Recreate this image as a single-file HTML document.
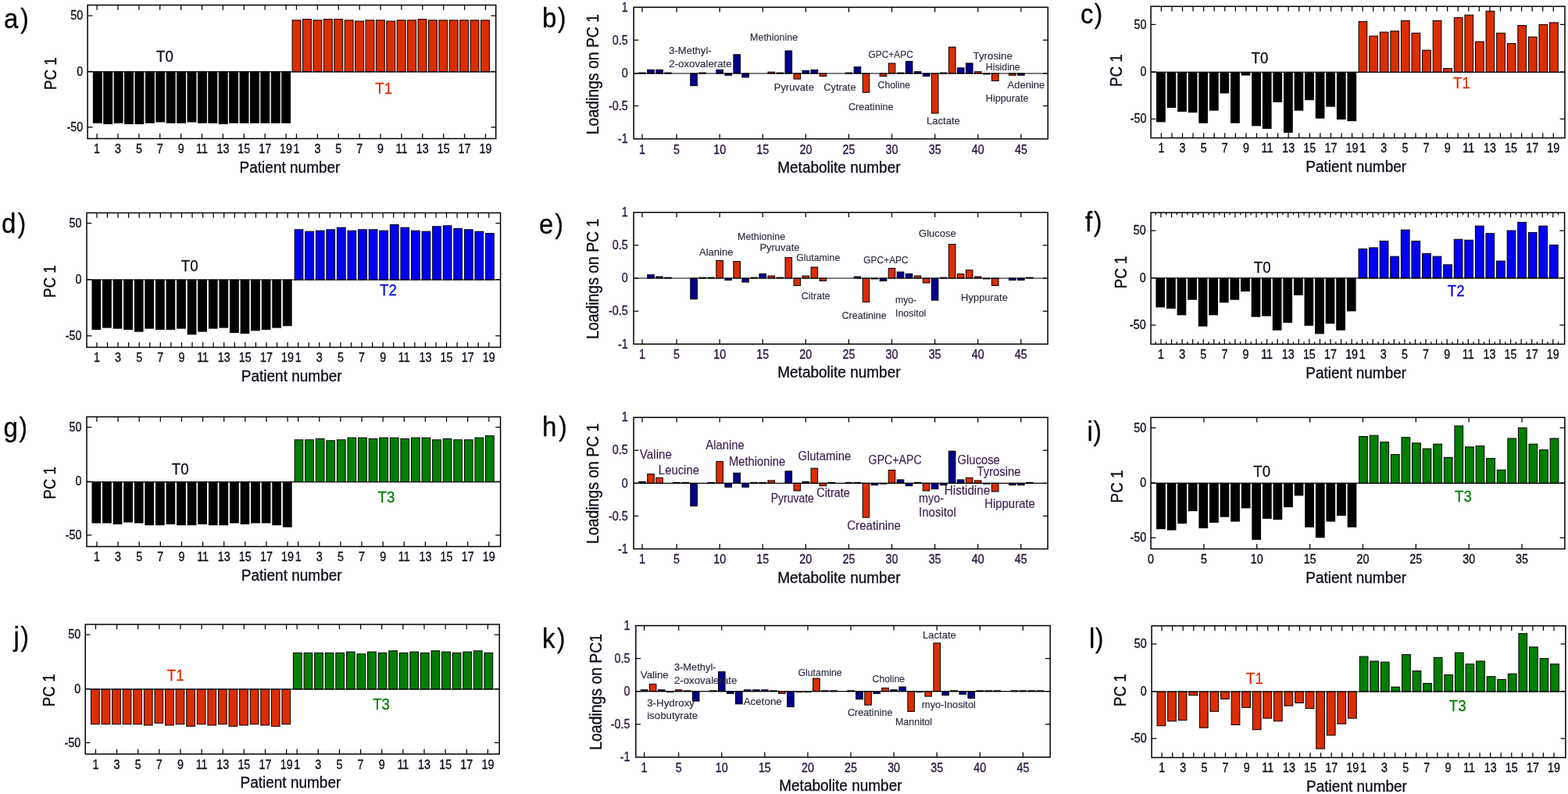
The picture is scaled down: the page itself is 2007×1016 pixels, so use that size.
<!DOCTYPE html>
<html lang="en"><head><meta charset="utf-8"><title>PCA scores and loadings</title>
<style>
html,body{margin:0;padding:0;background:#fff;}
body{width:2007px;height:1016px;overflow:hidden;}
svg{display:block;font-family:"Liberation Sans", Arial, sans-serif;}
</style></head><body>
<svg width="2007" height="1016" viewBox="0 0 2007 1016">
<rect x="0" y="0" width="2007" height="1016" fill="#ffffff"/>
<rect x="119.32" y="91.85" width="10.95" height="65.30" fill="#000000" stroke="#000" stroke-width="1.0"/>
<rect x="132.73" y="91.85" width="10.95" height="66.50" fill="#000000" stroke="#000" stroke-width="1.0"/>
<rect x="146.14" y="91.85" width="10.95" height="65.30" fill="#000000" stroke="#000" stroke-width="1.0"/>
<rect x="159.55" y="91.85" width="10.95" height="66.50" fill="#000000" stroke="#000" stroke-width="1.0"/>
<rect x="172.96" y="91.85" width="10.95" height="66.50" fill="#000000" stroke="#000" stroke-width="1.0"/>
<rect x="186.37" y="91.85" width="10.95" height="65.30" fill="#000000" stroke="#000" stroke-width="1.0"/>
<rect x="199.78" y="91.85" width="10.95" height="64.10" fill="#000000" stroke="#000" stroke-width="1.0"/>
<rect x="213.19" y="91.85" width="10.95" height="65.30" fill="#000000" stroke="#000" stroke-width="1.0"/>
<rect x="226.60" y="91.85" width="10.95" height="65.30" fill="#000000" stroke="#000" stroke-width="1.0"/>
<rect x="240.01" y="91.85" width="10.95" height="64.10" fill="#000000" stroke="#000" stroke-width="1.0"/>
<rect x="253.42" y="91.85" width="10.95" height="65.30" fill="#000000" stroke="#000" stroke-width="1.0"/>
<rect x="266.83" y="91.85" width="10.95" height="65.30" fill="#000000" stroke="#000" stroke-width="1.0"/>
<rect x="280.24" y="91.85" width="10.95" height="66.50" fill="#000000" stroke="#000" stroke-width="1.0"/>
<rect x="293.65" y="91.85" width="10.95" height="65.30" fill="#000000" stroke="#000" stroke-width="1.0"/>
<rect x="307.06" y="91.85" width="10.95" height="65.30" fill="#000000" stroke="#000" stroke-width="1.0"/>
<rect x="320.47" y="91.85" width="10.95" height="65.30" fill="#000000" stroke="#000" stroke-width="1.0"/>
<rect x="333.88" y="91.85" width="10.95" height="65.30" fill="#000000" stroke="#000" stroke-width="1.0"/>
<rect x="347.29" y="91.85" width="10.95" height="65.30" fill="#000000" stroke="#000" stroke-width="1.0"/>
<rect x="360.70" y="91.85" width="10.95" height="65.30" fill="#000000" stroke="#000" stroke-width="1.0"/>
<rect x="374.11" y="25.85" width="10.95" height="66.00" fill="#dc2d00" stroke="#000" stroke-width="1.0"/>
<rect x="387.52" y="24.65" width="10.95" height="67.20" fill="#dc2d00" stroke="#000" stroke-width="1.0"/>
<rect x="400.93" y="25.85" width="10.95" height="66.00" fill="#dc2d00" stroke="#000" stroke-width="1.0"/>
<rect x="414.34" y="24.65" width="10.95" height="67.20" fill="#dc2d00" stroke="#000" stroke-width="1.0"/>
<rect x="427.75" y="24.65" width="10.95" height="67.20" fill="#dc2d00" stroke="#000" stroke-width="1.0"/>
<rect x="441.16" y="25.85" width="10.95" height="66.00" fill="#dc2d00" stroke="#000" stroke-width="1.0"/>
<rect x="454.57" y="27.05" width="10.95" height="64.80" fill="#dc2d00" stroke="#000" stroke-width="1.0"/>
<rect x="467.98" y="25.85" width="10.95" height="66.00" fill="#dc2d00" stroke="#000" stroke-width="1.0"/>
<rect x="481.39" y="25.85" width="10.95" height="66.00" fill="#dc2d00" stroke="#000" stroke-width="1.0"/>
<rect x="494.80" y="27.05" width="10.95" height="64.80" fill="#dc2d00" stroke="#000" stroke-width="1.0"/>
<rect x="508.21" y="25.85" width="10.95" height="66.00" fill="#dc2d00" stroke="#000" stroke-width="1.0"/>
<rect x="521.62" y="25.85" width="10.95" height="66.00" fill="#dc2d00" stroke="#000" stroke-width="1.0"/>
<rect x="535.03" y="24.65" width="10.95" height="67.20" fill="#dc2d00" stroke="#000" stroke-width="1.0"/>
<rect x="548.44" y="25.85" width="10.95" height="66.00" fill="#dc2d00" stroke="#000" stroke-width="1.0"/>
<rect x="561.85" y="25.85" width="10.95" height="66.00" fill="#dc2d00" stroke="#000" stroke-width="1.0"/>
<rect x="575.26" y="25.85" width="10.95" height="66.00" fill="#dc2d00" stroke="#000" stroke-width="1.0"/>
<rect x="588.67" y="25.85" width="10.95" height="66.00" fill="#dc2d00" stroke="#000" stroke-width="1.0"/>
<rect x="602.08" y="25.85" width="10.95" height="66.00" fill="#dc2d00" stroke="#000" stroke-width="1.0"/>
<rect x="615.49" y="25.85" width="10.95" height="66.00" fill="#dc2d00" stroke="#000" stroke-width="1.0"/>
<line x1="112.10" y1="91.85" x2="634.70" y2="91.85" stroke="#000" stroke-width="1.2"/>
<rect x="112.10" y="6.50" width="522.60" height="170.90" fill="none" stroke="#000" stroke-width="1.5"/>
<line x1="124.10" y1="177.40" x2="124.10" y2="171.10" stroke="#000" stroke-width="1.25"/>
<line x1="124.10" y1="6.50" x2="124.10" y2="12.80" stroke="#000" stroke-width="1.25"/>
<line x1="150.98" y1="177.40" x2="150.98" y2="171.10" stroke="#000" stroke-width="1.25"/>
<line x1="150.98" y1="6.50" x2="150.98" y2="12.80" stroke="#000" stroke-width="1.25"/>
<line x1="177.87" y1="177.40" x2="177.87" y2="171.10" stroke="#000" stroke-width="1.25"/>
<line x1="177.87" y1="6.50" x2="177.87" y2="12.80" stroke="#000" stroke-width="1.25"/>
<line x1="204.75" y1="177.40" x2="204.75" y2="171.10" stroke="#000" stroke-width="1.25"/>
<line x1="204.75" y1="6.50" x2="204.75" y2="12.80" stroke="#000" stroke-width="1.25"/>
<line x1="231.64" y1="177.40" x2="231.64" y2="171.10" stroke="#000" stroke-width="1.25"/>
<line x1="231.64" y1="6.50" x2="231.64" y2="12.80" stroke="#000" stroke-width="1.25"/>
<line x1="258.52" y1="177.40" x2="258.52" y2="171.10" stroke="#000" stroke-width="1.25"/>
<line x1="258.52" y1="6.50" x2="258.52" y2="12.80" stroke="#000" stroke-width="1.25"/>
<line x1="285.40" y1="177.40" x2="285.40" y2="171.10" stroke="#000" stroke-width="1.25"/>
<line x1="285.40" y1="6.50" x2="285.40" y2="12.80" stroke="#000" stroke-width="1.25"/>
<line x1="312.29" y1="177.40" x2="312.29" y2="171.10" stroke="#000" stroke-width="1.25"/>
<line x1="312.29" y1="6.50" x2="312.29" y2="12.80" stroke="#000" stroke-width="1.25"/>
<line x1="339.17" y1="177.40" x2="339.17" y2="171.10" stroke="#000" stroke-width="1.25"/>
<line x1="339.17" y1="6.50" x2="339.17" y2="12.80" stroke="#000" stroke-width="1.25"/>
<line x1="366.06" y1="177.40" x2="366.06" y2="171.10" stroke="#000" stroke-width="1.25"/>
<line x1="366.06" y1="6.50" x2="366.06" y2="12.80" stroke="#000" stroke-width="1.25"/>
<line x1="379.50" y1="177.40" x2="379.50" y2="171.10" stroke="#000" stroke-width="1.25"/>
<line x1="379.50" y1="6.50" x2="379.50" y2="12.80" stroke="#000" stroke-width="1.25"/>
<line x1="406.38" y1="177.40" x2="406.38" y2="171.10" stroke="#000" stroke-width="1.25"/>
<line x1="406.38" y1="6.50" x2="406.38" y2="12.80" stroke="#000" stroke-width="1.25"/>
<line x1="433.27" y1="177.40" x2="433.27" y2="171.10" stroke="#000" stroke-width="1.25"/>
<line x1="433.27" y1="6.50" x2="433.27" y2="12.80" stroke="#000" stroke-width="1.25"/>
<line x1="460.15" y1="177.40" x2="460.15" y2="171.10" stroke="#000" stroke-width="1.25"/>
<line x1="460.15" y1="6.50" x2="460.15" y2="12.80" stroke="#000" stroke-width="1.25"/>
<line x1="487.03" y1="177.40" x2="487.03" y2="171.10" stroke="#000" stroke-width="1.25"/>
<line x1="487.03" y1="6.50" x2="487.03" y2="12.80" stroke="#000" stroke-width="1.25"/>
<line x1="513.92" y1="177.40" x2="513.92" y2="171.10" stroke="#000" stroke-width="1.25"/>
<line x1="513.92" y1="6.50" x2="513.92" y2="12.80" stroke="#000" stroke-width="1.25"/>
<line x1="540.80" y1="177.40" x2="540.80" y2="171.10" stroke="#000" stroke-width="1.25"/>
<line x1="540.80" y1="6.50" x2="540.80" y2="12.80" stroke="#000" stroke-width="1.25"/>
<line x1="567.69" y1="177.40" x2="567.69" y2="171.10" stroke="#000" stroke-width="1.25"/>
<line x1="567.69" y1="6.50" x2="567.69" y2="12.80" stroke="#000" stroke-width="1.25"/>
<line x1="594.57" y1="177.40" x2="594.57" y2="171.10" stroke="#000" stroke-width="1.25"/>
<line x1="594.57" y1="6.50" x2="594.57" y2="12.80" stroke="#000" stroke-width="1.25"/>
<line x1="621.45" y1="177.40" x2="621.45" y2="171.10" stroke="#000" stroke-width="1.25"/>
<line x1="621.45" y1="6.50" x2="621.45" y2="12.80" stroke="#000" stroke-width="1.25"/>
<line x1="112.10" y1="20.10" x2="118.40" y2="20.10" stroke="#000" stroke-width="1.25"/>
<line x1="634.70" y1="20.10" x2="628.40" y2="20.10" stroke="#000" stroke-width="1.25"/>
<line x1="112.10" y1="91.45" x2="118.40" y2="91.45" stroke="#000" stroke-width="1.25"/>
<line x1="634.70" y1="91.45" x2="628.40" y2="91.45" stroke="#000" stroke-width="1.25"/>
<line x1="112.10" y1="162.80" x2="118.40" y2="162.80" stroke="#000" stroke-width="1.25"/>
<line x1="634.70" y1="162.80" x2="628.40" y2="162.80" stroke="#000" stroke-width="1.25"/>
<text transform="translate(124.10 196.30) scale(0.825 1)" font-size="17.4" fill="#0c0c18" text-anchor="middle" stroke="#0c0c18" stroke-width="0.35">1</text>
<text transform="translate(150.98 196.30) scale(0.825 1)" font-size="17.4" fill="#0c0c18" text-anchor="middle" stroke="#0c0c18" stroke-width="0.35">3</text>
<text transform="translate(177.87 196.30) scale(0.825 1)" font-size="17.4" fill="#0c0c18" text-anchor="middle" stroke="#0c0c18" stroke-width="0.35">5</text>
<text transform="translate(204.75 196.30) scale(0.825 1)" font-size="17.4" fill="#0c0c18" text-anchor="middle" stroke="#0c0c18" stroke-width="0.35">7</text>
<text transform="translate(231.64 196.30) scale(0.825 1)" font-size="17.4" fill="#0c0c18" text-anchor="middle" stroke="#0c0c18" stroke-width="0.35">9</text>
<text transform="translate(258.52 196.30) scale(0.825 1)" font-size="17.4" fill="#0c0c18" text-anchor="middle" stroke="#0c0c18" stroke-width="0.35">11</text>
<text transform="translate(285.40 196.30) scale(0.825 1)" font-size="17.4" fill="#0c0c18" text-anchor="middle" stroke="#0c0c18" stroke-width="0.35">13</text>
<text transform="translate(312.29 196.30) scale(0.825 1)" font-size="17.4" fill="#0c0c18" text-anchor="middle" stroke="#0c0c18" stroke-width="0.35">15</text>
<text transform="translate(339.17 196.30) scale(0.825 1)" font-size="17.4" fill="#0c0c18" text-anchor="middle" stroke="#0c0c18" stroke-width="0.35">17</text>
<text transform="translate(366.06 196.30) scale(0.825 1)" font-size="17.4" fill="#0c0c18" text-anchor="middle" stroke="#0c0c18" stroke-width="0.35">19</text>
<text transform="translate(379.50 196.30) scale(0.825 1)" font-size="17.4" fill="#0c0c18" text-anchor="middle" stroke="#0c0c18" stroke-width="0.35">1</text>
<text transform="translate(406.38 196.30) scale(0.825 1)" font-size="17.4" fill="#0c0c18" text-anchor="middle" stroke="#0c0c18" stroke-width="0.35">3</text>
<text transform="translate(433.27 196.30) scale(0.825 1)" font-size="17.4" fill="#0c0c18" text-anchor="middle" stroke="#0c0c18" stroke-width="0.35">5</text>
<text transform="translate(460.15 196.30) scale(0.825 1)" font-size="17.4" fill="#0c0c18" text-anchor="middle" stroke="#0c0c18" stroke-width="0.35">7</text>
<text transform="translate(487.03 196.30) scale(0.825 1)" font-size="17.4" fill="#0c0c18" text-anchor="middle" stroke="#0c0c18" stroke-width="0.35">9</text>
<text transform="translate(513.92 196.30) scale(0.825 1)" font-size="17.4" fill="#0c0c18" text-anchor="middle" stroke="#0c0c18" stroke-width="0.35">11</text>
<text transform="translate(540.80 196.30) scale(0.825 1)" font-size="17.4" fill="#0c0c18" text-anchor="middle" stroke="#0c0c18" stroke-width="0.35">13</text>
<text transform="translate(567.69 196.30) scale(0.825 1)" font-size="17.4" fill="#0c0c18" text-anchor="middle" stroke="#0c0c18" stroke-width="0.35">15</text>
<text transform="translate(594.57 196.30) scale(0.825 1)" font-size="17.4" fill="#0c0c18" text-anchor="middle" stroke="#0c0c18" stroke-width="0.35">17</text>
<text transform="translate(621.45 196.30) scale(0.825 1)" font-size="17.4" fill="#0c0c18" text-anchor="middle" stroke="#0c0c18" stroke-width="0.35">19</text>
<text transform="translate(106.30 25.30) scale(0.825 1)" font-size="17.4" fill="#0c0c18" text-anchor="end" stroke="#0c0c18" stroke-width="0.35">50</text>
<text transform="translate(106.30 96.65) scale(0.825 1)" font-size="17.4" fill="#0c0c18" text-anchor="end" stroke="#0c0c18" stroke-width="0.35">0</text>
<text transform="translate(106.30 168.00) scale(0.825 1)" font-size="17.4" fill="#0c0c18" text-anchor="end" stroke="#0c0c18" stroke-width="0.35">-50</text>
<text transform="translate(371.00 220.50) scale(0.965 1)" font-size="19.7" fill="#0c0c18" text-anchor="middle" stroke="#0c0c18" stroke-width="0.3">Patient number</text>
<text transform="translate(72.00 94.10) rotate(-90) scale(0.955 1.09)" font-size="19.7" fill="#0c0c18" text-anchor="middle" stroke="#0c0c18" stroke-width="0.3">PC 1</text>
<text transform="translate(211.00 79.00) scale(0.96 1)" font-size="19.5" fill="#0c0c18" text-anchor="middle" stroke="#0c0c18" stroke-width="0.25">T0</text>
<text transform="translate(491.20 120.40) scale(0.96 1)" font-size="19.5" fill="#dc2d00" text-anchor="middle" stroke="#dc2d00" stroke-width="0.25">T1</text>
<text transform="translate(4.90 36.10) scale(0.95 1)" font-size="34.8" fill="#000" text-anchor="start" stroke="#000" stroke-width="0.3">a</text>
<text transform="translate(26.30 36.10) scale(0.9 1)" font-size="34.8" fill="#000" text-anchor="start" stroke="#000" stroke-width="0.3">)</text>
<rect x="1480.52" y="92.40" width="10.75" height="63.40" fill="#000000" stroke="#000" stroke-width="1.0"/>
<rect x="1494.10" y="92.40" width="10.75" height="45.00" fill="#000000" stroke="#000" stroke-width="1.0"/>
<rect x="1507.68" y="92.40" width="10.75" height="50.00" fill="#000000" stroke="#000" stroke-width="1.0"/>
<rect x="1521.26" y="92.40" width="10.75" height="51.20" fill="#000000" stroke="#000" stroke-width="1.0"/>
<rect x="1534.84" y="92.40" width="10.75" height="64.70" fill="#000000" stroke="#000" stroke-width="1.0"/>
<rect x="1548.42" y="92.40" width="10.75" height="48.70" fill="#000000" stroke="#000" stroke-width="1.0"/>
<rect x="1562.00" y="92.40" width="10.75" height="26.60" fill="#000000" stroke="#000" stroke-width="1.0"/>
<rect x="1575.58" y="92.40" width="10.75" height="64.70" fill="#000000" stroke="#000" stroke-width="1.0"/>
<rect x="1589.16" y="92.40" width="10.75" height="3.70" fill="#000000" stroke="#000" stroke-width="1.0"/>
<rect x="1602.74" y="92.40" width="10.75" height="68.40" fill="#000000" stroke="#000" stroke-width="1.0"/>
<rect x="1616.32" y="92.40" width="10.75" height="71.90" fill="#000000" stroke="#000" stroke-width="1.0"/>
<rect x="1629.90" y="92.40" width="10.75" height="37.80" fill="#000000" stroke="#000" stroke-width="1.0"/>
<rect x="1643.48" y="92.40" width="10.75" height="76.90" fill="#000000" stroke="#000" stroke-width="1.0"/>
<rect x="1657.06" y="92.40" width="10.75" height="48.70" fill="#000000" stroke="#000" stroke-width="1.0"/>
<rect x="1670.64" y="92.40" width="10.75" height="35.30" fill="#000000" stroke="#000" stroke-width="1.0"/>
<rect x="1684.22" y="92.40" width="10.75" height="58.70" fill="#000000" stroke="#000" stroke-width="1.0"/>
<rect x="1697.80" y="92.40" width="10.75" height="43.70" fill="#000000" stroke="#000" stroke-width="1.0"/>
<rect x="1711.38" y="92.40" width="10.75" height="60.00" fill="#000000" stroke="#000" stroke-width="1.0"/>
<rect x="1724.96" y="92.40" width="10.75" height="62.20" fill="#000000" stroke="#000" stroke-width="1.0"/>
<rect x="1739.10" y="27.60" width="10.75" height="64.80" fill="#dc2d00" stroke="#000" stroke-width="1.0"/>
<rect x="1752.68" y="46.10" width="10.75" height="46.30" fill="#dc2d00" stroke="#000" stroke-width="1.0"/>
<rect x="1766.26" y="41.10" width="10.75" height="51.30" fill="#dc2d00" stroke="#000" stroke-width="1.0"/>
<rect x="1779.84" y="39.80" width="10.75" height="52.60" fill="#dc2d00" stroke="#000" stroke-width="1.0"/>
<rect x="1793.42" y="26.40" width="10.75" height="66.00" fill="#dc2d00" stroke="#000" stroke-width="1.0"/>
<rect x="1807.00" y="42.30" width="10.75" height="50.10" fill="#dc2d00" stroke="#000" stroke-width="1.0"/>
<rect x="1820.58" y="64.20" width="10.75" height="28.20" fill="#dc2d00" stroke="#000" stroke-width="1.0"/>
<rect x="1834.16" y="26.40" width="10.75" height="66.00" fill="#dc2d00" stroke="#000" stroke-width="1.0"/>
<rect x="1847.74" y="87.60" width="10.75" height="4.80" fill="#dc2d00" stroke="#000" stroke-width="1.0"/>
<rect x="1861.32" y="22.60" width="10.75" height="69.80" fill="#dc2d00" stroke="#000" stroke-width="1.0"/>
<rect x="1874.90" y="19.20" width="10.75" height="73.20" fill="#dc2d00" stroke="#000" stroke-width="1.0"/>
<rect x="1888.48" y="53.30" width="10.75" height="39.10" fill="#dc2d00" stroke="#000" stroke-width="1.0"/>
<rect x="1902.06" y="14.20" width="10.75" height="78.20" fill="#dc2d00" stroke="#000" stroke-width="1.0"/>
<rect x="1915.64" y="42.30" width="10.75" height="50.10" fill="#dc2d00" stroke="#000" stroke-width="1.0"/>
<rect x="1929.22" y="55.70" width="10.75" height="36.70" fill="#dc2d00" stroke="#000" stroke-width="1.0"/>
<rect x="1942.80" y="32.60" width="10.75" height="59.80" fill="#dc2d00" stroke="#000" stroke-width="1.0"/>
<rect x="1956.38" y="47.30" width="10.75" height="45.10" fill="#dc2d00" stroke="#000" stroke-width="1.0"/>
<rect x="1969.96" y="31.40" width="10.75" height="61.00" fill="#dc2d00" stroke="#000" stroke-width="1.0"/>
<rect x="1983.54" y="28.90" width="10.75" height="63.50" fill="#dc2d00" stroke="#000" stroke-width="1.0"/>
<line x1="1473.10" y1="92.40" x2="2003.00" y2="92.40" stroke="#000" stroke-width="1.2"/>
<rect x="1473.10" y="8.20" width="529.90" height="168.30" fill="none" stroke="#000" stroke-width="1.5"/>
<line x1="1486.40" y1="176.50" x2="1486.40" y2="170.20" stroke="#000" stroke-width="1.25"/>
<line x1="1486.40" y1="8.20" x2="1486.40" y2="14.50" stroke="#000" stroke-width="1.25"/>
<line x1="1499.97" y1="176.50" x2="1499.97" y2="170.20" stroke="#000" stroke-width="1.25"/>
<line x1="1499.97" y1="8.20" x2="1499.97" y2="14.50" stroke="#000" stroke-width="1.25"/>
<line x1="1513.53" y1="176.50" x2="1513.53" y2="170.20" stroke="#000" stroke-width="1.25"/>
<line x1="1513.53" y1="8.20" x2="1513.53" y2="14.50" stroke="#000" stroke-width="1.25"/>
<line x1="1527.10" y1="176.50" x2="1527.10" y2="170.20" stroke="#000" stroke-width="1.25"/>
<line x1="1527.10" y1="8.20" x2="1527.10" y2="14.50" stroke="#000" stroke-width="1.25"/>
<line x1="1540.66" y1="176.50" x2="1540.66" y2="170.20" stroke="#000" stroke-width="1.25"/>
<line x1="1540.66" y1="8.20" x2="1540.66" y2="14.50" stroke="#000" stroke-width="1.25"/>
<line x1="1554.23" y1="176.50" x2="1554.23" y2="170.20" stroke="#000" stroke-width="1.25"/>
<line x1="1554.23" y1="8.20" x2="1554.23" y2="14.50" stroke="#000" stroke-width="1.25"/>
<line x1="1567.79" y1="176.50" x2="1567.79" y2="170.20" stroke="#000" stroke-width="1.25"/>
<line x1="1567.79" y1="8.20" x2="1567.79" y2="14.50" stroke="#000" stroke-width="1.25"/>
<line x1="1581.36" y1="176.50" x2="1581.36" y2="170.20" stroke="#000" stroke-width="1.25"/>
<line x1="1581.36" y1="8.20" x2="1581.36" y2="14.50" stroke="#000" stroke-width="1.25"/>
<line x1="1594.92" y1="176.50" x2="1594.92" y2="170.20" stroke="#000" stroke-width="1.25"/>
<line x1="1594.92" y1="8.20" x2="1594.92" y2="14.50" stroke="#000" stroke-width="1.25"/>
<line x1="1608.49" y1="176.50" x2="1608.49" y2="170.20" stroke="#000" stroke-width="1.25"/>
<line x1="1608.49" y1="8.20" x2="1608.49" y2="14.50" stroke="#000" stroke-width="1.25"/>
<line x1="1622.05" y1="176.50" x2="1622.05" y2="170.20" stroke="#000" stroke-width="1.25"/>
<line x1="1622.05" y1="8.20" x2="1622.05" y2="14.50" stroke="#000" stroke-width="1.25"/>
<line x1="1635.62" y1="176.50" x2="1635.62" y2="170.20" stroke="#000" stroke-width="1.25"/>
<line x1="1635.62" y1="8.20" x2="1635.62" y2="14.50" stroke="#000" stroke-width="1.25"/>
<line x1="1649.18" y1="176.50" x2="1649.18" y2="170.20" stroke="#000" stroke-width="1.25"/>
<line x1="1649.18" y1="8.20" x2="1649.18" y2="14.50" stroke="#000" stroke-width="1.25"/>
<line x1="1662.75" y1="176.50" x2="1662.75" y2="170.20" stroke="#000" stroke-width="1.25"/>
<line x1="1662.75" y1="8.20" x2="1662.75" y2="14.50" stroke="#000" stroke-width="1.25"/>
<line x1="1676.31" y1="176.50" x2="1676.31" y2="170.20" stroke="#000" stroke-width="1.25"/>
<line x1="1676.31" y1="8.20" x2="1676.31" y2="14.50" stroke="#000" stroke-width="1.25"/>
<line x1="1689.88" y1="176.50" x2="1689.88" y2="170.20" stroke="#000" stroke-width="1.25"/>
<line x1="1689.88" y1="8.20" x2="1689.88" y2="14.50" stroke="#000" stroke-width="1.25"/>
<line x1="1703.44" y1="176.50" x2="1703.44" y2="170.20" stroke="#000" stroke-width="1.25"/>
<line x1="1703.44" y1="8.20" x2="1703.44" y2="14.50" stroke="#000" stroke-width="1.25"/>
<line x1="1717.01" y1="176.50" x2="1717.01" y2="170.20" stroke="#000" stroke-width="1.25"/>
<line x1="1717.01" y1="8.20" x2="1717.01" y2="14.50" stroke="#000" stroke-width="1.25"/>
<line x1="1730.57" y1="176.50" x2="1730.57" y2="170.20" stroke="#000" stroke-width="1.25"/>
<line x1="1730.57" y1="8.20" x2="1730.57" y2="14.50" stroke="#000" stroke-width="1.25"/>
<line x1="1744.14" y1="176.50" x2="1744.14" y2="170.20" stroke="#000" stroke-width="1.25"/>
<line x1="1744.14" y1="8.20" x2="1744.14" y2="14.50" stroke="#000" stroke-width="1.25"/>
<line x1="1757.70" y1="176.50" x2="1757.70" y2="170.20" stroke="#000" stroke-width="1.25"/>
<line x1="1757.70" y1="8.20" x2="1757.70" y2="14.50" stroke="#000" stroke-width="1.25"/>
<line x1="1771.27" y1="176.50" x2="1771.27" y2="170.20" stroke="#000" stroke-width="1.25"/>
<line x1="1771.27" y1="8.20" x2="1771.27" y2="14.50" stroke="#000" stroke-width="1.25"/>
<line x1="1784.83" y1="176.50" x2="1784.83" y2="170.20" stroke="#000" stroke-width="1.25"/>
<line x1="1784.83" y1="8.20" x2="1784.83" y2="14.50" stroke="#000" stroke-width="1.25"/>
<line x1="1798.39" y1="176.50" x2="1798.39" y2="170.20" stroke="#000" stroke-width="1.25"/>
<line x1="1798.39" y1="8.20" x2="1798.39" y2="14.50" stroke="#000" stroke-width="1.25"/>
<line x1="1811.96" y1="176.50" x2="1811.96" y2="170.20" stroke="#000" stroke-width="1.25"/>
<line x1="1811.96" y1="8.20" x2="1811.96" y2="14.50" stroke="#000" stroke-width="1.25"/>
<line x1="1825.53" y1="176.50" x2="1825.53" y2="170.20" stroke="#000" stroke-width="1.25"/>
<line x1="1825.53" y1="8.20" x2="1825.53" y2="14.50" stroke="#000" stroke-width="1.25"/>
<line x1="1839.09" y1="176.50" x2="1839.09" y2="170.20" stroke="#000" stroke-width="1.25"/>
<line x1="1839.09" y1="8.20" x2="1839.09" y2="14.50" stroke="#000" stroke-width="1.25"/>
<line x1="1852.66" y1="176.50" x2="1852.66" y2="170.20" stroke="#000" stroke-width="1.25"/>
<line x1="1852.66" y1="8.20" x2="1852.66" y2="14.50" stroke="#000" stroke-width="1.25"/>
<line x1="1866.22" y1="176.50" x2="1866.22" y2="170.20" stroke="#000" stroke-width="1.25"/>
<line x1="1866.22" y1="8.20" x2="1866.22" y2="14.50" stroke="#000" stroke-width="1.25"/>
<line x1="1879.79" y1="176.50" x2="1879.79" y2="170.20" stroke="#000" stroke-width="1.25"/>
<line x1="1879.79" y1="8.20" x2="1879.79" y2="14.50" stroke="#000" stroke-width="1.25"/>
<line x1="1893.35" y1="176.50" x2="1893.35" y2="170.20" stroke="#000" stroke-width="1.25"/>
<line x1="1893.35" y1="8.20" x2="1893.35" y2="14.50" stroke="#000" stroke-width="1.25"/>
<line x1="1906.91" y1="176.50" x2="1906.91" y2="170.20" stroke="#000" stroke-width="1.25"/>
<line x1="1906.91" y1="8.20" x2="1906.91" y2="14.50" stroke="#000" stroke-width="1.25"/>
<line x1="1920.48" y1="176.50" x2="1920.48" y2="170.20" stroke="#000" stroke-width="1.25"/>
<line x1="1920.48" y1="8.20" x2="1920.48" y2="14.50" stroke="#000" stroke-width="1.25"/>
<line x1="1934.05" y1="176.50" x2="1934.05" y2="170.20" stroke="#000" stroke-width="1.25"/>
<line x1="1934.05" y1="8.20" x2="1934.05" y2="14.50" stroke="#000" stroke-width="1.25"/>
<line x1="1947.61" y1="176.50" x2="1947.61" y2="170.20" stroke="#000" stroke-width="1.25"/>
<line x1="1947.61" y1="8.20" x2="1947.61" y2="14.50" stroke="#000" stroke-width="1.25"/>
<line x1="1961.18" y1="176.50" x2="1961.18" y2="170.20" stroke="#000" stroke-width="1.25"/>
<line x1="1961.18" y1="8.20" x2="1961.18" y2="14.50" stroke="#000" stroke-width="1.25"/>
<line x1="1974.74" y1="176.50" x2="1974.74" y2="170.20" stroke="#000" stroke-width="1.25"/>
<line x1="1974.74" y1="8.20" x2="1974.74" y2="14.50" stroke="#000" stroke-width="1.25"/>
<line x1="1988.31" y1="176.50" x2="1988.31" y2="170.20" stroke="#000" stroke-width="1.25"/>
<line x1="1988.31" y1="8.20" x2="1988.31" y2="14.50" stroke="#000" stroke-width="1.25"/>
<line x1="1473.10" y1="31.40" x2="1479.40" y2="31.40" stroke="#000" stroke-width="1.25"/>
<line x1="2003.00" y1="31.40" x2="1996.70" y2="31.40" stroke="#000" stroke-width="1.25"/>
<line x1="1473.10" y1="92.00" x2="1479.40" y2="92.00" stroke="#000" stroke-width="1.25"/>
<line x1="2003.00" y1="92.00" x2="1996.70" y2="92.00" stroke="#000" stroke-width="1.25"/>
<line x1="1473.10" y1="152.20" x2="1479.40" y2="152.20" stroke="#000" stroke-width="1.25"/>
<line x1="2003.00" y1="152.20" x2="1996.70" y2="152.20" stroke="#000" stroke-width="1.25"/>
<text transform="translate(1486.40 195.40) scale(0.825 1)" font-size="17.4" fill="#0c0c18" text-anchor="middle" stroke="#0c0c18" stroke-width="0.35">1</text>
<text transform="translate(1513.53 195.40) scale(0.825 1)" font-size="17.4" fill="#0c0c18" text-anchor="middle" stroke="#0c0c18" stroke-width="0.35">3</text>
<text transform="translate(1540.66 195.40) scale(0.825 1)" font-size="17.4" fill="#0c0c18" text-anchor="middle" stroke="#0c0c18" stroke-width="0.35">5</text>
<text transform="translate(1567.79 195.40) scale(0.825 1)" font-size="17.4" fill="#0c0c18" text-anchor="middle" stroke="#0c0c18" stroke-width="0.35">7</text>
<text transform="translate(1594.92 195.40) scale(0.825 1)" font-size="17.4" fill="#0c0c18" text-anchor="middle" stroke="#0c0c18" stroke-width="0.35">9</text>
<text transform="translate(1622.05 195.40) scale(0.825 1)" font-size="17.4" fill="#0c0c18" text-anchor="middle" stroke="#0c0c18" stroke-width="0.35">11</text>
<text transform="translate(1649.18 195.40) scale(0.825 1)" font-size="17.4" fill="#0c0c18" text-anchor="middle" stroke="#0c0c18" stroke-width="0.35">13</text>
<text transform="translate(1676.31 195.40) scale(0.825 1)" font-size="17.4" fill="#0c0c18" text-anchor="middle" stroke="#0c0c18" stroke-width="0.35">15</text>
<text transform="translate(1703.44 195.40) scale(0.825 1)" font-size="17.4" fill="#0c0c18" text-anchor="middle" stroke="#0c0c18" stroke-width="0.35">17</text>
<text transform="translate(1730.57 195.40) scale(0.825 1)" font-size="17.4" fill="#0c0c18" text-anchor="middle" stroke="#0c0c18" stroke-width="0.35">19</text>
<text transform="translate(1744.14 195.40) scale(0.825 1)" font-size="17.4" fill="#0c0c18" text-anchor="middle" stroke="#0c0c18" stroke-width="0.35">1</text>
<text transform="translate(1771.27 195.40) scale(0.825 1)" font-size="17.4" fill="#0c0c18" text-anchor="middle" stroke="#0c0c18" stroke-width="0.35">3</text>
<text transform="translate(1798.39 195.40) scale(0.825 1)" font-size="17.4" fill="#0c0c18" text-anchor="middle" stroke="#0c0c18" stroke-width="0.35">5</text>
<text transform="translate(1825.53 195.40) scale(0.825 1)" font-size="17.4" fill="#0c0c18" text-anchor="middle" stroke="#0c0c18" stroke-width="0.35">7</text>
<text transform="translate(1852.66 195.40) scale(0.825 1)" font-size="17.4" fill="#0c0c18" text-anchor="middle" stroke="#0c0c18" stroke-width="0.35">9</text>
<text transform="translate(1879.79 195.40) scale(0.825 1)" font-size="17.4" fill="#0c0c18" text-anchor="middle" stroke="#0c0c18" stroke-width="0.35">11</text>
<text transform="translate(1906.91 195.40) scale(0.825 1)" font-size="17.4" fill="#0c0c18" text-anchor="middle" stroke="#0c0c18" stroke-width="0.35">13</text>
<text transform="translate(1934.05 195.40) scale(0.825 1)" font-size="17.4" fill="#0c0c18" text-anchor="middle" stroke="#0c0c18" stroke-width="0.35">15</text>
<text transform="translate(1961.18 195.40) scale(0.825 1)" font-size="17.4" fill="#0c0c18" text-anchor="middle" stroke="#0c0c18" stroke-width="0.35">17</text>
<text transform="translate(1988.31 195.40) scale(0.825 1)" font-size="17.4" fill="#0c0c18" text-anchor="middle" stroke="#0c0c18" stroke-width="0.35">19</text>
<text transform="translate(1467.50 36.60) scale(0.825 1)" font-size="17.4" fill="#0c0c18" text-anchor="end" stroke="#0c0c18" stroke-width="0.35">50</text>
<text transform="translate(1467.50 97.20) scale(0.825 1)" font-size="17.4" fill="#0c0c18" text-anchor="end" stroke="#0c0c18" stroke-width="0.35">0</text>
<text transform="translate(1467.50 157.40) scale(0.825 1)" font-size="17.4" fill="#0c0c18" text-anchor="end" stroke="#0c0c18" stroke-width="0.35">-50</text>
<text transform="translate(1735.70 219.60) scale(0.965 1)" font-size="19.7" fill="#0c0c18" text-anchor="middle" stroke="#0c0c18" stroke-width="0.3">Patient number</text>
<text transform="translate(1435.70 90.10) rotate(-90) scale(0.955 1.09)" font-size="19.7" fill="#0c0c18" text-anchor="middle" stroke="#0c0c18" stroke-width="0.3">PC 1</text>
<text transform="translate(1612.50 81.20) scale(0.96 1)" font-size="19.5" fill="#0c0c18" text-anchor="middle" stroke="#0c0c18" stroke-width="0.25">T0</text>
<text transform="translate(1870.90 113.10) scale(0.96 1)" font-size="19.5" fill="#dc2d00" text-anchor="middle" stroke="#dc2d00" stroke-width="0.25">T1</text>
<text transform="translate(1382.90 29.90) scale(0.95 1)" font-size="34.8" fill="#000" text-anchor="start" stroke="#000" stroke-width="0.3">c</text>
<text transform="translate(1400.70 29.90) scale(0.9 1)" font-size="34.8" fill="#000" text-anchor="start" stroke="#000" stroke-width="0.3">)</text>
<rect x="117.98" y="358.00" width="10.75" height="63.50" fill="#000000" stroke="#000" stroke-width="1.0"/>
<rect x="131.56" y="358.00" width="10.75" height="61.10" fill="#000000" stroke="#000" stroke-width="1.0"/>
<rect x="145.14" y="358.00" width="10.75" height="62.10" fill="#000000" stroke="#000" stroke-width="1.0"/>
<rect x="158.72" y="358.00" width="10.75" height="63.50" fill="#000000" stroke="#000" stroke-width="1.0"/>
<rect x="172.30" y="358.00" width="10.75" height="66.10" fill="#000000" stroke="#000" stroke-width="1.0"/>
<rect x="185.87" y="358.00" width="10.75" height="62.10" fill="#000000" stroke="#000" stroke-width="1.0"/>
<rect x="199.45" y="358.00" width="10.75" height="63.50" fill="#000000" stroke="#000" stroke-width="1.0"/>
<rect x="213.03" y="358.00" width="10.75" height="63.50" fill="#000000" stroke="#000" stroke-width="1.0"/>
<rect x="226.61" y="358.00" width="10.75" height="62.10" fill="#000000" stroke="#000" stroke-width="1.0"/>
<rect x="240.19" y="358.00" width="10.75" height="69.80" fill="#000000" stroke="#000" stroke-width="1.0"/>
<rect x="253.76" y="358.00" width="10.75" height="66.10" fill="#000000" stroke="#000" stroke-width="1.0"/>
<rect x="267.34" y="358.00" width="10.75" height="62.10" fill="#000000" stroke="#000" stroke-width="1.0"/>
<rect x="280.92" y="358.00" width="10.75" height="61.10" fill="#000000" stroke="#000" stroke-width="1.0"/>
<rect x="294.50" y="358.00" width="10.75" height="67.50" fill="#000000" stroke="#000" stroke-width="1.0"/>
<rect x="308.08" y="358.00" width="10.75" height="68.50" fill="#000000" stroke="#000" stroke-width="1.0"/>
<rect x="321.65" y="358.00" width="10.75" height="64.80" fill="#000000" stroke="#000" stroke-width="1.0"/>
<rect x="335.23" y="358.00" width="10.75" height="63.50" fill="#000000" stroke="#000" stroke-width="1.0"/>
<rect x="348.81" y="358.00" width="10.75" height="61.10" fill="#000000" stroke="#000" stroke-width="1.0"/>
<rect x="362.39" y="358.00" width="10.75" height="58.80" fill="#000000" stroke="#000" stroke-width="1.0"/>
<rect x="377.15" y="293.80" width="10.75" height="64.20" fill="#0000f5" stroke="#000" stroke-width="1.0"/>
<rect x="390.73" y="296.20" width="10.75" height="61.80" fill="#0000f5" stroke="#000" stroke-width="1.0"/>
<rect x="404.31" y="295.20" width="10.75" height="62.80" fill="#0000f5" stroke="#000" stroke-width="1.0"/>
<rect x="417.88" y="293.80" width="10.75" height="64.20" fill="#0000f5" stroke="#000" stroke-width="1.0"/>
<rect x="431.46" y="291.20" width="10.75" height="66.80" fill="#0000f5" stroke="#000" stroke-width="1.0"/>
<rect x="445.04" y="295.20" width="10.75" height="62.80" fill="#0000f5" stroke="#000" stroke-width="1.0"/>
<rect x="458.62" y="293.80" width="10.75" height="64.20" fill="#0000f5" stroke="#000" stroke-width="1.0"/>
<rect x="472.20" y="293.80" width="10.75" height="64.20" fill="#0000f5" stroke="#000" stroke-width="1.0"/>
<rect x="485.77" y="295.20" width="10.75" height="62.80" fill="#0000f5" stroke="#000" stroke-width="1.0"/>
<rect x="499.35" y="287.50" width="10.75" height="70.50" fill="#0000f5" stroke="#000" stroke-width="1.0"/>
<rect x="512.93" y="291.20" width="10.75" height="66.80" fill="#0000f5" stroke="#000" stroke-width="1.0"/>
<rect x="526.51" y="295.20" width="10.75" height="62.80" fill="#0000f5" stroke="#000" stroke-width="1.0"/>
<rect x="540.09" y="296.20" width="10.75" height="61.80" fill="#0000f5" stroke="#000" stroke-width="1.0"/>
<rect x="553.66" y="289.80" width="10.75" height="68.20" fill="#0000f5" stroke="#000" stroke-width="1.0"/>
<rect x="567.24" y="288.80" width="10.75" height="69.20" fill="#0000f5" stroke="#000" stroke-width="1.0"/>
<rect x="580.82" y="292.50" width="10.75" height="65.50" fill="#0000f5" stroke="#000" stroke-width="1.0"/>
<rect x="594.40" y="293.80" width="10.75" height="64.20" fill="#0000f5" stroke="#000" stroke-width="1.0"/>
<rect x="607.98" y="296.20" width="10.75" height="61.80" fill="#0000f5" stroke="#000" stroke-width="1.0"/>
<rect x="621.55" y="298.50" width="10.75" height="59.50" fill="#0000f5" stroke="#000" stroke-width="1.0"/>
<line x1="111.00" y1="358.00" x2="640.60" y2="358.00" stroke="#000" stroke-width="1.2"/>
<rect x="111.00" y="272.40" width="529.60" height="172.00" fill="none" stroke="#000" stroke-width="1.5"/>
<line x1="123.96" y1="444.40" x2="123.96" y2="438.10" stroke="#000" stroke-width="1.25"/>
<line x1="123.96" y1="272.40" x2="123.96" y2="278.70" stroke="#000" stroke-width="1.25"/>
<line x1="137.52" y1="444.40" x2="137.52" y2="438.10" stroke="#000" stroke-width="1.25"/>
<line x1="137.52" y1="272.40" x2="137.52" y2="278.70" stroke="#000" stroke-width="1.25"/>
<line x1="151.09" y1="444.40" x2="151.09" y2="438.10" stroke="#000" stroke-width="1.25"/>
<line x1="151.09" y1="272.40" x2="151.09" y2="278.70" stroke="#000" stroke-width="1.25"/>
<line x1="164.65" y1="444.40" x2="164.65" y2="438.10" stroke="#000" stroke-width="1.25"/>
<line x1="164.65" y1="272.40" x2="164.65" y2="278.70" stroke="#000" stroke-width="1.25"/>
<line x1="178.21" y1="444.40" x2="178.21" y2="438.10" stroke="#000" stroke-width="1.25"/>
<line x1="178.21" y1="272.40" x2="178.21" y2="278.70" stroke="#000" stroke-width="1.25"/>
<line x1="191.77" y1="444.40" x2="191.77" y2="438.10" stroke="#000" stroke-width="1.25"/>
<line x1="191.77" y1="272.40" x2="191.77" y2="278.70" stroke="#000" stroke-width="1.25"/>
<line x1="205.34" y1="444.40" x2="205.34" y2="438.10" stroke="#000" stroke-width="1.25"/>
<line x1="205.34" y1="272.40" x2="205.34" y2="278.70" stroke="#000" stroke-width="1.25"/>
<line x1="218.90" y1="444.40" x2="218.90" y2="438.10" stroke="#000" stroke-width="1.25"/>
<line x1="218.90" y1="272.40" x2="218.90" y2="278.70" stroke="#000" stroke-width="1.25"/>
<line x1="232.46" y1="444.40" x2="232.46" y2="438.10" stroke="#000" stroke-width="1.25"/>
<line x1="232.46" y1="272.40" x2="232.46" y2="278.70" stroke="#000" stroke-width="1.25"/>
<line x1="246.03" y1="444.40" x2="246.03" y2="438.10" stroke="#000" stroke-width="1.25"/>
<line x1="246.03" y1="272.40" x2="246.03" y2="278.70" stroke="#000" stroke-width="1.25"/>
<line x1="259.59" y1="444.40" x2="259.59" y2="438.10" stroke="#000" stroke-width="1.25"/>
<line x1="259.59" y1="272.40" x2="259.59" y2="278.70" stroke="#000" stroke-width="1.25"/>
<line x1="273.15" y1="444.40" x2="273.15" y2="438.10" stroke="#000" stroke-width="1.25"/>
<line x1="273.15" y1="272.40" x2="273.15" y2="278.70" stroke="#000" stroke-width="1.25"/>
<line x1="286.72" y1="444.40" x2="286.72" y2="438.10" stroke="#000" stroke-width="1.25"/>
<line x1="286.72" y1="272.40" x2="286.72" y2="278.70" stroke="#000" stroke-width="1.25"/>
<line x1="300.28" y1="444.40" x2="300.28" y2="438.10" stroke="#000" stroke-width="1.25"/>
<line x1="300.28" y1="272.40" x2="300.28" y2="278.70" stroke="#000" stroke-width="1.25"/>
<line x1="313.84" y1="444.40" x2="313.84" y2="438.10" stroke="#000" stroke-width="1.25"/>
<line x1="313.84" y1="272.40" x2="313.84" y2="278.70" stroke="#000" stroke-width="1.25"/>
<line x1="327.41" y1="444.40" x2="327.41" y2="438.10" stroke="#000" stroke-width="1.25"/>
<line x1="327.41" y1="272.40" x2="327.41" y2="278.70" stroke="#000" stroke-width="1.25"/>
<line x1="340.97" y1="444.40" x2="340.97" y2="438.10" stroke="#000" stroke-width="1.25"/>
<line x1="340.97" y1="272.40" x2="340.97" y2="278.70" stroke="#000" stroke-width="1.25"/>
<line x1="354.53" y1="444.40" x2="354.53" y2="438.10" stroke="#000" stroke-width="1.25"/>
<line x1="354.53" y1="272.40" x2="354.53" y2="278.70" stroke="#000" stroke-width="1.25"/>
<line x1="368.09" y1="444.40" x2="368.09" y2="438.10" stroke="#000" stroke-width="1.25"/>
<line x1="368.09" y1="272.40" x2="368.09" y2="278.70" stroke="#000" stroke-width="1.25"/>
<line x1="381.66" y1="444.40" x2="381.66" y2="438.10" stroke="#000" stroke-width="1.25"/>
<line x1="381.66" y1="272.40" x2="381.66" y2="278.70" stroke="#000" stroke-width="1.25"/>
<line x1="395.22" y1="444.40" x2="395.22" y2="438.10" stroke="#000" stroke-width="1.25"/>
<line x1="395.22" y1="272.40" x2="395.22" y2="278.70" stroke="#000" stroke-width="1.25"/>
<line x1="408.78" y1="444.40" x2="408.78" y2="438.10" stroke="#000" stroke-width="1.25"/>
<line x1="408.78" y1="272.40" x2="408.78" y2="278.70" stroke="#000" stroke-width="1.25"/>
<line x1="422.35" y1="444.40" x2="422.35" y2="438.10" stroke="#000" stroke-width="1.25"/>
<line x1="422.35" y1="272.40" x2="422.35" y2="278.70" stroke="#000" stroke-width="1.25"/>
<line x1="435.91" y1="444.40" x2="435.91" y2="438.10" stroke="#000" stroke-width="1.25"/>
<line x1="435.91" y1="272.40" x2="435.91" y2="278.70" stroke="#000" stroke-width="1.25"/>
<line x1="449.47" y1="444.40" x2="449.47" y2="438.10" stroke="#000" stroke-width="1.25"/>
<line x1="449.47" y1="272.40" x2="449.47" y2="278.70" stroke="#000" stroke-width="1.25"/>
<line x1="463.03" y1="444.40" x2="463.03" y2="438.10" stroke="#000" stroke-width="1.25"/>
<line x1="463.03" y1="272.40" x2="463.03" y2="278.70" stroke="#000" stroke-width="1.25"/>
<line x1="476.60" y1="444.40" x2="476.60" y2="438.10" stroke="#000" stroke-width="1.25"/>
<line x1="476.60" y1="272.40" x2="476.60" y2="278.70" stroke="#000" stroke-width="1.25"/>
<line x1="490.16" y1="444.40" x2="490.16" y2="438.10" stroke="#000" stroke-width="1.25"/>
<line x1="490.16" y1="272.40" x2="490.16" y2="278.70" stroke="#000" stroke-width="1.25"/>
<line x1="503.72" y1="444.40" x2="503.72" y2="438.10" stroke="#000" stroke-width="1.25"/>
<line x1="503.72" y1="272.40" x2="503.72" y2="278.70" stroke="#000" stroke-width="1.25"/>
<line x1="517.29" y1="444.40" x2="517.29" y2="438.10" stroke="#000" stroke-width="1.25"/>
<line x1="517.29" y1="272.40" x2="517.29" y2="278.70" stroke="#000" stroke-width="1.25"/>
<line x1="530.85" y1="444.40" x2="530.85" y2="438.10" stroke="#000" stroke-width="1.25"/>
<line x1="530.85" y1="272.40" x2="530.85" y2="278.70" stroke="#000" stroke-width="1.25"/>
<line x1="544.41" y1="444.40" x2="544.41" y2="438.10" stroke="#000" stroke-width="1.25"/>
<line x1="544.41" y1="272.40" x2="544.41" y2="278.70" stroke="#000" stroke-width="1.25"/>
<line x1="557.98" y1="444.40" x2="557.98" y2="438.10" stroke="#000" stroke-width="1.25"/>
<line x1="557.98" y1="272.40" x2="557.98" y2="278.70" stroke="#000" stroke-width="1.25"/>
<line x1="571.54" y1="444.40" x2="571.54" y2="438.10" stroke="#000" stroke-width="1.25"/>
<line x1="571.54" y1="272.40" x2="571.54" y2="278.70" stroke="#000" stroke-width="1.25"/>
<line x1="585.10" y1="444.40" x2="585.10" y2="438.10" stroke="#000" stroke-width="1.25"/>
<line x1="585.10" y1="272.40" x2="585.10" y2="278.70" stroke="#000" stroke-width="1.25"/>
<line x1="598.67" y1="444.40" x2="598.67" y2="438.10" stroke="#000" stroke-width="1.25"/>
<line x1="598.67" y1="272.40" x2="598.67" y2="278.70" stroke="#000" stroke-width="1.25"/>
<line x1="612.23" y1="444.40" x2="612.23" y2="438.10" stroke="#000" stroke-width="1.25"/>
<line x1="612.23" y1="272.40" x2="612.23" y2="278.70" stroke="#000" stroke-width="1.25"/>
<line x1="625.79" y1="444.40" x2="625.79" y2="438.10" stroke="#000" stroke-width="1.25"/>
<line x1="625.79" y1="272.40" x2="625.79" y2="278.70" stroke="#000" stroke-width="1.25"/>
<line x1="111.00" y1="285.60" x2="117.30" y2="285.60" stroke="#000" stroke-width="1.25"/>
<line x1="640.60" y1="285.60" x2="634.30" y2="285.60" stroke="#000" stroke-width="1.25"/>
<line x1="111.00" y1="357.60" x2="117.30" y2="357.60" stroke="#000" stroke-width="1.25"/>
<line x1="640.60" y1="357.60" x2="634.30" y2="357.60" stroke="#000" stroke-width="1.25"/>
<line x1="111.00" y1="429.75" x2="117.30" y2="429.75" stroke="#000" stroke-width="1.25"/>
<line x1="640.60" y1="429.75" x2="634.30" y2="429.75" stroke="#000" stroke-width="1.25"/>
<text transform="translate(123.96 463.30) scale(0.825 1)" font-size="17.4" fill="#0c0c18" text-anchor="middle" stroke="#0c0c18" stroke-width="0.35">1</text>
<text transform="translate(151.09 463.30) scale(0.825 1)" font-size="17.4" fill="#0c0c18" text-anchor="middle" stroke="#0c0c18" stroke-width="0.35">3</text>
<text transform="translate(178.21 463.30) scale(0.825 1)" font-size="17.4" fill="#0c0c18" text-anchor="middle" stroke="#0c0c18" stroke-width="0.35">5</text>
<text transform="translate(205.34 463.30) scale(0.825 1)" font-size="17.4" fill="#0c0c18" text-anchor="middle" stroke="#0c0c18" stroke-width="0.35">7</text>
<text transform="translate(232.46 463.30) scale(0.825 1)" font-size="17.4" fill="#0c0c18" text-anchor="middle" stroke="#0c0c18" stroke-width="0.35">9</text>
<text transform="translate(259.59 463.30) scale(0.825 1)" font-size="17.4" fill="#0c0c18" text-anchor="middle" stroke="#0c0c18" stroke-width="0.35">11</text>
<text transform="translate(286.72 463.30) scale(0.825 1)" font-size="17.4" fill="#0c0c18" text-anchor="middle" stroke="#0c0c18" stroke-width="0.35">13</text>
<text transform="translate(313.84 463.30) scale(0.825 1)" font-size="17.4" fill="#0c0c18" text-anchor="middle" stroke="#0c0c18" stroke-width="0.35">15</text>
<text transform="translate(340.97 463.30) scale(0.825 1)" font-size="17.4" fill="#0c0c18" text-anchor="middle" stroke="#0c0c18" stroke-width="0.35">17</text>
<text transform="translate(368.09 463.30) scale(0.825 1)" font-size="17.4" fill="#0c0c18" text-anchor="middle" stroke="#0c0c18" stroke-width="0.35">19</text>
<text transform="translate(381.66 463.30) scale(0.825 1)" font-size="17.4" fill="#0c0c18" text-anchor="middle" stroke="#0c0c18" stroke-width="0.35">1</text>
<text transform="translate(408.78 463.30) scale(0.825 1)" font-size="17.4" fill="#0c0c18" text-anchor="middle" stroke="#0c0c18" stroke-width="0.35">3</text>
<text transform="translate(435.91 463.30) scale(0.825 1)" font-size="17.4" fill="#0c0c18" text-anchor="middle" stroke="#0c0c18" stroke-width="0.35">5</text>
<text transform="translate(463.03 463.30) scale(0.825 1)" font-size="17.4" fill="#0c0c18" text-anchor="middle" stroke="#0c0c18" stroke-width="0.35">7</text>
<text transform="translate(490.16 463.30) scale(0.825 1)" font-size="17.4" fill="#0c0c18" text-anchor="middle" stroke="#0c0c18" stroke-width="0.35">9</text>
<text transform="translate(517.29 463.30) scale(0.825 1)" font-size="17.4" fill="#0c0c18" text-anchor="middle" stroke="#0c0c18" stroke-width="0.35">11</text>
<text transform="translate(544.41 463.30) scale(0.825 1)" font-size="17.4" fill="#0c0c18" text-anchor="middle" stroke="#0c0c18" stroke-width="0.35">13</text>
<text transform="translate(571.54 463.30) scale(0.825 1)" font-size="17.4" fill="#0c0c18" text-anchor="middle" stroke="#0c0c18" stroke-width="0.35">15</text>
<text transform="translate(598.67 463.30) scale(0.825 1)" font-size="17.4" fill="#0c0c18" text-anchor="middle" stroke="#0c0c18" stroke-width="0.35">17</text>
<text transform="translate(625.79 463.30) scale(0.825 1)" font-size="17.4" fill="#0c0c18" text-anchor="middle" stroke="#0c0c18" stroke-width="0.35">19</text>
<text transform="translate(104.50 290.80) scale(0.825 1)" font-size="17.4" fill="#0c0c18" text-anchor="end" stroke="#0c0c18" stroke-width="0.35">50</text>
<text transform="translate(104.50 362.80) scale(0.825 1)" font-size="17.4" fill="#0c0c18" text-anchor="end" stroke="#0c0c18" stroke-width="0.35">0</text>
<text transform="translate(104.50 434.95) scale(0.825 1)" font-size="17.4" fill="#0c0c18" text-anchor="end" stroke="#0c0c18" stroke-width="0.35">-50</text>
<text transform="translate(373.20 487.50) scale(0.965 1)" font-size="19.7" fill="#0c0c18" text-anchor="middle" stroke="#0c0c18" stroke-width="0.3">Patient number</text>
<text transform="translate(71.30 360.20) rotate(-90) scale(0.955 1.09)" font-size="19.7" fill="#0c0c18" text-anchor="middle" stroke="#0c0c18" stroke-width="0.3">PC 1</text>
<text transform="translate(242.80 346.60) scale(0.96 1)" font-size="19.5" fill="#0c0c18" text-anchor="middle" stroke="#0c0c18" stroke-width="0.25">T0</text>
<text transform="translate(496.90 378.30) scale(0.96 1)" font-size="19.5" fill="#0000f5" text-anchor="middle" stroke="#0000f5" stroke-width="0.25">T2</text>
<text transform="translate(1.90 297.70) scale(0.95 1)" font-size="34.8" fill="#000" text-anchor="start" stroke="#000" stroke-width="0.3">d</text>
<text transform="translate(22.70 297.70) scale(0.9 1)" font-size="34.8" fill="#000" text-anchor="start" stroke="#000" stroke-width="0.3">)</text>
<rect x="1479.93" y="355.95" width="10.75" height="36.90" fill="#000000" stroke="#000" stroke-width="1.0"/>
<rect x="1493.50" y="355.95" width="10.75" height="38.40" fill="#000000" stroke="#000" stroke-width="1.0"/>
<rect x="1507.08" y="355.95" width="10.75" height="46.90" fill="#000000" stroke="#000" stroke-width="1.0"/>
<rect x="1520.66" y="355.95" width="10.75" height="27.20" fill="#000000" stroke="#000" stroke-width="1.0"/>
<rect x="1534.23" y="355.95" width="10.75" height="61.20" fill="#000000" stroke="#000" stroke-width="1.0"/>
<rect x="1547.81" y="355.95" width="10.75" height="46.90" fill="#000000" stroke="#000" stroke-width="1.0"/>
<rect x="1561.39" y="355.95" width="10.75" height="30.90" fill="#000000" stroke="#000" stroke-width="1.0"/>
<rect x="1574.96" y="355.95" width="10.75" height="27.20" fill="#000000" stroke="#000" stroke-width="1.0"/>
<rect x="1588.54" y="355.95" width="10.75" height="16.60" fill="#000000" stroke="#000" stroke-width="1.0"/>
<rect x="1602.12" y="355.95" width="10.75" height="49.10" fill="#000000" stroke="#000" stroke-width="1.0"/>
<rect x="1615.70" y="355.95" width="10.75" height="48.10" fill="#000000" stroke="#000" stroke-width="1.0"/>
<rect x="1629.27" y="355.95" width="10.75" height="66.20" fill="#000000" stroke="#000" stroke-width="1.0"/>
<rect x="1642.85" y="355.95" width="10.75" height="56.60" fill="#000000" stroke="#000" stroke-width="1.0"/>
<rect x="1656.43" y="355.95" width="10.75" height="21.30" fill="#000000" stroke="#000" stroke-width="1.0"/>
<rect x="1670.00" y="355.95" width="10.75" height="60.30" fill="#000000" stroke="#000" stroke-width="1.0"/>
<rect x="1683.58" y="355.95" width="10.75" height="70.90" fill="#000000" stroke="#000" stroke-width="1.0"/>
<rect x="1697.16" y="355.95" width="10.75" height="57.80" fill="#000000" stroke="#000" stroke-width="1.0"/>
<rect x="1710.73" y="355.95" width="10.75" height="66.20" fill="#000000" stroke="#000" stroke-width="1.0"/>
<rect x="1724.31" y="355.95" width="10.75" height="41.90" fill="#000000" stroke="#000" stroke-width="1.0"/>
<rect x="1739.04" y="318.45" width="10.75" height="37.50" fill="#0000f5" stroke="#000" stroke-width="1.0"/>
<rect x="1752.61" y="316.95" width="10.75" height="39.00" fill="#0000f5" stroke="#000" stroke-width="1.0"/>
<rect x="1766.19" y="308.45" width="10.75" height="47.50" fill="#0000f5" stroke="#000" stroke-width="1.0"/>
<rect x="1779.77" y="328.15" width="10.75" height="27.80" fill="#0000f5" stroke="#000" stroke-width="1.0"/>
<rect x="1793.34" y="294.15" width="10.75" height="61.80" fill="#0000f5" stroke="#000" stroke-width="1.0"/>
<rect x="1806.92" y="308.45" width="10.75" height="47.50" fill="#0000f5" stroke="#000" stroke-width="1.0"/>
<rect x="1820.50" y="324.45" width="10.75" height="31.50" fill="#0000f5" stroke="#000" stroke-width="1.0"/>
<rect x="1834.07" y="328.15" width="10.75" height="27.80" fill="#0000f5" stroke="#000" stroke-width="1.0"/>
<rect x="1847.65" y="338.75" width="10.75" height="17.20" fill="#0000f5" stroke="#000" stroke-width="1.0"/>
<rect x="1861.23" y="306.25" width="10.75" height="49.70" fill="#0000f5" stroke="#000" stroke-width="1.0"/>
<rect x="1874.81" y="307.25" width="10.75" height="48.70" fill="#0000f5" stroke="#000" stroke-width="1.0"/>
<rect x="1888.38" y="289.15" width="10.75" height="66.80" fill="#0000f5" stroke="#000" stroke-width="1.0"/>
<rect x="1901.96" y="298.75" width="10.75" height="57.20" fill="#0000f5" stroke="#000" stroke-width="1.0"/>
<rect x="1915.54" y="334.05" width="10.75" height="21.90" fill="#0000f5" stroke="#000" stroke-width="1.0"/>
<rect x="1929.11" y="295.05" width="10.75" height="60.90" fill="#0000f5" stroke="#000" stroke-width="1.0"/>
<rect x="1942.69" y="284.45" width="10.75" height="71.50" fill="#0000f5" stroke="#000" stroke-width="1.0"/>
<rect x="1956.27" y="297.55" width="10.75" height="58.40" fill="#0000f5" stroke="#000" stroke-width="1.0"/>
<rect x="1969.84" y="289.15" width="10.75" height="66.80" fill="#0000f5" stroke="#000" stroke-width="1.0"/>
<rect x="1983.42" y="313.45" width="10.75" height="42.50" fill="#0000f5" stroke="#000" stroke-width="1.0"/>
<line x1="1473.10" y1="355.95" x2="2002.60" y2="355.95" stroke="#000" stroke-width="1.2"/>
<rect x="1473.10" y="272.05" width="529.50" height="168.35" fill="none" stroke="#000" stroke-width="1.5"/>
<line x1="1486.00" y1="440.40" x2="1486.00" y2="434.10" stroke="#000" stroke-width="1.25"/>
<line x1="1486.00" y1="272.05" x2="1486.00" y2="278.35" stroke="#000" stroke-width="1.25"/>
<line x1="1499.56" y1="440.40" x2="1499.56" y2="434.10" stroke="#000" stroke-width="1.25"/>
<line x1="1499.56" y1="272.05" x2="1499.56" y2="278.35" stroke="#000" stroke-width="1.25"/>
<line x1="1513.12" y1="440.40" x2="1513.12" y2="434.10" stroke="#000" stroke-width="1.25"/>
<line x1="1513.12" y1="272.05" x2="1513.12" y2="278.35" stroke="#000" stroke-width="1.25"/>
<line x1="1526.69" y1="440.40" x2="1526.69" y2="434.10" stroke="#000" stroke-width="1.25"/>
<line x1="1526.69" y1="272.05" x2="1526.69" y2="278.35" stroke="#000" stroke-width="1.25"/>
<line x1="1540.25" y1="440.40" x2="1540.25" y2="434.10" stroke="#000" stroke-width="1.25"/>
<line x1="1540.25" y1="272.05" x2="1540.25" y2="278.35" stroke="#000" stroke-width="1.25"/>
<line x1="1553.81" y1="440.40" x2="1553.81" y2="434.10" stroke="#000" stroke-width="1.25"/>
<line x1="1553.81" y1="272.05" x2="1553.81" y2="278.35" stroke="#000" stroke-width="1.25"/>
<line x1="1567.37" y1="440.40" x2="1567.37" y2="434.10" stroke="#000" stroke-width="1.25"/>
<line x1="1567.37" y1="272.05" x2="1567.37" y2="278.35" stroke="#000" stroke-width="1.25"/>
<line x1="1580.93" y1="440.40" x2="1580.93" y2="434.10" stroke="#000" stroke-width="1.25"/>
<line x1="1580.93" y1="272.05" x2="1580.93" y2="278.35" stroke="#000" stroke-width="1.25"/>
<line x1="1594.50" y1="440.40" x2="1594.50" y2="434.10" stroke="#000" stroke-width="1.25"/>
<line x1="1594.50" y1="272.05" x2="1594.50" y2="278.35" stroke="#000" stroke-width="1.25"/>
<line x1="1608.06" y1="440.40" x2="1608.06" y2="434.10" stroke="#000" stroke-width="1.25"/>
<line x1="1608.06" y1="272.05" x2="1608.06" y2="278.35" stroke="#000" stroke-width="1.25"/>
<line x1="1621.62" y1="440.40" x2="1621.62" y2="434.10" stroke="#000" stroke-width="1.25"/>
<line x1="1621.62" y1="272.05" x2="1621.62" y2="278.35" stroke="#000" stroke-width="1.25"/>
<line x1="1635.18" y1="440.40" x2="1635.18" y2="434.10" stroke="#000" stroke-width="1.25"/>
<line x1="1635.18" y1="272.05" x2="1635.18" y2="278.35" stroke="#000" stroke-width="1.25"/>
<line x1="1648.74" y1="440.40" x2="1648.74" y2="434.10" stroke="#000" stroke-width="1.25"/>
<line x1="1648.74" y1="272.05" x2="1648.74" y2="278.35" stroke="#000" stroke-width="1.25"/>
<line x1="1662.31" y1="440.40" x2="1662.31" y2="434.10" stroke="#000" stroke-width="1.25"/>
<line x1="1662.31" y1="272.05" x2="1662.31" y2="278.35" stroke="#000" stroke-width="1.25"/>
<line x1="1675.87" y1="440.40" x2="1675.87" y2="434.10" stroke="#000" stroke-width="1.25"/>
<line x1="1675.87" y1="272.05" x2="1675.87" y2="278.35" stroke="#000" stroke-width="1.25"/>
<line x1="1689.43" y1="440.40" x2="1689.43" y2="434.10" stroke="#000" stroke-width="1.25"/>
<line x1="1689.43" y1="272.05" x2="1689.43" y2="278.35" stroke="#000" stroke-width="1.25"/>
<line x1="1702.99" y1="440.40" x2="1702.99" y2="434.10" stroke="#000" stroke-width="1.25"/>
<line x1="1702.99" y1="272.05" x2="1702.99" y2="278.35" stroke="#000" stroke-width="1.25"/>
<line x1="1716.55" y1="440.40" x2="1716.55" y2="434.10" stroke="#000" stroke-width="1.25"/>
<line x1="1716.55" y1="272.05" x2="1716.55" y2="278.35" stroke="#000" stroke-width="1.25"/>
<line x1="1730.12" y1="440.40" x2="1730.12" y2="434.10" stroke="#000" stroke-width="1.25"/>
<line x1="1730.12" y1="272.05" x2="1730.12" y2="278.35" stroke="#000" stroke-width="1.25"/>
<line x1="1743.68" y1="440.40" x2="1743.68" y2="434.10" stroke="#000" stroke-width="1.25"/>
<line x1="1743.68" y1="272.05" x2="1743.68" y2="278.35" stroke="#000" stroke-width="1.25"/>
<line x1="1757.24" y1="440.40" x2="1757.24" y2="434.10" stroke="#000" stroke-width="1.25"/>
<line x1="1757.24" y1="272.05" x2="1757.24" y2="278.35" stroke="#000" stroke-width="1.25"/>
<line x1="1770.80" y1="440.40" x2="1770.80" y2="434.10" stroke="#000" stroke-width="1.25"/>
<line x1="1770.80" y1="272.05" x2="1770.80" y2="278.35" stroke="#000" stroke-width="1.25"/>
<line x1="1784.36" y1="440.40" x2="1784.36" y2="434.10" stroke="#000" stroke-width="1.25"/>
<line x1="1784.36" y1="272.05" x2="1784.36" y2="278.35" stroke="#000" stroke-width="1.25"/>
<line x1="1797.93" y1="440.40" x2="1797.93" y2="434.10" stroke="#000" stroke-width="1.25"/>
<line x1="1797.93" y1="272.05" x2="1797.93" y2="278.35" stroke="#000" stroke-width="1.25"/>
<line x1="1811.49" y1="440.40" x2="1811.49" y2="434.10" stroke="#000" stroke-width="1.25"/>
<line x1="1811.49" y1="272.05" x2="1811.49" y2="278.35" stroke="#000" stroke-width="1.25"/>
<line x1="1825.05" y1="440.40" x2="1825.05" y2="434.10" stroke="#000" stroke-width="1.25"/>
<line x1="1825.05" y1="272.05" x2="1825.05" y2="278.35" stroke="#000" stroke-width="1.25"/>
<line x1="1838.61" y1="440.40" x2="1838.61" y2="434.10" stroke="#000" stroke-width="1.25"/>
<line x1="1838.61" y1="272.05" x2="1838.61" y2="278.35" stroke="#000" stroke-width="1.25"/>
<line x1="1852.17" y1="440.40" x2="1852.17" y2="434.10" stroke="#000" stroke-width="1.25"/>
<line x1="1852.17" y1="272.05" x2="1852.17" y2="278.35" stroke="#000" stroke-width="1.25"/>
<line x1="1865.74" y1="440.40" x2="1865.74" y2="434.10" stroke="#000" stroke-width="1.25"/>
<line x1="1865.74" y1="272.05" x2="1865.74" y2="278.35" stroke="#000" stroke-width="1.25"/>
<line x1="1879.30" y1="440.40" x2="1879.30" y2="434.10" stroke="#000" stroke-width="1.25"/>
<line x1="1879.30" y1="272.05" x2="1879.30" y2="278.35" stroke="#000" stroke-width="1.25"/>
<line x1="1892.86" y1="440.40" x2="1892.86" y2="434.10" stroke="#000" stroke-width="1.25"/>
<line x1="1892.86" y1="272.05" x2="1892.86" y2="278.35" stroke="#000" stroke-width="1.25"/>
<line x1="1906.42" y1="440.40" x2="1906.42" y2="434.10" stroke="#000" stroke-width="1.25"/>
<line x1="1906.42" y1="272.05" x2="1906.42" y2="278.35" stroke="#000" stroke-width="1.25"/>
<line x1="1919.98" y1="440.40" x2="1919.98" y2="434.10" stroke="#000" stroke-width="1.25"/>
<line x1="1919.98" y1="272.05" x2="1919.98" y2="278.35" stroke="#000" stroke-width="1.25"/>
<line x1="1933.55" y1="440.40" x2="1933.55" y2="434.10" stroke="#000" stroke-width="1.25"/>
<line x1="1933.55" y1="272.05" x2="1933.55" y2="278.35" stroke="#000" stroke-width="1.25"/>
<line x1="1947.11" y1="440.40" x2="1947.11" y2="434.10" stroke="#000" stroke-width="1.25"/>
<line x1="1947.11" y1="272.05" x2="1947.11" y2="278.35" stroke="#000" stroke-width="1.25"/>
<line x1="1960.67" y1="440.40" x2="1960.67" y2="434.10" stroke="#000" stroke-width="1.25"/>
<line x1="1960.67" y1="272.05" x2="1960.67" y2="278.35" stroke="#000" stroke-width="1.25"/>
<line x1="1974.23" y1="440.40" x2="1974.23" y2="434.10" stroke="#000" stroke-width="1.25"/>
<line x1="1974.23" y1="272.05" x2="1974.23" y2="278.35" stroke="#000" stroke-width="1.25"/>
<line x1="1987.79" y1="440.40" x2="1987.79" y2="434.10" stroke="#000" stroke-width="1.25"/>
<line x1="1987.79" y1="272.05" x2="1987.79" y2="278.35" stroke="#000" stroke-width="1.25"/>
<line x1="1479.22" y1="440.40" x2="1479.22" y2="437.25" stroke="#000" stroke-width="1.25"/>
<line x1="1479.22" y1="272.05" x2="1479.22" y2="275.20" stroke="#000" stroke-width="1.25"/>
<line x1="1492.78" y1="440.40" x2="1492.78" y2="437.25" stroke="#000" stroke-width="1.25"/>
<line x1="1492.78" y1="272.05" x2="1492.78" y2="275.20" stroke="#000" stroke-width="1.25"/>
<line x1="1506.34" y1="440.40" x2="1506.34" y2="437.25" stroke="#000" stroke-width="1.25"/>
<line x1="1506.34" y1="272.05" x2="1506.34" y2="275.20" stroke="#000" stroke-width="1.25"/>
<line x1="1519.90" y1="440.40" x2="1519.90" y2="437.25" stroke="#000" stroke-width="1.25"/>
<line x1="1519.90" y1="272.05" x2="1519.90" y2="275.20" stroke="#000" stroke-width="1.25"/>
<line x1="1533.47" y1="440.40" x2="1533.47" y2="437.25" stroke="#000" stroke-width="1.25"/>
<line x1="1533.47" y1="272.05" x2="1533.47" y2="275.20" stroke="#000" stroke-width="1.25"/>
<line x1="1547.03" y1="440.40" x2="1547.03" y2="437.25" stroke="#000" stroke-width="1.25"/>
<line x1="1547.03" y1="272.05" x2="1547.03" y2="275.20" stroke="#000" stroke-width="1.25"/>
<line x1="1560.59" y1="440.40" x2="1560.59" y2="437.25" stroke="#000" stroke-width="1.25"/>
<line x1="1560.59" y1="272.05" x2="1560.59" y2="275.20" stroke="#000" stroke-width="1.25"/>
<line x1="1574.15" y1="440.40" x2="1574.15" y2="437.25" stroke="#000" stroke-width="1.25"/>
<line x1="1574.15" y1="272.05" x2="1574.15" y2="275.20" stroke="#000" stroke-width="1.25"/>
<line x1="1587.71" y1="440.40" x2="1587.71" y2="437.25" stroke="#000" stroke-width="1.25"/>
<line x1="1587.71" y1="272.05" x2="1587.71" y2="275.20" stroke="#000" stroke-width="1.25"/>
<line x1="1601.28" y1="440.40" x2="1601.28" y2="437.25" stroke="#000" stroke-width="1.25"/>
<line x1="1601.28" y1="272.05" x2="1601.28" y2="275.20" stroke="#000" stroke-width="1.25"/>
<line x1="1614.84" y1="440.40" x2="1614.84" y2="437.25" stroke="#000" stroke-width="1.25"/>
<line x1="1614.84" y1="272.05" x2="1614.84" y2="275.20" stroke="#000" stroke-width="1.25"/>
<line x1="1628.40" y1="440.40" x2="1628.40" y2="437.25" stroke="#000" stroke-width="1.25"/>
<line x1="1628.40" y1="272.05" x2="1628.40" y2="275.20" stroke="#000" stroke-width="1.25"/>
<line x1="1641.96" y1="440.40" x2="1641.96" y2="437.25" stroke="#000" stroke-width="1.25"/>
<line x1="1641.96" y1="272.05" x2="1641.96" y2="275.20" stroke="#000" stroke-width="1.25"/>
<line x1="1655.53" y1="440.40" x2="1655.53" y2="437.25" stroke="#000" stroke-width="1.25"/>
<line x1="1655.53" y1="272.05" x2="1655.53" y2="275.20" stroke="#000" stroke-width="1.25"/>
<line x1="1669.09" y1="440.40" x2="1669.09" y2="437.25" stroke="#000" stroke-width="1.25"/>
<line x1="1669.09" y1="272.05" x2="1669.09" y2="275.20" stroke="#000" stroke-width="1.25"/>
<line x1="1682.65" y1="440.40" x2="1682.65" y2="437.25" stroke="#000" stroke-width="1.25"/>
<line x1="1682.65" y1="272.05" x2="1682.65" y2="275.20" stroke="#000" stroke-width="1.25"/>
<line x1="1696.21" y1="440.40" x2="1696.21" y2="437.25" stroke="#000" stroke-width="1.25"/>
<line x1="1696.21" y1="272.05" x2="1696.21" y2="275.20" stroke="#000" stroke-width="1.25"/>
<line x1="1709.77" y1="440.40" x2="1709.77" y2="437.25" stroke="#000" stroke-width="1.25"/>
<line x1="1709.77" y1="272.05" x2="1709.77" y2="275.20" stroke="#000" stroke-width="1.25"/>
<line x1="1723.34" y1="440.40" x2="1723.34" y2="437.25" stroke="#000" stroke-width="1.25"/>
<line x1="1723.34" y1="272.05" x2="1723.34" y2="275.20" stroke="#000" stroke-width="1.25"/>
<line x1="1736.90" y1="440.40" x2="1736.90" y2="437.25" stroke="#000" stroke-width="1.25"/>
<line x1="1736.90" y1="272.05" x2="1736.90" y2="275.20" stroke="#000" stroke-width="1.25"/>
<line x1="1750.46" y1="440.40" x2="1750.46" y2="437.25" stroke="#000" stroke-width="1.25"/>
<line x1="1750.46" y1="272.05" x2="1750.46" y2="275.20" stroke="#000" stroke-width="1.25"/>
<line x1="1764.02" y1="440.40" x2="1764.02" y2="437.25" stroke="#000" stroke-width="1.25"/>
<line x1="1764.02" y1="272.05" x2="1764.02" y2="275.20" stroke="#000" stroke-width="1.25"/>
<line x1="1777.58" y1="440.40" x2="1777.58" y2="437.25" stroke="#000" stroke-width="1.25"/>
<line x1="1777.58" y1="272.05" x2="1777.58" y2="275.20" stroke="#000" stroke-width="1.25"/>
<line x1="1791.14" y1="440.40" x2="1791.14" y2="437.25" stroke="#000" stroke-width="1.25"/>
<line x1="1791.14" y1="272.05" x2="1791.14" y2="275.20" stroke="#000" stroke-width="1.25"/>
<line x1="1804.71" y1="440.40" x2="1804.71" y2="437.25" stroke="#000" stroke-width="1.25"/>
<line x1="1804.71" y1="272.05" x2="1804.71" y2="275.20" stroke="#000" stroke-width="1.25"/>
<line x1="1818.27" y1="440.40" x2="1818.27" y2="437.25" stroke="#000" stroke-width="1.25"/>
<line x1="1818.27" y1="272.05" x2="1818.27" y2="275.20" stroke="#000" stroke-width="1.25"/>
<line x1="1831.83" y1="440.40" x2="1831.83" y2="437.25" stroke="#000" stroke-width="1.25"/>
<line x1="1831.83" y1="272.05" x2="1831.83" y2="275.20" stroke="#000" stroke-width="1.25"/>
<line x1="1845.39" y1="440.40" x2="1845.39" y2="437.25" stroke="#000" stroke-width="1.25"/>
<line x1="1845.39" y1="272.05" x2="1845.39" y2="275.20" stroke="#000" stroke-width="1.25"/>
<line x1="1858.95" y1="440.40" x2="1858.95" y2="437.25" stroke="#000" stroke-width="1.25"/>
<line x1="1858.95" y1="272.05" x2="1858.95" y2="275.20" stroke="#000" stroke-width="1.25"/>
<line x1="1872.52" y1="440.40" x2="1872.52" y2="437.25" stroke="#000" stroke-width="1.25"/>
<line x1="1872.52" y1="272.05" x2="1872.52" y2="275.20" stroke="#000" stroke-width="1.25"/>
<line x1="1886.08" y1="440.40" x2="1886.08" y2="437.25" stroke="#000" stroke-width="1.25"/>
<line x1="1886.08" y1="272.05" x2="1886.08" y2="275.20" stroke="#000" stroke-width="1.25"/>
<line x1="1899.64" y1="440.40" x2="1899.64" y2="437.25" stroke="#000" stroke-width="1.25"/>
<line x1="1899.64" y1="272.05" x2="1899.64" y2="275.20" stroke="#000" stroke-width="1.25"/>
<line x1="1913.20" y1="440.40" x2="1913.20" y2="437.25" stroke="#000" stroke-width="1.25"/>
<line x1="1913.20" y1="272.05" x2="1913.20" y2="275.20" stroke="#000" stroke-width="1.25"/>
<line x1="1926.76" y1="440.40" x2="1926.76" y2="437.25" stroke="#000" stroke-width="1.25"/>
<line x1="1926.76" y1="272.05" x2="1926.76" y2="275.20" stroke="#000" stroke-width="1.25"/>
<line x1="1940.33" y1="440.40" x2="1940.33" y2="437.25" stroke="#000" stroke-width="1.25"/>
<line x1="1940.33" y1="272.05" x2="1940.33" y2="275.20" stroke="#000" stroke-width="1.25"/>
<line x1="1953.89" y1="440.40" x2="1953.89" y2="437.25" stroke="#000" stroke-width="1.25"/>
<line x1="1953.89" y1="272.05" x2="1953.89" y2="275.20" stroke="#000" stroke-width="1.25"/>
<line x1="1967.45" y1="440.40" x2="1967.45" y2="437.25" stroke="#000" stroke-width="1.25"/>
<line x1="1967.45" y1="272.05" x2="1967.45" y2="275.20" stroke="#000" stroke-width="1.25"/>
<line x1="1981.01" y1="440.40" x2="1981.01" y2="437.25" stroke="#000" stroke-width="1.25"/>
<line x1="1981.01" y1="272.05" x2="1981.01" y2="275.20" stroke="#000" stroke-width="1.25"/>
<line x1="1994.58" y1="440.40" x2="1994.58" y2="437.25" stroke="#000" stroke-width="1.25"/>
<line x1="1994.58" y1="272.05" x2="1994.58" y2="275.20" stroke="#000" stroke-width="1.25"/>
<line x1="1473.10" y1="295.10" x2="1479.40" y2="295.10" stroke="#000" stroke-width="1.25"/>
<line x1="2002.60" y1="295.10" x2="1996.30" y2="295.10" stroke="#000" stroke-width="1.25"/>
<line x1="1473.10" y1="355.55" x2="1479.40" y2="355.55" stroke="#000" stroke-width="1.25"/>
<line x1="2002.60" y1="355.55" x2="1996.30" y2="355.55" stroke="#000" stroke-width="1.25"/>
<line x1="1473.10" y1="416.00" x2="1479.40" y2="416.00" stroke="#000" stroke-width="1.25"/>
<line x1="2002.60" y1="416.00" x2="1996.30" y2="416.00" stroke="#000" stroke-width="1.25"/>
<text transform="translate(1486.00 459.30) scale(0.825 1)" font-size="17.4" fill="#0c0c18" text-anchor="middle" stroke="#0c0c18" stroke-width="0.35">1</text>
<text transform="translate(1513.12 459.30) scale(0.825 1)" font-size="17.4" fill="#0c0c18" text-anchor="middle" stroke="#0c0c18" stroke-width="0.35">3</text>
<text transform="translate(1540.25 459.30) scale(0.825 1)" font-size="17.4" fill="#0c0c18" text-anchor="middle" stroke="#0c0c18" stroke-width="0.35">5</text>
<text transform="translate(1567.37 459.30) scale(0.825 1)" font-size="17.4" fill="#0c0c18" text-anchor="middle" stroke="#0c0c18" stroke-width="0.35">7</text>
<text transform="translate(1594.50 459.30) scale(0.825 1)" font-size="17.4" fill="#0c0c18" text-anchor="middle" stroke="#0c0c18" stroke-width="0.35">9</text>
<text transform="translate(1621.62 459.30) scale(0.825 1)" font-size="17.4" fill="#0c0c18" text-anchor="middle" stroke="#0c0c18" stroke-width="0.35">11</text>
<text transform="translate(1648.74 459.30) scale(0.825 1)" font-size="17.4" fill="#0c0c18" text-anchor="middle" stroke="#0c0c18" stroke-width="0.35">13</text>
<text transform="translate(1675.87 459.30) scale(0.825 1)" font-size="17.4" fill="#0c0c18" text-anchor="middle" stroke="#0c0c18" stroke-width="0.35">15</text>
<text transform="translate(1702.99 459.30) scale(0.825 1)" font-size="17.4" fill="#0c0c18" text-anchor="middle" stroke="#0c0c18" stroke-width="0.35">17</text>
<text transform="translate(1730.12 459.30) scale(0.825 1)" font-size="17.4" fill="#0c0c18" text-anchor="middle" stroke="#0c0c18" stroke-width="0.35">19</text>
<text transform="translate(1743.68 459.30) scale(0.825 1)" font-size="17.4" fill="#0c0c18" text-anchor="middle" stroke="#0c0c18" stroke-width="0.35">1</text>
<text transform="translate(1770.80 459.30) scale(0.825 1)" font-size="17.4" fill="#0c0c18" text-anchor="middle" stroke="#0c0c18" stroke-width="0.35">3</text>
<text transform="translate(1797.93 459.30) scale(0.825 1)" font-size="17.4" fill="#0c0c18" text-anchor="middle" stroke="#0c0c18" stroke-width="0.35">5</text>
<text transform="translate(1825.05 459.30) scale(0.825 1)" font-size="17.4" fill="#0c0c18" text-anchor="middle" stroke="#0c0c18" stroke-width="0.35">7</text>
<text transform="translate(1852.17 459.30) scale(0.825 1)" font-size="17.4" fill="#0c0c18" text-anchor="middle" stroke="#0c0c18" stroke-width="0.35">9</text>
<text transform="translate(1879.30 459.30) scale(0.825 1)" font-size="17.4" fill="#0c0c18" text-anchor="middle" stroke="#0c0c18" stroke-width="0.35">11</text>
<text transform="translate(1906.42 459.30) scale(0.825 1)" font-size="17.4" fill="#0c0c18" text-anchor="middle" stroke="#0c0c18" stroke-width="0.35">13</text>
<text transform="translate(1933.55 459.30) scale(0.825 1)" font-size="17.4" fill="#0c0c18" text-anchor="middle" stroke="#0c0c18" stroke-width="0.35">15</text>
<text transform="translate(1960.67 459.30) scale(0.825 1)" font-size="17.4" fill="#0c0c18" text-anchor="middle" stroke="#0c0c18" stroke-width="0.35">17</text>
<text transform="translate(1987.79 459.30) scale(0.825 1)" font-size="17.4" fill="#0c0c18" text-anchor="middle" stroke="#0c0c18" stroke-width="0.35">19</text>
<text transform="translate(1466.70 300.30) scale(0.825 1)" font-size="17.4" fill="#0c0c18" text-anchor="end" stroke="#0c0c18" stroke-width="0.35">50</text>
<text transform="translate(1466.70 360.75) scale(0.825 1)" font-size="17.4" fill="#0c0c18" text-anchor="end" stroke="#0c0c18" stroke-width="0.35">0</text>
<text transform="translate(1466.70 421.20) scale(0.825 1)" font-size="17.4" fill="#0c0c18" text-anchor="end" stroke="#0c0c18" stroke-width="0.35">-50</text>
<text transform="translate(1735.70 483.50) scale(0.965 1)" font-size="19.7" fill="#0c0c18" text-anchor="middle" stroke="#0c0c18" stroke-width="0.3">Patient number</text>
<text transform="translate(1442.00 348.40) rotate(-90) scale(0.955 1.09)" font-size="19.7" fill="#0c0c18" text-anchor="middle" stroke="#0c0c18" stroke-width="0.3">PC 1</text>
<text transform="translate(1615.80 348.70) scale(0.96 1)" font-size="19.5" fill="#0c0c18" text-anchor="middle" stroke="#0c0c18" stroke-width="0.25">T0</text>
<text transform="translate(1863.70 379.20) scale(0.96 1)" font-size="19.5" fill="#0000f5" text-anchor="middle" stroke="#0000f5" stroke-width="0.25">T2</text>
<text transform="translate(1389.00 296.40) scale(0.95 1)" font-size="34.8" fill="#000" text-anchor="start" stroke="#000" stroke-width="0.3">f</text>
<text transform="translate(1400.10 296.40) scale(0.9 1)" font-size="34.8" fill="#000" text-anchor="start" stroke="#000" stroke-width="0.3">)</text>
<rect x="117.98" y="616.60" width="10.75" height="52.40" fill="#000000" stroke="#000" stroke-width="1.0"/>
<rect x="131.56" y="616.60" width="10.75" height="52.40" fill="#000000" stroke="#000" stroke-width="1.0"/>
<rect x="145.14" y="616.60" width="10.75" height="53.80" fill="#000000" stroke="#000" stroke-width="1.0"/>
<rect x="158.72" y="616.60" width="10.75" height="51.40" fill="#000000" stroke="#000" stroke-width="1.0"/>
<rect x="172.30" y="616.60" width="10.75" height="52.40" fill="#000000" stroke="#000" stroke-width="1.0"/>
<rect x="185.87" y="616.60" width="10.75" height="55.10" fill="#000000" stroke="#000" stroke-width="1.0"/>
<rect x="199.45" y="616.60" width="10.75" height="55.10" fill="#000000" stroke="#000" stroke-width="1.0"/>
<rect x="213.03" y="616.60" width="10.75" height="53.80" fill="#000000" stroke="#000" stroke-width="1.0"/>
<rect x="226.61" y="616.60" width="10.75" height="55.10" fill="#000000" stroke="#000" stroke-width="1.0"/>
<rect x="240.19" y="616.60" width="10.75" height="55.10" fill="#000000" stroke="#000" stroke-width="1.0"/>
<rect x="253.76" y="616.60" width="10.75" height="53.80" fill="#000000" stroke="#000" stroke-width="1.0"/>
<rect x="267.34" y="616.60" width="10.75" height="55.10" fill="#000000" stroke="#000" stroke-width="1.0"/>
<rect x="280.92" y="616.60" width="10.75" height="55.10" fill="#000000" stroke="#000" stroke-width="1.0"/>
<rect x="294.50" y="616.60" width="10.75" height="52.40" fill="#000000" stroke="#000" stroke-width="1.0"/>
<rect x="308.08" y="616.60" width="10.75" height="53.80" fill="#000000" stroke="#000" stroke-width="1.0"/>
<rect x="321.65" y="616.60" width="10.75" height="52.40" fill="#000000" stroke="#000" stroke-width="1.0"/>
<rect x="335.23" y="616.60" width="10.75" height="52.40" fill="#000000" stroke="#000" stroke-width="1.0"/>
<rect x="348.81" y="616.60" width="10.75" height="55.10" fill="#000000" stroke="#000" stroke-width="1.0"/>
<rect x="362.39" y="616.60" width="10.75" height="57.50" fill="#000000" stroke="#000" stroke-width="1.0"/>
<rect x="377.11" y="562.80" width="10.75" height="53.80" fill="#007f00" stroke="#000" stroke-width="1.0"/>
<rect x="390.69" y="562.80" width="10.75" height="53.80" fill="#007f00" stroke="#000" stroke-width="1.0"/>
<rect x="404.27" y="561.40" width="10.75" height="55.20" fill="#007f00" stroke="#000" stroke-width="1.0"/>
<rect x="417.85" y="563.80" width="10.75" height="52.80" fill="#007f00" stroke="#000" stroke-width="1.0"/>
<rect x="431.43" y="562.80" width="10.75" height="53.80" fill="#007f00" stroke="#000" stroke-width="1.0"/>
<rect x="445.00" y="560.10" width="10.75" height="56.50" fill="#007f00" stroke="#000" stroke-width="1.0"/>
<rect x="458.58" y="560.10" width="10.75" height="56.50" fill="#007f00" stroke="#000" stroke-width="1.0"/>
<rect x="472.16" y="561.40" width="10.75" height="55.20" fill="#007f00" stroke="#000" stroke-width="1.0"/>
<rect x="485.74" y="560.10" width="10.75" height="56.50" fill="#007f00" stroke="#000" stroke-width="1.0"/>
<rect x="499.32" y="560.10" width="10.75" height="56.50" fill="#007f00" stroke="#000" stroke-width="1.0"/>
<rect x="512.89" y="561.40" width="10.75" height="55.20" fill="#007f00" stroke="#000" stroke-width="1.0"/>
<rect x="526.47" y="560.10" width="10.75" height="56.50" fill="#007f00" stroke="#000" stroke-width="1.0"/>
<rect x="540.05" y="560.10" width="10.75" height="56.50" fill="#007f00" stroke="#000" stroke-width="1.0"/>
<rect x="553.63" y="562.80" width="10.75" height="53.80" fill="#007f00" stroke="#000" stroke-width="1.0"/>
<rect x="567.21" y="561.40" width="10.75" height="55.20" fill="#007f00" stroke="#000" stroke-width="1.0"/>
<rect x="580.78" y="562.80" width="10.75" height="53.80" fill="#007f00" stroke="#000" stroke-width="1.0"/>
<rect x="594.36" y="562.80" width="10.75" height="53.80" fill="#007f00" stroke="#000" stroke-width="1.0"/>
<rect x="607.94" y="560.10" width="10.75" height="56.50" fill="#007f00" stroke="#000" stroke-width="1.0"/>
<rect x="621.52" y="557.70" width="10.75" height="58.90" fill="#007f00" stroke="#000" stroke-width="1.0"/>
<line x1="111.00" y1="616.60" x2="640.60" y2="616.60" stroke="#000" stroke-width="1.2"/>
<rect x="111.00" y="533.40" width="529.60" height="166.00" fill="none" stroke="#000" stroke-width="1.5"/>
<line x1="123.96" y1="699.40" x2="123.96" y2="693.10" stroke="#000" stroke-width="1.25"/>
<line x1="123.96" y1="533.40" x2="123.96" y2="539.70" stroke="#000" stroke-width="1.25"/>
<line x1="151.09" y1="699.40" x2="151.09" y2="693.10" stroke="#000" stroke-width="1.25"/>
<line x1="151.09" y1="533.40" x2="151.09" y2="539.70" stroke="#000" stroke-width="1.25"/>
<line x1="178.21" y1="699.40" x2="178.21" y2="693.10" stroke="#000" stroke-width="1.25"/>
<line x1="178.21" y1="533.40" x2="178.21" y2="539.70" stroke="#000" stroke-width="1.25"/>
<line x1="205.34" y1="699.40" x2="205.34" y2="693.10" stroke="#000" stroke-width="1.25"/>
<line x1="205.34" y1="533.40" x2="205.34" y2="539.70" stroke="#000" stroke-width="1.25"/>
<line x1="232.46" y1="699.40" x2="232.46" y2="693.10" stroke="#000" stroke-width="1.25"/>
<line x1="232.46" y1="533.40" x2="232.46" y2="539.70" stroke="#000" stroke-width="1.25"/>
<line x1="259.59" y1="699.40" x2="259.59" y2="693.10" stroke="#000" stroke-width="1.25"/>
<line x1="259.59" y1="533.40" x2="259.59" y2="539.70" stroke="#000" stroke-width="1.25"/>
<line x1="286.72" y1="699.40" x2="286.72" y2="693.10" stroke="#000" stroke-width="1.25"/>
<line x1="286.72" y1="533.40" x2="286.72" y2="539.70" stroke="#000" stroke-width="1.25"/>
<line x1="313.84" y1="699.40" x2="313.84" y2="693.10" stroke="#000" stroke-width="1.25"/>
<line x1="313.84" y1="533.40" x2="313.84" y2="539.70" stroke="#000" stroke-width="1.25"/>
<line x1="340.97" y1="699.40" x2="340.97" y2="693.10" stroke="#000" stroke-width="1.25"/>
<line x1="340.97" y1="533.40" x2="340.97" y2="539.70" stroke="#000" stroke-width="1.25"/>
<line x1="368.09" y1="699.40" x2="368.09" y2="693.10" stroke="#000" stroke-width="1.25"/>
<line x1="368.09" y1="533.40" x2="368.09" y2="539.70" stroke="#000" stroke-width="1.25"/>
<line x1="381.66" y1="699.40" x2="381.66" y2="693.10" stroke="#000" stroke-width="1.25"/>
<line x1="381.66" y1="533.40" x2="381.66" y2="539.70" stroke="#000" stroke-width="1.25"/>
<line x1="408.78" y1="699.40" x2="408.78" y2="693.10" stroke="#000" stroke-width="1.25"/>
<line x1="408.78" y1="533.40" x2="408.78" y2="539.70" stroke="#000" stroke-width="1.25"/>
<line x1="435.91" y1="699.40" x2="435.91" y2="693.10" stroke="#000" stroke-width="1.25"/>
<line x1="435.91" y1="533.40" x2="435.91" y2="539.70" stroke="#000" stroke-width="1.25"/>
<line x1="463.03" y1="699.40" x2="463.03" y2="693.10" stroke="#000" stroke-width="1.25"/>
<line x1="463.03" y1="533.40" x2="463.03" y2="539.70" stroke="#000" stroke-width="1.25"/>
<line x1="490.16" y1="699.40" x2="490.16" y2="693.10" stroke="#000" stroke-width="1.25"/>
<line x1="490.16" y1="533.40" x2="490.16" y2="539.70" stroke="#000" stroke-width="1.25"/>
<line x1="517.29" y1="699.40" x2="517.29" y2="693.10" stroke="#000" stroke-width="1.25"/>
<line x1="517.29" y1="533.40" x2="517.29" y2="539.70" stroke="#000" stroke-width="1.25"/>
<line x1="544.41" y1="699.40" x2="544.41" y2="693.10" stroke="#000" stroke-width="1.25"/>
<line x1="544.41" y1="533.40" x2="544.41" y2="539.70" stroke="#000" stroke-width="1.25"/>
<line x1="571.54" y1="699.40" x2="571.54" y2="693.10" stroke="#000" stroke-width="1.25"/>
<line x1="571.54" y1="533.40" x2="571.54" y2="539.70" stroke="#000" stroke-width="1.25"/>
<line x1="598.67" y1="699.40" x2="598.67" y2="693.10" stroke="#000" stroke-width="1.25"/>
<line x1="598.67" y1="533.40" x2="598.67" y2="539.70" stroke="#000" stroke-width="1.25"/>
<line x1="625.79" y1="699.40" x2="625.79" y2="693.10" stroke="#000" stroke-width="1.25"/>
<line x1="625.79" y1="533.40" x2="625.79" y2="539.70" stroke="#000" stroke-width="1.25"/>
<line x1="111.00" y1="546.70" x2="117.30" y2="546.70" stroke="#000" stroke-width="1.25"/>
<line x1="640.60" y1="546.70" x2="634.30" y2="546.70" stroke="#000" stroke-width="1.25"/>
<line x1="111.00" y1="616.20" x2="117.30" y2="616.20" stroke="#000" stroke-width="1.25"/>
<line x1="640.60" y1="616.20" x2="634.30" y2="616.20" stroke="#000" stroke-width="1.25"/>
<line x1="111.00" y1="684.75" x2="117.30" y2="684.75" stroke="#000" stroke-width="1.25"/>
<line x1="640.60" y1="684.75" x2="634.30" y2="684.75" stroke="#000" stroke-width="1.25"/>
<text transform="translate(123.96 718.30) scale(0.825 1)" font-size="17.4" fill="#0c0c18" text-anchor="middle" stroke="#0c0c18" stroke-width="0.35">1</text>
<text transform="translate(151.09 718.30) scale(0.825 1)" font-size="17.4" fill="#0c0c18" text-anchor="middle" stroke="#0c0c18" stroke-width="0.35">3</text>
<text transform="translate(178.21 718.30) scale(0.825 1)" font-size="17.4" fill="#0c0c18" text-anchor="middle" stroke="#0c0c18" stroke-width="0.35">5</text>
<text transform="translate(205.34 718.30) scale(0.825 1)" font-size="17.4" fill="#0c0c18" text-anchor="middle" stroke="#0c0c18" stroke-width="0.35">7</text>
<text transform="translate(232.46 718.30) scale(0.825 1)" font-size="17.4" fill="#0c0c18" text-anchor="middle" stroke="#0c0c18" stroke-width="0.35">9</text>
<text transform="translate(259.59 718.30) scale(0.825 1)" font-size="17.4" fill="#0c0c18" text-anchor="middle" stroke="#0c0c18" stroke-width="0.35">11</text>
<text transform="translate(286.72 718.30) scale(0.825 1)" font-size="17.4" fill="#0c0c18" text-anchor="middle" stroke="#0c0c18" stroke-width="0.35">13</text>
<text transform="translate(313.84 718.30) scale(0.825 1)" font-size="17.4" fill="#0c0c18" text-anchor="middle" stroke="#0c0c18" stroke-width="0.35">15</text>
<text transform="translate(340.97 718.30) scale(0.825 1)" font-size="17.4" fill="#0c0c18" text-anchor="middle" stroke="#0c0c18" stroke-width="0.35">17</text>
<text transform="translate(368.09 718.30) scale(0.825 1)" font-size="17.4" fill="#0c0c18" text-anchor="middle" stroke="#0c0c18" stroke-width="0.35">19</text>
<text transform="translate(381.66 718.30) scale(0.825 1)" font-size="17.4" fill="#0c0c18" text-anchor="middle" stroke="#0c0c18" stroke-width="0.35">1</text>
<text transform="translate(408.78 718.30) scale(0.825 1)" font-size="17.4" fill="#0c0c18" text-anchor="middle" stroke="#0c0c18" stroke-width="0.35">3</text>
<text transform="translate(435.91 718.30) scale(0.825 1)" font-size="17.4" fill="#0c0c18" text-anchor="middle" stroke="#0c0c18" stroke-width="0.35">5</text>
<text transform="translate(463.03 718.30) scale(0.825 1)" font-size="17.4" fill="#0c0c18" text-anchor="middle" stroke="#0c0c18" stroke-width="0.35">7</text>
<text transform="translate(490.16 718.30) scale(0.825 1)" font-size="17.4" fill="#0c0c18" text-anchor="middle" stroke="#0c0c18" stroke-width="0.35">9</text>
<text transform="translate(517.29 718.30) scale(0.825 1)" font-size="17.4" fill="#0c0c18" text-anchor="middle" stroke="#0c0c18" stroke-width="0.35">11</text>
<text transform="translate(544.41 718.30) scale(0.825 1)" font-size="17.4" fill="#0c0c18" text-anchor="middle" stroke="#0c0c18" stroke-width="0.35">13</text>
<text transform="translate(571.54 718.30) scale(0.825 1)" font-size="17.4" fill="#0c0c18" text-anchor="middle" stroke="#0c0c18" stroke-width="0.35">15</text>
<text transform="translate(598.67 718.30) scale(0.825 1)" font-size="17.4" fill="#0c0c18" text-anchor="middle" stroke="#0c0c18" stroke-width="0.35">17</text>
<text transform="translate(625.79 718.30) scale(0.825 1)" font-size="17.4" fill="#0c0c18" text-anchor="middle" stroke="#0c0c18" stroke-width="0.35">19</text>
<text transform="translate(104.50 551.90) scale(0.825 1)" font-size="17.4" fill="#0c0c18" text-anchor="end" stroke="#0c0c18" stroke-width="0.35">50</text>
<text transform="translate(104.50 621.40) scale(0.825 1)" font-size="17.4" fill="#0c0c18" text-anchor="end" stroke="#0c0c18" stroke-width="0.35">0</text>
<text transform="translate(104.50 689.95) scale(0.825 1)" font-size="17.4" fill="#0c0c18" text-anchor="end" stroke="#0c0c18" stroke-width="0.35">-50</text>
<text transform="translate(373.20 742.50) scale(0.965 1)" font-size="19.7" fill="#0c0c18" text-anchor="middle" stroke="#0c0c18" stroke-width="0.3">Patient number</text>
<text transform="translate(71.30 617.90) rotate(-90) scale(0.955 1.09)" font-size="19.7" fill="#0c0c18" text-anchor="middle" stroke="#0c0c18" stroke-width="0.3">PC 1</text>
<text transform="translate(230.80 606.50) scale(0.96 1)" font-size="19.5" fill="#0c0c18" text-anchor="middle" stroke="#0c0c18" stroke-width="0.25">T0</text>
<text transform="translate(494.50 643.40) scale(0.96 1)" font-size="19.5" fill="#007f00" text-anchor="middle" stroke="#007f00" stroke-width="0.25">T3</text>
<text transform="translate(4.40 558.70) scale(0.95 1)" font-size="34.8" fill="#000" text-anchor="start" stroke="#000" stroke-width="0.3">g</text>
<text transform="translate(24.50 558.70) scale(0.9 1)" font-size="34.8" fill="#000" text-anchor="start" stroke="#000" stroke-width="0.3">)</text>
<rect x="1480.59" y="618.30" width="10.76" height="58.40" fill="#000000" stroke="#000" stroke-width="1.0"/>
<rect x="1494.18" y="618.30" width="10.76" height="59.70" fill="#000000" stroke="#000" stroke-width="1.0"/>
<rect x="1507.76" y="618.30" width="10.76" height="51.20" fill="#000000" stroke="#000" stroke-width="1.0"/>
<rect x="1521.34" y="618.30" width="10.76" height="35.30" fill="#000000" stroke="#000" stroke-width="1.0"/>
<rect x="1534.93" y="618.30" width="10.76" height="57.20" fill="#000000" stroke="#000" stroke-width="1.0"/>
<rect x="1548.51" y="618.30" width="10.76" height="50.00" fill="#000000" stroke="#000" stroke-width="1.0"/>
<rect x="1562.10" y="618.30" width="10.76" height="42.80" fill="#000000" stroke="#000" stroke-width="1.0"/>
<rect x="1575.68" y="618.30" width="10.76" height="48.70" fill="#000000" stroke="#000" stroke-width="1.0"/>
<rect x="1589.26" y="618.30" width="10.76" height="31.60" fill="#000000" stroke="#000" stroke-width="1.0"/>
<rect x="1602.85" y="618.30" width="10.76" height="71.90" fill="#000000" stroke="#000" stroke-width="1.0"/>
<rect x="1616.43" y="618.30" width="10.76" height="45.00" fill="#000000" stroke="#000" stroke-width="1.0"/>
<rect x="1630.02" y="618.30" width="10.76" height="46.20" fill="#000000" stroke="#000" stroke-width="1.0"/>
<rect x="1643.60" y="618.30" width="10.76" height="30.30" fill="#000000" stroke="#000" stroke-width="1.0"/>
<rect x="1657.18" y="618.30" width="10.76" height="15.60" fill="#000000" stroke="#000" stroke-width="1.0"/>
<rect x="1670.77" y="618.30" width="10.76" height="55.90" fill="#000000" stroke="#000" stroke-width="1.0"/>
<rect x="1684.35" y="618.30" width="10.76" height="69.40" fill="#000000" stroke="#000" stroke-width="1.0"/>
<rect x="1697.94" y="618.30" width="10.76" height="48.70" fill="#000000" stroke="#000" stroke-width="1.0"/>
<rect x="1711.52" y="618.30" width="10.76" height="41.20" fill="#000000" stroke="#000" stroke-width="1.0"/>
<rect x="1725.10" y="618.30" width="10.76" height="55.90" fill="#000000" stroke="#000" stroke-width="1.0"/>
<rect x="1739.65" y="558.50" width="10.76" height="59.80" fill="#007f00" stroke="#000" stroke-width="1.0"/>
<rect x="1753.23" y="557.20" width="10.76" height="61.10" fill="#007f00" stroke="#000" stroke-width="1.0"/>
<rect x="1766.82" y="565.70" width="10.76" height="52.60" fill="#007f00" stroke="#000" stroke-width="1.0"/>
<rect x="1780.40" y="581.60" width="10.76" height="36.70" fill="#007f00" stroke="#000" stroke-width="1.0"/>
<rect x="1793.99" y="559.70" width="10.76" height="58.60" fill="#007f00" stroke="#000" stroke-width="1.0"/>
<rect x="1807.57" y="566.90" width="10.76" height="51.40" fill="#007f00" stroke="#000" stroke-width="1.0"/>
<rect x="1821.15" y="574.10" width="10.76" height="44.20" fill="#007f00" stroke="#000" stroke-width="1.0"/>
<rect x="1834.74" y="568.20" width="10.76" height="50.10" fill="#007f00" stroke="#000" stroke-width="1.0"/>
<rect x="1848.32" y="585.30" width="10.76" height="33.00" fill="#007f00" stroke="#000" stroke-width="1.0"/>
<rect x="1861.91" y="545.00" width="10.76" height="73.30" fill="#007f00" stroke="#000" stroke-width="1.0"/>
<rect x="1875.49" y="571.90" width="10.76" height="46.40" fill="#007f00" stroke="#000" stroke-width="1.0"/>
<rect x="1889.07" y="570.70" width="10.76" height="47.60" fill="#007f00" stroke="#000" stroke-width="1.0"/>
<rect x="1902.66" y="586.60" width="10.76" height="31.70" fill="#007f00" stroke="#000" stroke-width="1.0"/>
<rect x="1916.24" y="601.30" width="10.76" height="17.00" fill="#007f00" stroke="#000" stroke-width="1.0"/>
<rect x="1929.83" y="561.00" width="10.76" height="57.30" fill="#007f00" stroke="#000" stroke-width="1.0"/>
<rect x="1943.41" y="547.50" width="10.76" height="70.80" fill="#007f00" stroke="#000" stroke-width="1.0"/>
<rect x="1956.99" y="568.20" width="10.76" height="50.10" fill="#007f00" stroke="#000" stroke-width="1.0"/>
<rect x="1970.58" y="575.70" width="10.76" height="42.60" fill="#007f00" stroke="#000" stroke-width="1.0"/>
<rect x="1984.16" y="561.00" width="10.76" height="57.30" fill="#007f00" stroke="#000" stroke-width="1.0"/>
<line x1="1473.10" y1="618.30" x2="2002.90" y2="618.30" stroke="#000" stroke-width="1.2"/>
<rect x="1473.10" y="534.20" width="529.80" height="168.20" fill="none" stroke="#000" stroke-width="1.5"/>
<line x1="1540.95" y1="702.40" x2="1540.95" y2="696.10" stroke="#000" stroke-width="1.25"/>
<line x1="1540.95" y1="534.20" x2="1540.95" y2="540.50" stroke="#000" stroke-width="1.25"/>
<line x1="1608.79" y1="702.40" x2="1608.79" y2="696.10" stroke="#000" stroke-width="1.25"/>
<line x1="1608.79" y1="534.20" x2="1608.79" y2="540.50" stroke="#000" stroke-width="1.25"/>
<line x1="1676.64" y1="702.40" x2="1676.64" y2="696.10" stroke="#000" stroke-width="1.25"/>
<line x1="1676.64" y1="534.20" x2="1676.64" y2="540.50" stroke="#000" stroke-width="1.25"/>
<line x1="1744.48" y1="702.40" x2="1744.48" y2="696.10" stroke="#000" stroke-width="1.25"/>
<line x1="1744.48" y1="534.20" x2="1744.48" y2="540.50" stroke="#000" stroke-width="1.25"/>
<line x1="1812.33" y1="702.40" x2="1812.33" y2="696.10" stroke="#000" stroke-width="1.25"/>
<line x1="1812.33" y1="534.20" x2="1812.33" y2="540.50" stroke="#000" stroke-width="1.25"/>
<line x1="1880.17" y1="702.40" x2="1880.17" y2="696.10" stroke="#000" stroke-width="1.25"/>
<line x1="1880.17" y1="534.20" x2="1880.17" y2="540.50" stroke="#000" stroke-width="1.25"/>
<line x1="1948.02" y1="702.40" x2="1948.02" y2="696.10" stroke="#000" stroke-width="1.25"/>
<line x1="1948.02" y1="534.20" x2="1948.02" y2="540.50" stroke="#000" stroke-width="1.25"/>
<line x1="1473.10" y1="547.50" x2="1479.40" y2="547.50" stroke="#000" stroke-width="1.25"/>
<line x1="2002.90" y1="547.50" x2="1996.60" y2="547.50" stroke="#000" stroke-width="1.25"/>
<line x1="1473.10" y1="617.90" x2="1479.40" y2="617.90" stroke="#000" stroke-width="1.25"/>
<line x1="2002.90" y1="617.90" x2="1996.60" y2="617.90" stroke="#000" stroke-width="1.25"/>
<line x1="1473.10" y1="688.10" x2="1479.40" y2="688.10" stroke="#000" stroke-width="1.25"/>
<line x1="2002.90" y1="688.10" x2="1996.60" y2="688.10" stroke="#000" stroke-width="1.25"/>
<text transform="translate(1473.10 721.30) scale(0.825 1)" font-size="17.4" fill="#0c0c18" text-anchor="middle" stroke="#0c0c18" stroke-width="0.35">0</text>
<text transform="translate(1540.95 721.30) scale(0.825 1)" font-size="17.4" fill="#0c0c18" text-anchor="middle" stroke="#0c0c18" stroke-width="0.35">5</text>
<text transform="translate(1608.79 721.30) scale(0.825 1)" font-size="17.4" fill="#0c0c18" text-anchor="middle" stroke="#0c0c18" stroke-width="0.35">10</text>
<text transform="translate(1676.64 721.30) scale(0.825 1)" font-size="17.4" fill="#0c0c18" text-anchor="middle" stroke="#0c0c18" stroke-width="0.35">15</text>
<text transform="translate(1744.48 721.30) scale(0.825 1)" font-size="17.4" fill="#0c0c18" text-anchor="middle" stroke="#0c0c18" stroke-width="0.35">20</text>
<text transform="translate(1812.33 721.30) scale(0.825 1)" font-size="17.4" fill="#0c0c18" text-anchor="middle" stroke="#0c0c18" stroke-width="0.35">25</text>
<text transform="translate(1880.17 721.30) scale(0.825 1)" font-size="17.4" fill="#0c0c18" text-anchor="middle" stroke="#0c0c18" stroke-width="0.35">30</text>
<text transform="translate(1948.02 721.30) scale(0.825 1)" font-size="17.4" fill="#0c0c18" text-anchor="middle" stroke="#0c0c18" stroke-width="0.35">35</text>
<text transform="translate(1467.30 552.70) scale(0.825 1)" font-size="17.4" fill="#0c0c18" text-anchor="end" stroke="#0c0c18" stroke-width="0.35">50</text>
<text transform="translate(1467.30 623.10) scale(0.825 1)" font-size="17.4" fill="#0c0c18" text-anchor="end" stroke="#0c0c18" stroke-width="0.35">0</text>
<text transform="translate(1467.30 693.30) scale(0.825 1)" font-size="17.4" fill="#0c0c18" text-anchor="end" stroke="#0c0c18" stroke-width="0.35">-50</text>
<text transform="translate(1735.70 745.50) scale(0.965 1)" font-size="19.7" fill="#0c0c18" text-anchor="middle" stroke="#0c0c18" stroke-width="0.3">Patient number</text>
<text transform="translate(1436.70 622.50) rotate(-90) scale(0.955 1.09)" font-size="19.7" fill="#0c0c18" text-anchor="middle" stroke="#0c0c18" stroke-width="0.3">PC 1</text>
<text transform="translate(1615.30 609.90) scale(0.96 1)" font-size="19.5" fill="#0c0c18" text-anchor="middle" stroke="#0c0c18" stroke-width="0.25">T0</text>
<text transform="translate(1873.00 641.70) scale(0.96 1)" font-size="19.5" fill="#007f00" text-anchor="middle" stroke="#007f00" stroke-width="0.25">T3</text>
<text transform="translate(1391.40 564.40) scale(0.95 1)" font-size="34.8" fill="#000" text-anchor="start" stroke="#000" stroke-width="0.3">i</text>
<text transform="translate(1399.50 564.40) scale(0.9 1)" font-size="34.8" fill="#000" text-anchor="start" stroke="#000" stroke-width="0.3">)</text>
<rect x="116.47" y="881.90" width="10.75" height="44.80" fill="#dc2d00" stroke="#000" stroke-width="1.0"/>
<rect x="130.05" y="881.90" width="10.75" height="44.80" fill="#dc2d00" stroke="#000" stroke-width="1.0"/>
<rect x="143.64" y="881.90" width="10.75" height="44.80" fill="#dc2d00" stroke="#000" stroke-width="1.0"/>
<rect x="157.22" y="881.90" width="10.75" height="44.80" fill="#dc2d00" stroke="#000" stroke-width="1.0"/>
<rect x="170.80" y="881.90" width="10.75" height="44.80" fill="#dc2d00" stroke="#000" stroke-width="1.0"/>
<rect x="184.38" y="881.90" width="10.75" height="46.10" fill="#dc2d00" stroke="#000" stroke-width="1.0"/>
<rect x="197.96" y="881.90" width="10.75" height="43.40" fill="#dc2d00" stroke="#000" stroke-width="1.0"/>
<rect x="211.54" y="881.90" width="10.75" height="46.10" fill="#dc2d00" stroke="#000" stroke-width="1.0"/>
<rect x="225.12" y="881.90" width="10.75" height="44.80" fill="#dc2d00" stroke="#000" stroke-width="1.0"/>
<rect x="238.70" y="881.90" width="10.75" height="47.40" fill="#dc2d00" stroke="#000" stroke-width="1.0"/>
<rect x="252.28" y="881.90" width="10.75" height="44.80" fill="#dc2d00" stroke="#000" stroke-width="1.0"/>
<rect x="265.86" y="881.90" width="10.75" height="46.10" fill="#dc2d00" stroke="#000" stroke-width="1.0"/>
<rect x="279.45" y="881.90" width="10.75" height="44.80" fill="#dc2d00" stroke="#000" stroke-width="1.0"/>
<rect x="293.03" y="881.90" width="10.75" height="47.40" fill="#dc2d00" stroke="#000" stroke-width="1.0"/>
<rect x="306.61" y="881.90" width="10.75" height="46.10" fill="#dc2d00" stroke="#000" stroke-width="1.0"/>
<rect x="320.19" y="881.90" width="10.75" height="44.80" fill="#dc2d00" stroke="#000" stroke-width="1.0"/>
<rect x="333.77" y="881.90" width="10.75" height="46.10" fill="#dc2d00" stroke="#000" stroke-width="1.0"/>
<rect x="347.35" y="881.90" width="10.75" height="47.40" fill="#dc2d00" stroke="#000" stroke-width="1.0"/>
<rect x="360.93" y="881.90" width="10.75" height="44.80" fill="#dc2d00" stroke="#000" stroke-width="1.0"/>
<rect x="375.47" y="835.40" width="10.75" height="46.50" fill="#007f00" stroke="#000" stroke-width="1.0"/>
<rect x="389.06" y="835.40" width="10.75" height="46.50" fill="#007f00" stroke="#000" stroke-width="1.0"/>
<rect x="402.64" y="835.40" width="10.75" height="46.50" fill="#007f00" stroke="#000" stroke-width="1.0"/>
<rect x="416.22" y="835.40" width="10.75" height="46.50" fill="#007f00" stroke="#000" stroke-width="1.0"/>
<rect x="429.80" y="835.40" width="10.75" height="46.50" fill="#007f00" stroke="#000" stroke-width="1.0"/>
<rect x="443.38" y="834.10" width="10.75" height="47.80" fill="#007f00" stroke="#000" stroke-width="1.0"/>
<rect x="456.96" y="836.80" width="10.75" height="45.10" fill="#007f00" stroke="#000" stroke-width="1.0"/>
<rect x="470.54" y="834.10" width="10.75" height="47.80" fill="#007f00" stroke="#000" stroke-width="1.0"/>
<rect x="484.12" y="835.40" width="10.75" height="46.50" fill="#007f00" stroke="#000" stroke-width="1.0"/>
<rect x="497.70" y="832.80" width="10.75" height="49.10" fill="#007f00" stroke="#000" stroke-width="1.0"/>
<rect x="511.28" y="835.40" width="10.75" height="46.50" fill="#007f00" stroke="#000" stroke-width="1.0"/>
<rect x="524.87" y="834.10" width="10.75" height="47.80" fill="#007f00" stroke="#000" stroke-width="1.0"/>
<rect x="538.45" y="835.40" width="10.75" height="46.50" fill="#007f00" stroke="#000" stroke-width="1.0"/>
<rect x="552.03" y="832.80" width="10.75" height="49.10" fill="#007f00" stroke="#000" stroke-width="1.0"/>
<rect x="565.61" y="834.10" width="10.75" height="47.80" fill="#007f00" stroke="#000" stroke-width="1.0"/>
<rect x="579.19" y="835.40" width="10.75" height="46.50" fill="#007f00" stroke="#000" stroke-width="1.0"/>
<rect x="592.77" y="834.10" width="10.75" height="47.80" fill="#007f00" stroke="#000" stroke-width="1.0"/>
<rect x="606.35" y="832.80" width="10.75" height="49.10" fill="#007f00" stroke="#000" stroke-width="1.0"/>
<rect x="619.93" y="835.40" width="10.75" height="46.50" fill="#007f00" stroke="#000" stroke-width="1.0"/>
<line x1="109.20" y1="881.90" x2="639.20" y2="881.90" stroke="#000" stroke-width="1.2"/>
<rect x="109.20" y="799.00" width="530.00" height="165.90" fill="none" stroke="#000" stroke-width="1.5"/>
<line x1="122.45" y1="964.90" x2="122.45" y2="958.60" stroke="#000" stroke-width="1.25"/>
<line x1="122.45" y1="799.00" x2="122.45" y2="805.30" stroke="#000" stroke-width="1.25"/>
<line x1="149.58" y1="964.90" x2="149.58" y2="958.60" stroke="#000" stroke-width="1.25"/>
<line x1="149.58" y1="799.00" x2="149.58" y2="805.30" stroke="#000" stroke-width="1.25"/>
<line x1="176.71" y1="964.90" x2="176.71" y2="958.60" stroke="#000" stroke-width="1.25"/>
<line x1="176.71" y1="799.00" x2="176.71" y2="805.30" stroke="#000" stroke-width="1.25"/>
<line x1="203.85" y1="964.90" x2="203.85" y2="958.60" stroke="#000" stroke-width="1.25"/>
<line x1="203.85" y1="799.00" x2="203.85" y2="805.30" stroke="#000" stroke-width="1.25"/>
<line x1="230.98" y1="964.90" x2="230.98" y2="958.60" stroke="#000" stroke-width="1.25"/>
<line x1="230.98" y1="799.00" x2="230.98" y2="805.30" stroke="#000" stroke-width="1.25"/>
<line x1="258.11" y1="964.90" x2="258.11" y2="958.60" stroke="#000" stroke-width="1.25"/>
<line x1="258.11" y1="799.00" x2="258.11" y2="805.30" stroke="#000" stroke-width="1.25"/>
<line x1="285.24" y1="964.90" x2="285.24" y2="958.60" stroke="#000" stroke-width="1.25"/>
<line x1="285.24" y1="799.00" x2="285.24" y2="805.30" stroke="#000" stroke-width="1.25"/>
<line x1="312.37" y1="964.90" x2="312.37" y2="958.60" stroke="#000" stroke-width="1.25"/>
<line x1="312.37" y1="799.00" x2="312.37" y2="805.30" stroke="#000" stroke-width="1.25"/>
<line x1="339.51" y1="964.90" x2="339.51" y2="958.60" stroke="#000" stroke-width="1.25"/>
<line x1="339.51" y1="799.00" x2="339.51" y2="805.30" stroke="#000" stroke-width="1.25"/>
<line x1="366.64" y1="964.90" x2="366.64" y2="958.60" stroke="#000" stroke-width="1.25"/>
<line x1="366.64" y1="799.00" x2="366.64" y2="805.30" stroke="#000" stroke-width="1.25"/>
<line x1="380.20" y1="964.90" x2="380.20" y2="958.60" stroke="#000" stroke-width="1.25"/>
<line x1="380.20" y1="799.00" x2="380.20" y2="805.30" stroke="#000" stroke-width="1.25"/>
<line x1="407.34" y1="964.90" x2="407.34" y2="958.60" stroke="#000" stroke-width="1.25"/>
<line x1="407.34" y1="799.00" x2="407.34" y2="805.30" stroke="#000" stroke-width="1.25"/>
<line x1="434.47" y1="964.90" x2="434.47" y2="958.60" stroke="#000" stroke-width="1.25"/>
<line x1="434.47" y1="799.00" x2="434.47" y2="805.30" stroke="#000" stroke-width="1.25"/>
<line x1="461.60" y1="964.90" x2="461.60" y2="958.60" stroke="#000" stroke-width="1.25"/>
<line x1="461.60" y1="799.00" x2="461.60" y2="805.30" stroke="#000" stroke-width="1.25"/>
<line x1="488.73" y1="964.90" x2="488.73" y2="958.60" stroke="#000" stroke-width="1.25"/>
<line x1="488.73" y1="799.00" x2="488.73" y2="805.30" stroke="#000" stroke-width="1.25"/>
<line x1="515.86" y1="964.90" x2="515.86" y2="958.60" stroke="#000" stroke-width="1.25"/>
<line x1="515.86" y1="799.00" x2="515.86" y2="805.30" stroke="#000" stroke-width="1.25"/>
<line x1="543.00" y1="964.90" x2="543.00" y2="958.60" stroke="#000" stroke-width="1.25"/>
<line x1="543.00" y1="799.00" x2="543.00" y2="805.30" stroke="#000" stroke-width="1.25"/>
<line x1="570.13" y1="964.90" x2="570.13" y2="958.60" stroke="#000" stroke-width="1.25"/>
<line x1="570.13" y1="799.00" x2="570.13" y2="805.30" stroke="#000" stroke-width="1.25"/>
<line x1="597.26" y1="964.90" x2="597.26" y2="958.60" stroke="#000" stroke-width="1.25"/>
<line x1="597.26" y1="799.00" x2="597.26" y2="805.30" stroke="#000" stroke-width="1.25"/>
<line x1="624.39" y1="964.90" x2="624.39" y2="958.60" stroke="#000" stroke-width="1.25"/>
<line x1="624.39" y1="799.00" x2="624.39" y2="805.30" stroke="#000" stroke-width="1.25"/>
<line x1="109.20" y1="812.20" x2="115.50" y2="812.20" stroke="#000" stroke-width="1.25"/>
<line x1="639.20" y1="812.20" x2="632.90" y2="812.20" stroke="#000" stroke-width="1.25"/>
<line x1="109.20" y1="881.50" x2="115.50" y2="881.50" stroke="#000" stroke-width="1.25"/>
<line x1="639.20" y1="881.50" x2="632.90" y2="881.50" stroke="#000" stroke-width="1.25"/>
<line x1="109.20" y1="950.35" x2="115.50" y2="950.35" stroke="#000" stroke-width="1.25"/>
<line x1="639.20" y1="950.35" x2="632.90" y2="950.35" stroke="#000" stroke-width="1.25"/>
<text transform="translate(122.45 983.80) scale(0.825 1)" font-size="17.4" fill="#0c0c18" text-anchor="middle" stroke="#0c0c18" stroke-width="0.35">1</text>
<text transform="translate(149.58 983.80) scale(0.825 1)" font-size="17.4" fill="#0c0c18" text-anchor="middle" stroke="#0c0c18" stroke-width="0.35">3</text>
<text transform="translate(176.71 983.80) scale(0.825 1)" font-size="17.4" fill="#0c0c18" text-anchor="middle" stroke="#0c0c18" stroke-width="0.35">5</text>
<text transform="translate(203.85 983.80) scale(0.825 1)" font-size="17.4" fill="#0c0c18" text-anchor="middle" stroke="#0c0c18" stroke-width="0.35">7</text>
<text transform="translate(230.98 983.80) scale(0.825 1)" font-size="17.4" fill="#0c0c18" text-anchor="middle" stroke="#0c0c18" stroke-width="0.35">9</text>
<text transform="translate(258.11 983.80) scale(0.825 1)" font-size="17.4" fill="#0c0c18" text-anchor="middle" stroke="#0c0c18" stroke-width="0.35">11</text>
<text transform="translate(285.24 983.80) scale(0.825 1)" font-size="17.4" fill="#0c0c18" text-anchor="middle" stroke="#0c0c18" stroke-width="0.35">13</text>
<text transform="translate(312.37 983.80) scale(0.825 1)" font-size="17.4" fill="#0c0c18" text-anchor="middle" stroke="#0c0c18" stroke-width="0.35">15</text>
<text transform="translate(339.51 983.80) scale(0.825 1)" font-size="17.4" fill="#0c0c18" text-anchor="middle" stroke="#0c0c18" stroke-width="0.35">17</text>
<text transform="translate(366.64 983.80) scale(0.825 1)" font-size="17.4" fill="#0c0c18" text-anchor="middle" stroke="#0c0c18" stroke-width="0.35">19</text>
<text transform="translate(380.20 983.80) scale(0.825 1)" font-size="17.4" fill="#0c0c18" text-anchor="middle" stroke="#0c0c18" stroke-width="0.35">1</text>
<text transform="translate(407.34 983.80) scale(0.825 1)" font-size="17.4" fill="#0c0c18" text-anchor="middle" stroke="#0c0c18" stroke-width="0.35">3</text>
<text transform="translate(434.47 983.80) scale(0.825 1)" font-size="17.4" fill="#0c0c18" text-anchor="middle" stroke="#0c0c18" stroke-width="0.35">5</text>
<text transform="translate(461.60 983.80) scale(0.825 1)" font-size="17.4" fill="#0c0c18" text-anchor="middle" stroke="#0c0c18" stroke-width="0.35">7</text>
<text transform="translate(488.73 983.80) scale(0.825 1)" font-size="17.4" fill="#0c0c18" text-anchor="middle" stroke="#0c0c18" stroke-width="0.35">9</text>
<text transform="translate(515.86 983.80) scale(0.825 1)" font-size="17.4" fill="#0c0c18" text-anchor="middle" stroke="#0c0c18" stroke-width="0.35">11</text>
<text transform="translate(543.00 983.80) scale(0.825 1)" font-size="17.4" fill="#0c0c18" text-anchor="middle" stroke="#0c0c18" stroke-width="0.35">13</text>
<text transform="translate(570.13 983.80) scale(0.825 1)" font-size="17.4" fill="#0c0c18" text-anchor="middle" stroke="#0c0c18" stroke-width="0.35">15</text>
<text transform="translate(597.26 983.80) scale(0.825 1)" font-size="17.4" fill="#0c0c18" text-anchor="middle" stroke="#0c0c18" stroke-width="0.35">17</text>
<text transform="translate(624.39 983.80) scale(0.825 1)" font-size="17.4" fill="#0c0c18" text-anchor="middle" stroke="#0c0c18" stroke-width="0.35">19</text>
<text transform="translate(103.30 817.40) scale(0.825 1)" font-size="17.4" fill="#0c0c18" text-anchor="end" stroke="#0c0c18" stroke-width="0.35">50</text>
<text transform="translate(103.30 886.70) scale(0.825 1)" font-size="17.4" fill="#0c0c18" text-anchor="end" stroke="#0c0c18" stroke-width="0.35">0</text>
<text transform="translate(103.30 955.55) scale(0.825 1)" font-size="17.4" fill="#0c0c18" text-anchor="end" stroke="#0c0c18" stroke-width="0.35">-50</text>
<text transform="translate(371.90 1008.00) scale(0.965 1)" font-size="19.7" fill="#0c0c18" text-anchor="middle" stroke="#0c0c18" stroke-width="0.3">Patient number</text>
<text transform="translate(69.50 883.30) rotate(-90) scale(0.955 1.09)" font-size="19.7" fill="#0c0c18" text-anchor="middle" stroke="#0c0c18" stroke-width="0.3">PC 1</text>
<text transform="translate(224.70 871.10) scale(0.96 1)" font-size="19.5" fill="#dc2d00" text-anchor="middle" stroke="#dc2d00" stroke-width="0.25">T1</text>
<text transform="translate(488.10 907.60) scale(0.96 1)" font-size="19.5" fill="#007f00" text-anchor="middle" stroke="#007f00" stroke-width="0.25">T3</text>
<text transform="translate(17.40 827.10) scale(0.95 1)" font-size="34.8" fill="#000" text-anchor="start" stroke="#000" stroke-width="0.3">j</text>
<text transform="translate(26.60 827.10) scale(0.9 1)" font-size="34.8" fill="#000" text-anchor="start" stroke="#000" stroke-width="0.3">)</text>
<rect x="1481.07" y="885.00" width="10.75" height="43.70" fill="#dc2d00" stroke="#000" stroke-width="1.0"/>
<rect x="1494.65" y="885.00" width="10.75" height="37.80" fill="#dc2d00" stroke="#000" stroke-width="1.0"/>
<rect x="1508.23" y="885.00" width="10.75" height="36.60" fill="#dc2d00" stroke="#000" stroke-width="1.0"/>
<rect x="1521.81" y="885.00" width="10.75" height="4.70" fill="#dc2d00" stroke="#000" stroke-width="1.0"/>
<rect x="1535.39" y="885.00" width="10.75" height="46.20" fill="#dc2d00" stroke="#000" stroke-width="1.0"/>
<rect x="1548.97" y="885.00" width="10.75" height="25.30" fill="#dc2d00" stroke="#000" stroke-width="1.0"/>
<rect x="1562.55" y="885.00" width="10.75" height="9.40" fill="#dc2d00" stroke="#000" stroke-width="1.0"/>
<rect x="1576.13" y="885.00" width="10.75" height="42.50" fill="#dc2d00" stroke="#000" stroke-width="1.0"/>
<rect x="1589.71" y="885.00" width="10.75" height="20.30" fill="#dc2d00" stroke="#000" stroke-width="1.0"/>
<rect x="1603.29" y="885.00" width="10.75" height="48.70" fill="#dc2d00" stroke="#000" stroke-width="1.0"/>
<rect x="1616.86" y="885.00" width="10.75" height="34.10" fill="#dc2d00" stroke="#000" stroke-width="1.0"/>
<rect x="1630.44" y="885.00" width="10.75" height="37.80" fill="#dc2d00" stroke="#000" stroke-width="1.0"/>
<rect x="1644.02" y="885.00" width="10.75" height="18.10" fill="#dc2d00" stroke="#000" stroke-width="1.0"/>
<rect x="1657.60" y="885.00" width="10.75" height="14.40" fill="#dc2d00" stroke="#000" stroke-width="1.0"/>
<rect x="1671.18" y="885.00" width="10.75" height="21.60" fill="#dc2d00" stroke="#000" stroke-width="1.0"/>
<rect x="1684.76" y="885.00" width="10.75" height="73.10" fill="#dc2d00" stroke="#000" stroke-width="1.0"/>
<rect x="1698.34" y="885.00" width="10.75" height="55.90" fill="#dc2d00" stroke="#000" stroke-width="1.0"/>
<rect x="1711.92" y="885.00" width="10.75" height="41.20" fill="#dc2d00" stroke="#000" stroke-width="1.0"/>
<rect x="1725.50" y="885.00" width="10.75" height="34.10" fill="#dc2d00" stroke="#000" stroke-width="1.0"/>
<rect x="1740.22" y="840.10" width="10.75" height="44.90" fill="#007f00" stroke="#000" stroke-width="1.0"/>
<rect x="1753.80" y="846.00" width="10.75" height="39.00" fill="#007f00" stroke="#000" stroke-width="1.0"/>
<rect x="1767.38" y="847.20" width="10.75" height="37.80" fill="#007f00" stroke="#000" stroke-width="1.0"/>
<rect x="1780.96" y="879.10" width="10.75" height="5.90" fill="#007f00" stroke="#000" stroke-width="1.0"/>
<rect x="1794.54" y="837.60" width="10.75" height="47.40" fill="#007f00" stroke="#000" stroke-width="1.0"/>
<rect x="1808.12" y="858.50" width="10.75" height="26.50" fill="#007f00" stroke="#000" stroke-width="1.0"/>
<rect x="1821.70" y="874.40" width="10.75" height="10.60" fill="#007f00" stroke="#000" stroke-width="1.0"/>
<rect x="1835.28" y="841.30" width="10.75" height="43.70" fill="#007f00" stroke="#000" stroke-width="1.0"/>
<rect x="1848.85" y="863.50" width="10.75" height="21.50" fill="#007f00" stroke="#000" stroke-width="1.0"/>
<rect x="1862.43" y="835.10" width="10.75" height="49.90" fill="#007f00" stroke="#000" stroke-width="1.0"/>
<rect x="1876.01" y="849.70" width="10.75" height="35.30" fill="#007f00" stroke="#000" stroke-width="1.0"/>
<rect x="1889.59" y="846.00" width="10.75" height="39.00" fill="#007f00" stroke="#000" stroke-width="1.0"/>
<rect x="1903.17" y="865.70" width="10.75" height="19.30" fill="#007f00" stroke="#000" stroke-width="1.0"/>
<rect x="1916.75" y="869.40" width="10.75" height="15.60" fill="#007f00" stroke="#000" stroke-width="1.0"/>
<rect x="1930.33" y="862.20" width="10.75" height="22.80" fill="#007f00" stroke="#000" stroke-width="1.0"/>
<rect x="1943.91" y="810.70" width="10.75" height="74.30" fill="#007f00" stroke="#000" stroke-width="1.0"/>
<rect x="1957.49" y="827.90" width="10.75" height="57.10" fill="#007f00" stroke="#000" stroke-width="1.0"/>
<rect x="1971.07" y="842.60" width="10.75" height="42.40" fill="#007f00" stroke="#000" stroke-width="1.0"/>
<rect x="1984.64" y="849.70" width="10.75" height="35.30" fill="#007f00" stroke="#000" stroke-width="1.0"/>
<line x1="1474.10" y1="885.00" x2="2003.90" y2="885.00" stroke="#000" stroke-width="1.2"/>
<rect x="1474.10" y="800.85" width="529.80" height="168.55" fill="none" stroke="#000" stroke-width="1.5"/>
<line x1="1487.15" y1="969.40" x2="1487.15" y2="963.10" stroke="#000" stroke-width="1.25"/>
<line x1="1487.15" y1="800.85" x2="1487.15" y2="807.15" stroke="#000" stroke-width="1.25"/>
<line x1="1500.71" y1="969.40" x2="1500.71" y2="963.10" stroke="#000" stroke-width="1.25"/>
<line x1="1500.71" y1="800.85" x2="1500.71" y2="807.15" stroke="#000" stroke-width="1.25"/>
<line x1="1514.28" y1="969.40" x2="1514.28" y2="963.10" stroke="#000" stroke-width="1.25"/>
<line x1="1514.28" y1="800.85" x2="1514.28" y2="807.15" stroke="#000" stroke-width="1.25"/>
<line x1="1527.84" y1="969.40" x2="1527.84" y2="963.10" stroke="#000" stroke-width="1.25"/>
<line x1="1527.84" y1="800.85" x2="1527.84" y2="807.15" stroke="#000" stroke-width="1.25"/>
<line x1="1541.41" y1="969.40" x2="1541.41" y2="963.10" stroke="#000" stroke-width="1.25"/>
<line x1="1541.41" y1="800.85" x2="1541.41" y2="807.15" stroke="#000" stroke-width="1.25"/>
<line x1="1554.97" y1="969.40" x2="1554.97" y2="963.10" stroke="#000" stroke-width="1.25"/>
<line x1="1554.97" y1="800.85" x2="1554.97" y2="807.15" stroke="#000" stroke-width="1.25"/>
<line x1="1568.53" y1="969.40" x2="1568.53" y2="963.10" stroke="#000" stroke-width="1.25"/>
<line x1="1568.53" y1="800.85" x2="1568.53" y2="807.15" stroke="#000" stroke-width="1.25"/>
<line x1="1582.10" y1="969.40" x2="1582.10" y2="963.10" stroke="#000" stroke-width="1.25"/>
<line x1="1582.10" y1="800.85" x2="1582.10" y2="807.15" stroke="#000" stroke-width="1.25"/>
<line x1="1595.66" y1="969.40" x2="1595.66" y2="963.10" stroke="#000" stroke-width="1.25"/>
<line x1="1595.66" y1="800.85" x2="1595.66" y2="807.15" stroke="#000" stroke-width="1.25"/>
<line x1="1609.23" y1="969.40" x2="1609.23" y2="963.10" stroke="#000" stroke-width="1.25"/>
<line x1="1609.23" y1="800.85" x2="1609.23" y2="807.15" stroke="#000" stroke-width="1.25"/>
<line x1="1622.79" y1="969.40" x2="1622.79" y2="963.10" stroke="#000" stroke-width="1.25"/>
<line x1="1622.79" y1="800.85" x2="1622.79" y2="807.15" stroke="#000" stroke-width="1.25"/>
<line x1="1636.35" y1="969.40" x2="1636.35" y2="963.10" stroke="#000" stroke-width="1.25"/>
<line x1="1636.35" y1="800.85" x2="1636.35" y2="807.15" stroke="#000" stroke-width="1.25"/>
<line x1="1649.92" y1="969.40" x2="1649.92" y2="963.10" stroke="#000" stroke-width="1.25"/>
<line x1="1649.92" y1="800.85" x2="1649.92" y2="807.15" stroke="#000" stroke-width="1.25"/>
<line x1="1663.48" y1="969.40" x2="1663.48" y2="963.10" stroke="#000" stroke-width="1.25"/>
<line x1="1663.48" y1="800.85" x2="1663.48" y2="807.15" stroke="#000" stroke-width="1.25"/>
<line x1="1677.05" y1="969.40" x2="1677.05" y2="963.10" stroke="#000" stroke-width="1.25"/>
<line x1="1677.05" y1="800.85" x2="1677.05" y2="807.15" stroke="#000" stroke-width="1.25"/>
<line x1="1690.61" y1="969.40" x2="1690.61" y2="963.10" stroke="#000" stroke-width="1.25"/>
<line x1="1690.61" y1="800.85" x2="1690.61" y2="807.15" stroke="#000" stroke-width="1.25"/>
<line x1="1704.17" y1="969.40" x2="1704.17" y2="963.10" stroke="#000" stroke-width="1.25"/>
<line x1="1704.17" y1="800.85" x2="1704.17" y2="807.15" stroke="#000" stroke-width="1.25"/>
<line x1="1717.74" y1="969.40" x2="1717.74" y2="963.10" stroke="#000" stroke-width="1.25"/>
<line x1="1717.74" y1="800.85" x2="1717.74" y2="807.15" stroke="#000" stroke-width="1.25"/>
<line x1="1731.30" y1="969.40" x2="1731.30" y2="963.10" stroke="#000" stroke-width="1.25"/>
<line x1="1731.30" y1="800.85" x2="1731.30" y2="807.15" stroke="#000" stroke-width="1.25"/>
<line x1="1744.87" y1="969.40" x2="1744.87" y2="963.10" stroke="#000" stroke-width="1.25"/>
<line x1="1744.87" y1="800.85" x2="1744.87" y2="807.15" stroke="#000" stroke-width="1.25"/>
<line x1="1758.43" y1="969.40" x2="1758.43" y2="963.10" stroke="#000" stroke-width="1.25"/>
<line x1="1758.43" y1="800.85" x2="1758.43" y2="807.15" stroke="#000" stroke-width="1.25"/>
<line x1="1771.99" y1="969.40" x2="1771.99" y2="963.10" stroke="#000" stroke-width="1.25"/>
<line x1="1771.99" y1="800.85" x2="1771.99" y2="807.15" stroke="#000" stroke-width="1.25"/>
<line x1="1785.56" y1="969.40" x2="1785.56" y2="963.10" stroke="#000" stroke-width="1.25"/>
<line x1="1785.56" y1="800.85" x2="1785.56" y2="807.15" stroke="#000" stroke-width="1.25"/>
<line x1="1799.12" y1="969.40" x2="1799.12" y2="963.10" stroke="#000" stroke-width="1.25"/>
<line x1="1799.12" y1="800.85" x2="1799.12" y2="807.15" stroke="#000" stroke-width="1.25"/>
<line x1="1812.69" y1="969.40" x2="1812.69" y2="963.10" stroke="#000" stroke-width="1.25"/>
<line x1="1812.69" y1="800.85" x2="1812.69" y2="807.15" stroke="#000" stroke-width="1.25"/>
<line x1="1826.25" y1="969.40" x2="1826.25" y2="963.10" stroke="#000" stroke-width="1.25"/>
<line x1="1826.25" y1="800.85" x2="1826.25" y2="807.15" stroke="#000" stroke-width="1.25"/>
<line x1="1839.81" y1="969.40" x2="1839.81" y2="963.10" stroke="#000" stroke-width="1.25"/>
<line x1="1839.81" y1="800.85" x2="1839.81" y2="807.15" stroke="#000" stroke-width="1.25"/>
<line x1="1853.38" y1="969.40" x2="1853.38" y2="963.10" stroke="#000" stroke-width="1.25"/>
<line x1="1853.38" y1="800.85" x2="1853.38" y2="807.15" stroke="#000" stroke-width="1.25"/>
<line x1="1866.94" y1="969.40" x2="1866.94" y2="963.10" stroke="#000" stroke-width="1.25"/>
<line x1="1866.94" y1="800.85" x2="1866.94" y2="807.15" stroke="#000" stroke-width="1.25"/>
<line x1="1880.51" y1="969.40" x2="1880.51" y2="963.10" stroke="#000" stroke-width="1.25"/>
<line x1="1880.51" y1="800.85" x2="1880.51" y2="807.15" stroke="#000" stroke-width="1.25"/>
<line x1="1894.07" y1="969.40" x2="1894.07" y2="963.10" stroke="#000" stroke-width="1.25"/>
<line x1="1894.07" y1="800.85" x2="1894.07" y2="807.15" stroke="#000" stroke-width="1.25"/>
<line x1="1907.63" y1="969.40" x2="1907.63" y2="963.10" stroke="#000" stroke-width="1.25"/>
<line x1="1907.63" y1="800.85" x2="1907.63" y2="807.15" stroke="#000" stroke-width="1.25"/>
<line x1="1921.20" y1="969.40" x2="1921.20" y2="963.10" stroke="#000" stroke-width="1.25"/>
<line x1="1921.20" y1="800.85" x2="1921.20" y2="807.15" stroke="#000" stroke-width="1.25"/>
<line x1="1934.76" y1="969.40" x2="1934.76" y2="963.10" stroke="#000" stroke-width="1.25"/>
<line x1="1934.76" y1="800.85" x2="1934.76" y2="807.15" stroke="#000" stroke-width="1.25"/>
<line x1="1948.33" y1="969.40" x2="1948.33" y2="963.10" stroke="#000" stroke-width="1.25"/>
<line x1="1948.33" y1="800.85" x2="1948.33" y2="807.15" stroke="#000" stroke-width="1.25"/>
<line x1="1961.89" y1="969.40" x2="1961.89" y2="963.10" stroke="#000" stroke-width="1.25"/>
<line x1="1961.89" y1="800.85" x2="1961.89" y2="807.15" stroke="#000" stroke-width="1.25"/>
<line x1="1975.45" y1="969.40" x2="1975.45" y2="963.10" stroke="#000" stroke-width="1.25"/>
<line x1="1975.45" y1="800.85" x2="1975.45" y2="807.15" stroke="#000" stroke-width="1.25"/>
<line x1="1989.02" y1="969.40" x2="1989.02" y2="963.10" stroke="#000" stroke-width="1.25"/>
<line x1="1989.02" y1="800.85" x2="1989.02" y2="807.15" stroke="#000" stroke-width="1.25"/>
<line x1="1474.10" y1="824.00" x2="1480.40" y2="824.00" stroke="#000" stroke-width="1.25"/>
<line x1="2003.90" y1="824.00" x2="1997.60" y2="824.00" stroke="#000" stroke-width="1.25"/>
<line x1="1474.10" y1="884.60" x2="1480.40" y2="884.60" stroke="#000" stroke-width="1.25"/>
<line x1="2003.90" y1="884.60" x2="1997.60" y2="884.60" stroke="#000" stroke-width="1.25"/>
<line x1="1474.10" y1="945.00" x2="1480.40" y2="945.00" stroke="#000" stroke-width="1.25"/>
<line x1="2003.90" y1="945.00" x2="1997.60" y2="945.00" stroke="#000" stroke-width="1.25"/>
<text transform="translate(1487.15 988.30) scale(0.825 1)" font-size="17.4" fill="#0c0c18" text-anchor="middle" stroke="#0c0c18" stroke-width="0.35">1</text>
<text transform="translate(1514.28 988.30) scale(0.825 1)" font-size="17.4" fill="#0c0c18" text-anchor="middle" stroke="#0c0c18" stroke-width="0.35">3</text>
<text transform="translate(1541.41 988.30) scale(0.825 1)" font-size="17.4" fill="#0c0c18" text-anchor="middle" stroke="#0c0c18" stroke-width="0.35">5</text>
<text transform="translate(1568.53 988.30) scale(0.825 1)" font-size="17.4" fill="#0c0c18" text-anchor="middle" stroke="#0c0c18" stroke-width="0.35">7</text>
<text transform="translate(1595.66 988.30) scale(0.825 1)" font-size="17.4" fill="#0c0c18" text-anchor="middle" stroke="#0c0c18" stroke-width="0.35">9</text>
<text transform="translate(1622.79 988.30) scale(0.825 1)" font-size="17.4" fill="#0c0c18" text-anchor="middle" stroke="#0c0c18" stroke-width="0.35">11</text>
<text transform="translate(1649.92 988.30) scale(0.825 1)" font-size="17.4" fill="#0c0c18" text-anchor="middle" stroke="#0c0c18" stroke-width="0.35">13</text>
<text transform="translate(1677.05 988.30) scale(0.825 1)" font-size="17.4" fill="#0c0c18" text-anchor="middle" stroke="#0c0c18" stroke-width="0.35">15</text>
<text transform="translate(1704.17 988.30) scale(0.825 1)" font-size="17.4" fill="#0c0c18" text-anchor="middle" stroke="#0c0c18" stroke-width="0.35">17</text>
<text transform="translate(1731.30 988.30) scale(0.825 1)" font-size="17.4" fill="#0c0c18" text-anchor="middle" stroke="#0c0c18" stroke-width="0.35">19</text>
<text transform="translate(1744.87 988.30) scale(0.825 1)" font-size="17.4" fill="#0c0c18" text-anchor="middle" stroke="#0c0c18" stroke-width="0.35">1</text>
<text transform="translate(1771.99 988.30) scale(0.825 1)" font-size="17.4" fill="#0c0c18" text-anchor="middle" stroke="#0c0c18" stroke-width="0.35">3</text>
<text transform="translate(1799.12 988.30) scale(0.825 1)" font-size="17.4" fill="#0c0c18" text-anchor="middle" stroke="#0c0c18" stroke-width="0.35">5</text>
<text transform="translate(1826.25 988.30) scale(0.825 1)" font-size="17.4" fill="#0c0c18" text-anchor="middle" stroke="#0c0c18" stroke-width="0.35">7</text>
<text transform="translate(1853.38 988.30) scale(0.825 1)" font-size="17.4" fill="#0c0c18" text-anchor="middle" stroke="#0c0c18" stroke-width="0.35">9</text>
<text transform="translate(1880.51 988.30) scale(0.825 1)" font-size="17.4" fill="#0c0c18" text-anchor="middle" stroke="#0c0c18" stroke-width="0.35">11</text>
<text transform="translate(1907.63 988.30) scale(0.825 1)" font-size="17.4" fill="#0c0c18" text-anchor="middle" stroke="#0c0c18" stroke-width="0.35">13</text>
<text transform="translate(1934.76 988.30) scale(0.825 1)" font-size="17.4" fill="#0c0c18" text-anchor="middle" stroke="#0c0c18" stroke-width="0.35">15</text>
<text transform="translate(1961.89 988.30) scale(0.825 1)" font-size="17.4" fill="#0c0c18" text-anchor="middle" stroke="#0c0c18" stroke-width="0.35">17</text>
<text transform="translate(1989.02 988.30) scale(0.825 1)" font-size="17.4" fill="#0c0c18" text-anchor="middle" stroke="#0c0c18" stroke-width="0.35">19</text>
<text transform="translate(1467.70 829.20) scale(0.825 1)" font-size="17.4" fill="#0c0c18" text-anchor="end" stroke="#0c0c18" stroke-width="0.35">50</text>
<text transform="translate(1467.70 889.80) scale(0.825 1)" font-size="17.4" fill="#0c0c18" text-anchor="end" stroke="#0c0c18" stroke-width="0.35">0</text>
<text transform="translate(1467.70 950.20) scale(0.825 1)" font-size="17.4" fill="#0c0c18" text-anchor="end" stroke="#0c0c18" stroke-width="0.35">-50</text>
<text transform="translate(1736.50 1012.50) scale(0.965 1)" font-size="19.7" fill="#0c0c18" text-anchor="middle" stroke="#0c0c18" stroke-width="0.3">Patient number</text>
<text transform="translate(1441.00 883.20) rotate(-90) scale(0.955 1.09)" font-size="19.7" fill="#0c0c18" text-anchor="middle" stroke="#0c0c18" stroke-width="0.3">PC 1</text>
<text transform="translate(1605.90 875.40) scale(0.96 1)" font-size="19.5" fill="#dc2d00" text-anchor="middle" stroke="#dc2d00" stroke-width="0.25">T1</text>
<text transform="translate(1865.80 909.60) scale(0.96 1)" font-size="19.5" fill="#007f00" text-anchor="middle" stroke="#007f00" stroke-width="0.25">T3</text>
<text transform="translate(1393.90 828.80) scale(0.95 1)" font-size="34.8" fill="#000" text-anchor="start" stroke="#000" stroke-width="0.3">l</text>
<text transform="translate(1401.90 828.80) scale(0.9 1)" font-size="34.8" fill="#000" text-anchor="start" stroke="#000" stroke-width="0.3">)</text>
<rect x="817.69" y="93.10" width="8.62" height="0.90" fill="#000" stroke="#000" stroke-width="1.0"/>
<rect x="828.71" y="89.30" width="8.62" height="4.70" fill="#00008c" stroke="#000" stroke-width="1.0"/>
<rect x="839.73" y="89.30" width="8.62" height="4.70" fill="#00008c" stroke="#000" stroke-width="1.0"/>
<rect x="850.75" y="93.10" width="8.62" height="0.90" fill="#000" stroke="#000" stroke-width="1.0"/>
<rect x="883.81" y="94.00" width="8.62" height="15.70" fill="#00008c" stroke="#000" stroke-width="1.0"/>
<rect x="894.83" y="93.10" width="8.62" height="0.90" fill="#000" stroke="#000" stroke-width="1.0"/>
<rect x="916.87" y="89.30" width="8.62" height="4.70" fill="#00008c" stroke="#000" stroke-width="1.0"/>
<rect x="927.89" y="94.00" width="8.62" height="2.30" fill="#00008c" stroke="#000" stroke-width="1.0"/>
<rect x="938.91" y="69.80" width="8.62" height="24.20" fill="#00008c" stroke="#000" stroke-width="1.0"/>
<rect x="949.93" y="94.00" width="8.62" height="4.90" fill="#00008c" stroke="#000" stroke-width="1.0"/>
<rect x="982.99" y="92.10" width="8.62" height="1.90" fill="#dc2d00" stroke="#000" stroke-width="1.0"/>
<rect x="994.01" y="93.10" width="8.62" height="0.90" fill="#000" stroke="#000" stroke-width="1.0"/>
<rect x="1005.03" y="65.00" width="8.62" height="29.00" fill="#00008c" stroke="#000" stroke-width="1.0"/>
<rect x="1016.05" y="94.00" width="8.62" height="7.10" fill="#dc2d00" stroke="#000" stroke-width="1.0"/>
<rect x="1027.07" y="90.30" width="8.62" height="3.70" fill="#00008c" stroke="#000" stroke-width="1.0"/>
<rect x="1038.09" y="89.30" width="8.62" height="4.70" fill="#00008c" stroke="#000" stroke-width="1.0"/>
<rect x="1049.11" y="94.00" width="8.62" height="3.50" fill="#dc2d00" stroke="#000" stroke-width="1.0"/>
<rect x="1082.17" y="93.10" width="8.62" height="0.90" fill="#000" stroke="#000" stroke-width="1.0"/>
<rect x="1093.19" y="85.70" width="8.62" height="8.30" fill="#00008c" stroke="#000" stroke-width="1.0"/>
<rect x="1104.21" y="94.00" width="8.62" height="24.30" fill="#dc2d00" stroke="#000" stroke-width="1.0"/>
<rect x="1126.25" y="94.00" width="8.62" height="3.50" fill="#dc2d00" stroke="#000" stroke-width="1.0"/>
<rect x="1137.27" y="81.00" width="8.62" height="13.00" fill="#dc2d00" stroke="#000" stroke-width="1.0"/>
<rect x="1148.29" y="93.10" width="8.62" height="0.90" fill="#000" stroke="#000" stroke-width="1.0"/>
<rect x="1159.31" y="78.50" width="8.62" height="15.50" fill="#00008c" stroke="#000" stroke-width="1.0"/>
<rect x="1170.33" y="91.70" width="8.62" height="2.30" fill="#00008c" stroke="#000" stroke-width="1.0"/>
<rect x="1181.35" y="94.00" width="8.62" height="3.50" fill="#00008c" stroke="#000" stroke-width="1.0"/>
<rect x="1192.37" y="94.00" width="8.62" height="51.00" fill="#dc2d00" stroke="#000" stroke-width="1.0"/>
<rect x="1203.39" y="93.10" width="8.62" height="0.90" fill="#000" stroke="#000" stroke-width="1.0"/>
<rect x="1214.41" y="60.20" width="8.62" height="33.80" fill="#dc2d00" stroke="#000" stroke-width="1.0"/>
<rect x="1225.43" y="86.90" width="8.62" height="7.10" fill="#00008c" stroke="#000" stroke-width="1.0"/>
<rect x="1236.45" y="80.90" width="8.62" height="13.10" fill="#00008c" stroke="#000" stroke-width="1.0"/>
<rect x="1247.47" y="91.70" width="8.62" height="2.30" fill="#dc2d00" stroke="#000" stroke-width="1.0"/>
<rect x="1258.49" y="94.00" width="8.62" height="0.90" fill="#000" stroke="#000" stroke-width="1.0"/>
<rect x="1269.51" y="94.00" width="8.62" height="9.50" fill="#dc2d00" stroke="#000" stroke-width="1.0"/>
<rect x="1291.55" y="94.00" width="8.62" height="2.30" fill="#dc2d00" stroke="#000" stroke-width="1.0"/>
<rect x="1302.57" y="94.00" width="8.62" height="2.30" fill="#00008c" stroke="#000" stroke-width="1.0"/>
<line x1="811.10" y1="94.00" x2="1341.30" y2="94.00" stroke="#000" stroke-width="1.2"/>
<rect x="811.10" y="9.30" width="530.20" height="168.40" fill="none" stroke="#000" stroke-width="1.5"/>
<line x1="822.00" y1="177.70" x2="822.00" y2="171.40" stroke="#000" stroke-width="1.25"/>
<line x1="822.00" y1="9.30" x2="822.00" y2="15.60" stroke="#000" stroke-width="1.25"/>
<line x1="866.08" y1="177.70" x2="866.08" y2="171.40" stroke="#000" stroke-width="1.25"/>
<line x1="866.08" y1="9.30" x2="866.08" y2="15.60" stroke="#000" stroke-width="1.25"/>
<line x1="921.18" y1="177.70" x2="921.18" y2="171.40" stroke="#000" stroke-width="1.25"/>
<line x1="921.18" y1="9.30" x2="921.18" y2="15.60" stroke="#000" stroke-width="1.25"/>
<line x1="976.28" y1="177.70" x2="976.28" y2="171.40" stroke="#000" stroke-width="1.25"/>
<line x1="976.28" y1="9.30" x2="976.28" y2="15.60" stroke="#000" stroke-width="1.25"/>
<line x1="1031.38" y1="177.70" x2="1031.38" y2="171.40" stroke="#000" stroke-width="1.25"/>
<line x1="1031.38" y1="9.30" x2="1031.38" y2="15.60" stroke="#000" stroke-width="1.25"/>
<line x1="1086.48" y1="177.70" x2="1086.48" y2="171.40" stroke="#000" stroke-width="1.25"/>
<line x1="1086.48" y1="9.30" x2="1086.48" y2="15.60" stroke="#000" stroke-width="1.25"/>
<line x1="1141.58" y1="177.70" x2="1141.58" y2="171.40" stroke="#000" stroke-width="1.25"/>
<line x1="1141.58" y1="9.30" x2="1141.58" y2="15.60" stroke="#000" stroke-width="1.25"/>
<line x1="1196.68" y1="177.70" x2="1196.68" y2="171.40" stroke="#000" stroke-width="1.25"/>
<line x1="1196.68" y1="9.30" x2="1196.68" y2="15.60" stroke="#000" stroke-width="1.25"/>
<line x1="1251.78" y1="177.70" x2="1251.78" y2="171.40" stroke="#000" stroke-width="1.25"/>
<line x1="1251.78" y1="9.30" x2="1251.78" y2="15.60" stroke="#000" stroke-width="1.25"/>
<line x1="1306.88" y1="177.70" x2="1306.88" y2="171.40" stroke="#000" stroke-width="1.25"/>
<line x1="1306.88" y1="9.30" x2="1306.88" y2="15.60" stroke="#000" stroke-width="1.25"/>
<line x1="811.10" y1="51.30" x2="817.40" y2="51.30" stroke="#000" stroke-width="1.25"/>
<line x1="1341.30" y1="51.30" x2="1335.00" y2="51.30" stroke="#000" stroke-width="1.25"/>
<line x1="811.10" y1="94.00" x2="817.40" y2="94.00" stroke="#000" stroke-width="1.25"/>
<line x1="1341.30" y1="94.00" x2="1335.00" y2="94.00" stroke="#000" stroke-width="1.25"/>
<line x1="811.10" y1="135.50" x2="817.40" y2="135.50" stroke="#000" stroke-width="1.25"/>
<line x1="1341.30" y1="135.50" x2="1335.00" y2="135.50" stroke="#000" stroke-width="1.25"/>
<text transform="translate(822.00 196.60) scale(0.825 1)" font-size="17.4" fill="#2a1440" text-anchor="middle" stroke="#2a1440" stroke-width="0.35">1</text>
<text transform="translate(866.08 196.60) scale(0.825 1)" font-size="17.4" fill="#2a1440" text-anchor="middle" stroke="#2a1440" stroke-width="0.35">5</text>
<text transform="translate(921.18 196.60) scale(0.825 1)" font-size="17.4" fill="#2a1440" text-anchor="middle" stroke="#2a1440" stroke-width="0.35">10</text>
<text transform="translate(976.28 196.60) scale(0.825 1)" font-size="17.4" fill="#2a1440" text-anchor="middle" stroke="#2a1440" stroke-width="0.35">15</text>
<text transform="translate(1031.38 196.60) scale(0.825 1)" font-size="17.4" fill="#2a1440" text-anchor="middle" stroke="#2a1440" stroke-width="0.35">20</text>
<text transform="translate(1086.48 196.60) scale(0.825 1)" font-size="17.4" fill="#2a1440" text-anchor="middle" stroke="#2a1440" stroke-width="0.35">25</text>
<text transform="translate(1141.58 196.60) scale(0.825 1)" font-size="17.4" fill="#2a1440" text-anchor="middle" stroke="#2a1440" stroke-width="0.35">30</text>
<text transform="translate(1196.68 196.60) scale(0.825 1)" font-size="17.4" fill="#2a1440" text-anchor="middle" stroke="#2a1440" stroke-width="0.35">35</text>
<text transform="translate(1251.78 196.60) scale(0.825 1)" font-size="17.4" fill="#2a1440" text-anchor="middle" stroke="#2a1440" stroke-width="0.35">40</text>
<text transform="translate(1306.88 196.60) scale(0.825 1)" font-size="17.4" fill="#2a1440" text-anchor="middle" stroke="#2a1440" stroke-width="0.35">45</text>
<text transform="translate(803.70 14.50) scale(0.825 1)" font-size="17.4" fill="#2a1440" text-anchor="end" stroke="#2a1440" stroke-width="0.35">1</text>
<text transform="translate(803.70 56.50) scale(0.825 1)" font-size="17.4" fill="#2a1440" text-anchor="end" stroke="#2a1440" stroke-width="0.35">0.5</text>
<text transform="translate(803.70 99.20) scale(0.825 1)" font-size="17.4" fill="#2a1440" text-anchor="end" stroke="#2a1440" stroke-width="0.35">0</text>
<text transform="translate(803.70 140.70) scale(0.825 1)" font-size="17.4" fill="#2a1440" text-anchor="end" stroke="#2a1440" stroke-width="0.35">-0.5</text>
<text transform="translate(803.70 182.90) scale(0.825 1)" font-size="17.4" fill="#2a1440" text-anchor="end" stroke="#2a1440" stroke-width="0.35">-1</text>
<text transform="translate(1073.90 220.80) scale(0.965 1)" font-size="19.7" fill="#0c0c18" text-anchor="middle" stroke="#0c0c18" stroke-width="0.3">Metabolite number</text>
<text transform="translate(766.20 95.10) rotate(-90) scale(0.985 1.09)" font-size="19.7" fill="#0c0c18" text-anchor="middle" stroke="#0c0c18" stroke-width="0.3">Loadings on PC 1</text>
<text transform="translate(960.04 51.70) scale(0.919 1)" font-size="13.6" fill="#2c2c40" text-anchor="start" stroke="#2c2c40" stroke-width="0.15">Methionine</text>
<text transform="translate(856.22 69.10) scale(0.9609 1)" font-size="13.6" fill="#2c2c40" text-anchor="start" stroke="#2c2c40" stroke-width="0.15">3-Methyl-</text>
<text transform="translate(856.22 85.80) scale(0.9772 1)" font-size="13.6" fill="#2c2c40" text-anchor="start" stroke="#2c2c40" stroke-width="0.15">2-oxovalerate</text>
<text transform="translate(990.75 116.00) scale(0.9533 1)" font-size="13.6" fill="#2c2c40" text-anchor="start" stroke="#2c2c40" stroke-width="0.15">Pyruvate</text>
<text transform="translate(1054.18 116.00) scale(0.9456 1)" font-size="13.6" fill="#2c2c40" text-anchor="start" stroke="#2c2c40" stroke-width="0.15">Cytrate</text>
<text transform="translate(1111.60 73.80) scale(0.8739 1)" font-size="13.6" fill="#2c2c40" text-anchor="start" stroke="#2c2c40" stroke-width="0.15">GPC+APC</text>
<text transform="translate(1123.62 112.50) scale(0.8994 1)" font-size="13.6" fill="#2c2c40" text-anchor="start" stroke="#2c2c40" stroke-width="0.15">Choline</text>
<text transform="translate(1085.89 140.60) scale(0.9326 1)" font-size="13.6" fill="#2c2c40" text-anchor="start" stroke="#2c2c40" stroke-width="0.15">Creatinine</text>
<text transform="translate(1186.04 158.60) scale(0.9596 1)" font-size="13.6" fill="#2c2c40" text-anchor="start" stroke="#2c2c40" stroke-width="0.15">Lactate</text>
<text transform="translate(1245.47 75.80) scale(0.982 1)" font-size="13.6" fill="#2c2c40" text-anchor="start" stroke="#2c2c40" stroke-width="0.15">Tyrosine</text>
<text transform="translate(1261.82 90.10) scale(0.905 1)" font-size="13.6" fill="#2c2c40" text-anchor="start" stroke="#2c2c40" stroke-width="0.15">Hisidine</text>
<text transform="translate(1289.53 112.50) scale(0.958 1)" font-size="13.6" fill="#2c2c40" text-anchor="start" stroke="#2c2c40" stroke-width="0.15">Adenine</text>
<text transform="translate(1261.82 129.50) scale(0.9299 1)" font-size="13.6" fill="#2c2c40" text-anchor="start" stroke="#2c2c40" stroke-width="0.15">Hippurate</text>
<text transform="translate(693.90 35.10) scale(0.95 1)" font-size="34.8" fill="#000" text-anchor="start" stroke="#000" stroke-width="0.3">b</text>
<text transform="translate(714.00 35.10) scale(0.9 1)" font-size="34.8" fill="#000" text-anchor="start" stroke="#000" stroke-width="0.3">)</text>
<rect x="828.71" y="351.60" width="8.61" height="4.40" fill="#00008c" stroke="#000" stroke-width="1.0"/>
<rect x="839.73" y="354.00" width="8.61" height="2.00" fill="#00008c" stroke="#000" stroke-width="1.0"/>
<rect x="850.75" y="355.10" width="8.61" height="0.90" fill="#000" stroke="#000" stroke-width="1.0"/>
<rect x="883.80" y="356.00" width="8.61" height="26.70" fill="#00008c" stroke="#000" stroke-width="1.0"/>
<rect x="894.82" y="355.10" width="8.61" height="0.90" fill="#000" stroke="#000" stroke-width="1.0"/>
<rect x="905.84" y="355.10" width="8.61" height="0.90" fill="#000" stroke="#000" stroke-width="1.0"/>
<rect x="916.85" y="333.30" width="8.61" height="22.70" fill="#dc2d00" stroke="#000" stroke-width="1.0"/>
<rect x="927.87" y="356.00" width="8.61" height="2.40" fill="#00008c" stroke="#000" stroke-width="1.0"/>
<rect x="938.89" y="334.60" width="8.61" height="21.40" fill="#dc2d00" stroke="#000" stroke-width="1.0"/>
<rect x="949.91" y="356.00" width="8.61" height="5.00" fill="#00008c" stroke="#000" stroke-width="1.0"/>
<rect x="960.93" y="355.10" width="8.61" height="0.90" fill="#000" stroke="#000" stroke-width="1.0"/>
<rect x="971.94" y="350.30" width="8.61" height="5.70" fill="#00008c" stroke="#000" stroke-width="1.0"/>
<rect x="982.96" y="353.00" width="8.61" height="3.00" fill="#dc2d00" stroke="#000" stroke-width="1.0"/>
<rect x="993.98" y="355.10" width="8.61" height="0.90" fill="#000" stroke="#000" stroke-width="1.0"/>
<rect x="1005.00" y="329.60" width="8.61" height="26.40" fill="#dc2d00" stroke="#000" stroke-width="1.0"/>
<rect x="1016.02" y="356.00" width="8.61" height="9.40" fill="#dc2d00" stroke="#000" stroke-width="1.0"/>
<rect x="1027.03" y="353.00" width="8.61" height="3.00" fill="#dc2d00" stroke="#000" stroke-width="1.0"/>
<rect x="1038.05" y="341.90" width="8.61" height="14.10" fill="#dc2d00" stroke="#000" stroke-width="1.0"/>
<rect x="1049.07" y="356.00" width="8.61" height="3.40" fill="#dc2d00" stroke="#000" stroke-width="1.0"/>
<rect x="1093.14" y="354.00" width="8.61" height="2.00" fill="#00008c" stroke="#000" stroke-width="1.0"/>
<rect x="1104.16" y="356.00" width="8.61" height="30.40" fill="#dc2d00" stroke="#000" stroke-width="1.0"/>
<rect x="1115.18" y="356.00" width="8.61" height="0.90" fill="#000" stroke="#000" stroke-width="1.0"/>
<rect x="1126.20" y="356.00" width="8.61" height="3.40" fill="#00008c" stroke="#000" stroke-width="1.0"/>
<rect x="1137.21" y="343.30" width="8.61" height="12.70" fill="#dc2d00" stroke="#000" stroke-width="1.0"/>
<rect x="1148.23" y="348.00" width="8.61" height="8.00" fill="#00008c" stroke="#000" stroke-width="1.0"/>
<rect x="1159.25" y="350.30" width="8.61" height="5.70" fill="#00008c" stroke="#000" stroke-width="1.0"/>
<rect x="1170.27" y="353.00" width="8.61" height="3.00" fill="#dc2d00" stroke="#000" stroke-width="1.0"/>
<rect x="1181.29" y="356.00" width="8.61" height="6.00" fill="#dc2d00" stroke="#000" stroke-width="1.0"/>
<rect x="1192.30" y="356.00" width="8.61" height="28.10" fill="#00008c" stroke="#000" stroke-width="1.0"/>
<rect x="1203.32" y="355.10" width="8.61" height="0.90" fill="#000" stroke="#000" stroke-width="1.0"/>
<rect x="1214.34" y="312.60" width="8.61" height="43.40" fill="#dc2d00" stroke="#000" stroke-width="1.0"/>
<rect x="1225.36" y="350.60" width="8.61" height="5.40" fill="#dc2d00" stroke="#000" stroke-width="1.0"/>
<rect x="1236.38" y="345.60" width="8.61" height="10.40" fill="#dc2d00" stroke="#000" stroke-width="1.0"/>
<rect x="1247.39" y="354.00" width="8.61" height="2.00" fill="#dc2d00" stroke="#000" stroke-width="1.0"/>
<rect x="1258.41" y="356.00" width="8.61" height="0.90" fill="#000" stroke="#000" stroke-width="1.0"/>
<rect x="1269.43" y="356.00" width="8.61" height="9.40" fill="#dc2d00" stroke="#000" stroke-width="1.0"/>
<rect x="1291.47" y="356.00" width="8.61" height="2.40" fill="#00008c" stroke="#000" stroke-width="1.0"/>
<rect x="1302.48" y="356.00" width="8.61" height="2.40" fill="#00008c" stroke="#000" stroke-width="1.0"/>
<rect x="1313.50" y="355.10" width="8.61" height="0.90" fill="#000" stroke="#000" stroke-width="1.0"/>
<line x1="811.05" y1="356.00" x2="1341.10" y2="356.00" stroke="#000" stroke-width="1.2"/>
<rect x="811.05" y="271.75" width="530.05" height="168.55" fill="none" stroke="#000" stroke-width="1.5"/>
<line x1="822.00" y1="440.30" x2="822.00" y2="434.00" stroke="#000" stroke-width="1.25"/>
<line x1="822.00" y1="271.75" x2="822.00" y2="278.05" stroke="#000" stroke-width="1.25"/>
<line x1="866.07" y1="440.30" x2="866.07" y2="434.00" stroke="#000" stroke-width="1.25"/>
<line x1="866.07" y1="271.75" x2="866.07" y2="278.05" stroke="#000" stroke-width="1.25"/>
<line x1="921.16" y1="440.30" x2="921.16" y2="434.00" stroke="#000" stroke-width="1.25"/>
<line x1="921.16" y1="271.75" x2="921.16" y2="278.05" stroke="#000" stroke-width="1.25"/>
<line x1="976.25" y1="440.30" x2="976.25" y2="434.00" stroke="#000" stroke-width="1.25"/>
<line x1="976.25" y1="271.75" x2="976.25" y2="278.05" stroke="#000" stroke-width="1.25"/>
<line x1="1031.34" y1="440.30" x2="1031.34" y2="434.00" stroke="#000" stroke-width="1.25"/>
<line x1="1031.34" y1="271.75" x2="1031.34" y2="278.05" stroke="#000" stroke-width="1.25"/>
<line x1="1086.43" y1="440.30" x2="1086.43" y2="434.00" stroke="#000" stroke-width="1.25"/>
<line x1="1086.43" y1="271.75" x2="1086.43" y2="278.05" stroke="#000" stroke-width="1.25"/>
<line x1="1141.52" y1="440.30" x2="1141.52" y2="434.00" stroke="#000" stroke-width="1.25"/>
<line x1="1141.52" y1="271.75" x2="1141.52" y2="278.05" stroke="#000" stroke-width="1.25"/>
<line x1="1196.61" y1="440.30" x2="1196.61" y2="434.00" stroke="#000" stroke-width="1.25"/>
<line x1="1196.61" y1="271.75" x2="1196.61" y2="278.05" stroke="#000" stroke-width="1.25"/>
<line x1="1251.70" y1="440.30" x2="1251.70" y2="434.00" stroke="#000" stroke-width="1.25"/>
<line x1="1251.70" y1="271.75" x2="1251.70" y2="278.05" stroke="#000" stroke-width="1.25"/>
<line x1="1306.79" y1="440.30" x2="1306.79" y2="434.00" stroke="#000" stroke-width="1.25"/>
<line x1="1306.79" y1="271.75" x2="1306.79" y2="278.05" stroke="#000" stroke-width="1.25"/>
<line x1="811.05" y1="313.90" x2="817.35" y2="313.90" stroke="#000" stroke-width="1.25"/>
<line x1="1341.10" y1="313.90" x2="1334.80" y2="313.90" stroke="#000" stroke-width="1.25"/>
<line x1="811.05" y1="356.00" x2="817.35" y2="356.00" stroke="#000" stroke-width="1.25"/>
<line x1="1341.10" y1="356.00" x2="1334.80" y2="356.00" stroke="#000" stroke-width="1.25"/>
<line x1="811.05" y1="398.20" x2="817.35" y2="398.20" stroke="#000" stroke-width="1.25"/>
<line x1="1341.10" y1="398.20" x2="1334.80" y2="398.20" stroke="#000" stroke-width="1.25"/>
<text transform="translate(822.00 459.20) scale(0.825 1)" font-size="17.4" fill="#2a1440" text-anchor="middle" stroke="#2a1440" stroke-width="0.35">1</text>
<text transform="translate(866.07 459.20) scale(0.825 1)" font-size="17.4" fill="#2a1440" text-anchor="middle" stroke="#2a1440" stroke-width="0.35">5</text>
<text transform="translate(921.16 459.20) scale(0.825 1)" font-size="17.4" fill="#2a1440" text-anchor="middle" stroke="#2a1440" stroke-width="0.35">10</text>
<text transform="translate(976.25 459.20) scale(0.825 1)" font-size="17.4" fill="#2a1440" text-anchor="middle" stroke="#2a1440" stroke-width="0.35">15</text>
<text transform="translate(1031.34 459.20) scale(0.825 1)" font-size="17.4" fill="#2a1440" text-anchor="middle" stroke="#2a1440" stroke-width="0.35">20</text>
<text transform="translate(1086.43 459.20) scale(0.825 1)" font-size="17.4" fill="#2a1440" text-anchor="middle" stroke="#2a1440" stroke-width="0.35">25</text>
<text transform="translate(1141.52 459.20) scale(0.825 1)" font-size="17.4" fill="#2a1440" text-anchor="middle" stroke="#2a1440" stroke-width="0.35">30</text>
<text transform="translate(1196.61 459.20) scale(0.825 1)" font-size="17.4" fill="#2a1440" text-anchor="middle" stroke="#2a1440" stroke-width="0.35">35</text>
<text transform="translate(1251.70 459.20) scale(0.825 1)" font-size="17.4" fill="#2a1440" text-anchor="middle" stroke="#2a1440" stroke-width="0.35">40</text>
<text transform="translate(1306.79 459.20) scale(0.825 1)" font-size="17.4" fill="#2a1440" text-anchor="middle" stroke="#2a1440" stroke-width="0.35">45</text>
<text transform="translate(803.70 276.95) scale(0.825 1)" font-size="17.4" fill="#2a1440" text-anchor="end" stroke="#2a1440" stroke-width="0.35">1</text>
<text transform="translate(803.70 319.10) scale(0.825 1)" font-size="17.4" fill="#2a1440" text-anchor="end" stroke="#2a1440" stroke-width="0.35">0.5</text>
<text transform="translate(803.70 361.20) scale(0.825 1)" font-size="17.4" fill="#2a1440" text-anchor="end" stroke="#2a1440" stroke-width="0.35">0</text>
<text transform="translate(803.70 403.40) scale(0.825 1)" font-size="17.4" fill="#2a1440" text-anchor="end" stroke="#2a1440" stroke-width="0.35">-0.5</text>
<text transform="translate(803.70 445.50) scale(0.825 1)" font-size="17.4" fill="#2a1440" text-anchor="end" stroke="#2a1440" stroke-width="0.35">-1</text>
<text transform="translate(1073.90 483.40) scale(0.965 1)" font-size="19.7" fill="#0c0c18" text-anchor="middle" stroke="#0c0c18" stroke-width="0.3">Metabolite number</text>
<text transform="translate(766.20 356.80) rotate(-90) scale(0.985 1.09)" font-size="19.7" fill="#0c0c18" text-anchor="middle" stroke="#0c0c18" stroke-width="0.3">Loadings on PC 1</text>
<text transform="translate(944.01 306.70) scale(0.919 1)" font-size="13.6" fill="#2c2c40" text-anchor="start" stroke="#2c2c40" stroke-width="0.15">Methionine</text>
<text transform="translate(894.94 327.40) scale(0.9585 1)" font-size="13.6" fill="#2c2c40" text-anchor="start" stroke="#2c2c40" stroke-width="0.15">Alanine</text>
<text transform="translate(972.39 321.10) scale(0.9533 1)" font-size="13.6" fill="#2c2c40" text-anchor="start" stroke="#2c2c40" stroke-width="0.15">Pyruvate</text>
<text transform="translate(1019.13 334.40) scale(0.9057 1)" font-size="13.6" fill="#2c2c40" text-anchor="start" stroke="#2c2c40" stroke-width="0.15">Glutamine</text>
<text transform="translate(1025.80 382.50) scale(0.9186 1)" font-size="13.6" fill="#2c2c40" text-anchor="start" stroke="#2c2c40" stroke-width="0.15">Citrate</text>
<text transform="translate(1105.26 336.80) scale(0.879 1)" font-size="13.6" fill="#2c2c40" text-anchor="start" stroke="#2c2c40" stroke-width="0.15">GPC+APC</text>
<text transform="translate(1176.03 302.70) scale(0.958 1)" font-size="13.6" fill="#2c2c40" text-anchor="start" stroke="#2c2c40" stroke-width="0.15">Glucose</text>
<text transform="translate(1077.55 407.50) scale(0.9218 1)" font-size="13.6" fill="#2c2c40" text-anchor="start" stroke="#2c2c40" stroke-width="0.15">Creatinine</text>
<text transform="translate(1145.98 387.70) scale(0.8976 1)" font-size="13.6" fill="#2c2c40" text-anchor="start" stroke="#2c2c40" stroke-width="0.15">myo-</text>
<text transform="translate(1145.98 405.20) scale(0.9155 1)" font-size="13.6" fill="#2c2c40" text-anchor="start" stroke="#2c2c40" stroke-width="0.15">Inositol</text>
<text transform="translate(1230.11 384.50) scale(0.9534 1)" font-size="13.6" fill="#2c2c40" text-anchor="start" stroke="#2c2c40" stroke-width="0.15">Hyppurate</text>
<text transform="translate(689.90 299.00) scale(0.95 1)" font-size="34.8" fill="#000" text-anchor="start" stroke="#000" stroke-width="0.3">e</text>
<text transform="translate(710.40 299.00) scale(0.9 1)" font-size="34.8" fill="#000" text-anchor="start" stroke="#000" stroke-width="0.3">)</text>
<rect x="817.69" y="616.30" width="8.61" height="2.00" fill="#00008c" stroke="#000" stroke-width="1.0"/>
<rect x="828.71" y="606.60" width="8.61" height="11.70" fill="#dc2d00" stroke="#000" stroke-width="1.0"/>
<rect x="839.73" y="611.30" width="8.61" height="7.00" fill="#dc2d00" stroke="#000" stroke-width="1.0"/>
<rect x="861.76" y="617.40" width="8.61" height="0.90" fill="#000" stroke="#000" stroke-width="1.0"/>
<rect x="872.78" y="617.40" width="8.61" height="0.90" fill="#000" stroke="#000" stroke-width="1.0"/>
<rect x="883.80" y="618.30" width="8.61" height="29.10" fill="#00008c" stroke="#000" stroke-width="1.0"/>
<rect x="905.84" y="617.40" width="8.61" height="0.90" fill="#000" stroke="#000" stroke-width="1.0"/>
<rect x="916.85" y="590.60" width="8.61" height="27.70" fill="#dc2d00" stroke="#000" stroke-width="1.0"/>
<rect x="927.87" y="618.30" width="8.61" height="5.00" fill="#00008c" stroke="#000" stroke-width="1.0"/>
<rect x="938.89" y="605.20" width="8.61" height="13.10" fill="#00008c" stroke="#000" stroke-width="1.0"/>
<rect x="949.91" y="618.30" width="8.61" height="5.00" fill="#00008c" stroke="#000" stroke-width="1.0"/>
<rect x="960.93" y="617.40" width="8.61" height="0.90" fill="#000" stroke="#000" stroke-width="1.0"/>
<rect x="971.94" y="617.40" width="8.61" height="0.90" fill="#000" stroke="#000" stroke-width="1.0"/>
<rect x="982.96" y="614.90" width="8.61" height="3.40" fill="#dc2d00" stroke="#000" stroke-width="1.0"/>
<rect x="1005.00" y="602.90" width="8.61" height="15.40" fill="#00008c" stroke="#000" stroke-width="1.0"/>
<rect x="1016.02" y="618.30" width="8.61" height="9.70" fill="#dc2d00" stroke="#000" stroke-width="1.0"/>
<rect x="1027.03" y="616.30" width="8.61" height="2.00" fill="#00008c" stroke="#000" stroke-width="1.0"/>
<rect x="1038.05" y="599.20" width="8.61" height="19.10" fill="#dc2d00" stroke="#000" stroke-width="1.0"/>
<rect x="1049.07" y="618.30" width="8.61" height="3.40" fill="#dc2d00" stroke="#000" stroke-width="1.0"/>
<rect x="1060.09" y="617.40" width="8.61" height="0.90" fill="#000" stroke="#000" stroke-width="1.0"/>
<rect x="1082.12" y="617.40" width="8.61" height="0.90" fill="#000" stroke="#000" stroke-width="1.0"/>
<rect x="1093.14" y="617.40" width="8.61" height="0.90" fill="#000" stroke="#000" stroke-width="1.0"/>
<rect x="1104.16" y="618.30" width="8.61" height="43.80" fill="#dc2d00" stroke="#000" stroke-width="1.0"/>
<rect x="1115.18" y="618.30" width="8.61" height="2.40" fill="#00008c" stroke="#000" stroke-width="1.0"/>
<rect x="1126.20" y="618.30" width="8.61" height="0.90" fill="#000" stroke="#000" stroke-width="1.0"/>
<rect x="1137.21" y="601.60" width="8.61" height="16.70" fill="#dc2d00" stroke="#000" stroke-width="1.0"/>
<rect x="1148.23" y="613.90" width="8.61" height="4.40" fill="#00008c" stroke="#000" stroke-width="1.0"/>
<rect x="1159.25" y="618.30" width="8.61" height="3.40" fill="#00008c" stroke="#000" stroke-width="1.0"/>
<rect x="1170.27" y="617.40" width="8.61" height="0.90" fill="#000" stroke="#000" stroke-width="1.0"/>
<rect x="1181.29" y="618.30" width="8.61" height="9.70" fill="#dc2d00" stroke="#000" stroke-width="1.0"/>
<rect x="1192.30" y="618.30" width="8.61" height="7.40" fill="#00008c" stroke="#000" stroke-width="1.0"/>
<rect x="1203.32" y="618.30" width="8.61" height="2.40" fill="#00008c" stroke="#000" stroke-width="1.0"/>
<rect x="1214.34" y="577.20" width="8.61" height="41.10" fill="#00008c" stroke="#000" stroke-width="1.0"/>
<rect x="1225.36" y="613.90" width="8.61" height="4.40" fill="#00008c" stroke="#000" stroke-width="1.0"/>
<rect x="1236.38" y="611.30" width="8.61" height="7.00" fill="#dc2d00" stroke="#000" stroke-width="1.0"/>
<rect x="1247.39" y="614.90" width="8.61" height="3.40" fill="#dc2d00" stroke="#000" stroke-width="1.0"/>
<rect x="1258.41" y="618.30" width="8.61" height="0.90" fill="#000" stroke="#000" stroke-width="1.0"/>
<rect x="1269.43" y="618.30" width="8.61" height="10.70" fill="#dc2d00" stroke="#000" stroke-width="1.0"/>
<rect x="1291.47" y="618.30" width="8.61" height="2.40" fill="#00008c" stroke="#000" stroke-width="1.0"/>
<rect x="1302.48" y="618.30" width="8.61" height="2.40" fill="#00008c" stroke="#000" stroke-width="1.0"/>
<rect x="1313.50" y="617.40" width="8.61" height="0.90" fill="#000" stroke="#000" stroke-width="1.0"/>
<line x1="811.05" y1="618.30" x2="1341.10" y2="618.30" stroke="#000" stroke-width="1.2"/>
<rect x="811.05" y="534.15" width="530.05" height="168.25" fill="none" stroke="#000" stroke-width="1.5"/>
<line x1="822.00" y1="702.40" x2="822.00" y2="696.10" stroke="#000" stroke-width="1.25"/>
<line x1="822.00" y1="534.15" x2="822.00" y2="540.45" stroke="#000" stroke-width="1.25"/>
<line x1="866.07" y1="702.40" x2="866.07" y2="696.10" stroke="#000" stroke-width="1.25"/>
<line x1="866.07" y1="534.15" x2="866.07" y2="540.45" stroke="#000" stroke-width="1.25"/>
<line x1="921.16" y1="702.40" x2="921.16" y2="696.10" stroke="#000" stroke-width="1.25"/>
<line x1="921.16" y1="534.15" x2="921.16" y2="540.45" stroke="#000" stroke-width="1.25"/>
<line x1="976.25" y1="702.40" x2="976.25" y2="696.10" stroke="#000" stroke-width="1.25"/>
<line x1="976.25" y1="534.15" x2="976.25" y2="540.45" stroke="#000" stroke-width="1.25"/>
<line x1="1031.34" y1="702.40" x2="1031.34" y2="696.10" stroke="#000" stroke-width="1.25"/>
<line x1="1031.34" y1="534.15" x2="1031.34" y2="540.45" stroke="#000" stroke-width="1.25"/>
<line x1="1086.43" y1="702.40" x2="1086.43" y2="696.10" stroke="#000" stroke-width="1.25"/>
<line x1="1086.43" y1="534.15" x2="1086.43" y2="540.45" stroke="#000" stroke-width="1.25"/>
<line x1="1141.52" y1="702.40" x2="1141.52" y2="696.10" stroke="#000" stroke-width="1.25"/>
<line x1="1141.52" y1="534.15" x2="1141.52" y2="540.45" stroke="#000" stroke-width="1.25"/>
<line x1="1196.61" y1="702.40" x2="1196.61" y2="696.10" stroke="#000" stroke-width="1.25"/>
<line x1="1196.61" y1="534.15" x2="1196.61" y2="540.45" stroke="#000" stroke-width="1.25"/>
<line x1="1251.70" y1="702.40" x2="1251.70" y2="696.10" stroke="#000" stroke-width="1.25"/>
<line x1="1251.70" y1="534.15" x2="1251.70" y2="540.45" stroke="#000" stroke-width="1.25"/>
<line x1="1306.79" y1="702.40" x2="1306.79" y2="696.10" stroke="#000" stroke-width="1.25"/>
<line x1="1306.79" y1="534.15" x2="1306.79" y2="540.45" stroke="#000" stroke-width="1.25"/>
<line x1="811.05" y1="576.20" x2="817.35" y2="576.20" stroke="#000" stroke-width="1.25"/>
<line x1="1341.10" y1="576.20" x2="1334.80" y2="576.20" stroke="#000" stroke-width="1.25"/>
<line x1="811.05" y1="618.30" x2="817.35" y2="618.30" stroke="#000" stroke-width="1.25"/>
<line x1="1341.10" y1="618.30" x2="1334.80" y2="618.30" stroke="#000" stroke-width="1.25"/>
<line x1="811.05" y1="660.30" x2="817.35" y2="660.30" stroke="#000" stroke-width="1.25"/>
<line x1="1341.10" y1="660.30" x2="1334.80" y2="660.30" stroke="#000" stroke-width="1.25"/>
<text transform="translate(822.00 721.30) scale(0.825 1)" font-size="17.4" fill="#2a1440" text-anchor="middle" stroke="#2a1440" stroke-width="0.35">1</text>
<text transform="translate(866.07 721.30) scale(0.825 1)" font-size="17.4" fill="#2a1440" text-anchor="middle" stroke="#2a1440" stroke-width="0.35">5</text>
<text transform="translate(921.16 721.30) scale(0.825 1)" font-size="17.4" fill="#2a1440" text-anchor="middle" stroke="#2a1440" stroke-width="0.35">10</text>
<text transform="translate(976.25 721.30) scale(0.825 1)" font-size="17.4" fill="#2a1440" text-anchor="middle" stroke="#2a1440" stroke-width="0.35">15</text>
<text transform="translate(1031.34 721.30) scale(0.825 1)" font-size="17.4" fill="#2a1440" text-anchor="middle" stroke="#2a1440" stroke-width="0.35">20</text>
<text transform="translate(1086.43 721.30) scale(0.825 1)" font-size="17.4" fill="#2a1440" text-anchor="middle" stroke="#2a1440" stroke-width="0.35">25</text>
<text transform="translate(1141.52 721.30) scale(0.825 1)" font-size="17.4" fill="#2a1440" text-anchor="middle" stroke="#2a1440" stroke-width="0.35">30</text>
<text transform="translate(1196.61 721.30) scale(0.825 1)" font-size="17.4" fill="#2a1440" text-anchor="middle" stroke="#2a1440" stroke-width="0.35">35</text>
<text transform="translate(1251.70 721.30) scale(0.825 1)" font-size="17.4" fill="#2a1440" text-anchor="middle" stroke="#2a1440" stroke-width="0.35">40</text>
<text transform="translate(1306.79 721.30) scale(0.825 1)" font-size="17.4" fill="#2a1440" text-anchor="middle" stroke="#2a1440" stroke-width="0.35">45</text>
<text transform="translate(803.70 539.35) scale(0.825 1)" font-size="17.4" fill="#2a1440" text-anchor="end" stroke="#2a1440" stroke-width="0.35">1</text>
<text transform="translate(803.70 581.40) scale(0.825 1)" font-size="17.4" fill="#2a1440" text-anchor="end" stroke="#2a1440" stroke-width="0.35">0.5</text>
<text transform="translate(803.70 623.50) scale(0.825 1)" font-size="17.4" fill="#2a1440" text-anchor="end" stroke="#2a1440" stroke-width="0.35">0</text>
<text transform="translate(803.70 665.50) scale(0.825 1)" font-size="17.4" fill="#2a1440" text-anchor="end" stroke="#2a1440" stroke-width="0.35">-0.5</text>
<text transform="translate(803.70 707.60) scale(0.825 1)" font-size="17.4" fill="#2a1440" text-anchor="end" stroke="#2a1440" stroke-width="0.35">-1</text>
<text transform="translate(1073.90 745.50) scale(0.965 1)" font-size="19.7" fill="#0c0c18" text-anchor="middle" stroke="#0c0c18" stroke-width="0.3">Metabolite number</text>
<text transform="translate(766.20 618.80) rotate(-90) scale(0.985 1.09)" font-size="19.7" fill="#0c0c18" text-anchor="middle" stroke="#0c0c18" stroke-width="0.3">Loadings on PC 1</text>
<text transform="translate(818.83 586.80) scale(0.9499 1)" font-size="16" fill="#3a1d4d" text-anchor="start" stroke="#3a1d4d" stroke-width="0.15">Valine</text>
<text transform="translate(842.86 606.80) scale(0.9303 1)" font-size="16" fill="#3a1d4d" text-anchor="start" stroke="#3a1d4d" stroke-width="0.15">Leucine</text>
<text transform="translate(903.29 575.10) scale(0.9265 1)" font-size="16" fill="#3a1d4d" text-anchor="start" stroke="#3a1d4d" stroke-width="0.15">Alanine</text>
<text transform="translate(933.00 595.80) scale(0.9224 1)" font-size="16" fill="#3a1d4d" text-anchor="start" stroke="#3a1d4d" stroke-width="0.15">Methionine</text>
<text transform="translate(1021.46 588.50) scale(0.9305 1)" font-size="16" fill="#3a1d4d" text-anchor="start" stroke="#3a1d4d" stroke-width="0.15">Glutamine</text>
<text transform="translate(986.74 642.90) scale(0.8733 1)" font-size="16" fill="#3a1d4d" text-anchor="start" stroke="#3a1d4d" stroke-width="0.15">Pyruvate</text>
<text transform="translate(1045.17 635.90) scale(0.9077 1)" font-size="16" fill="#3a1d4d" text-anchor="start" stroke="#3a1d4d" stroke-width="0.15">Citrate</text>
<text transform="translate(1111.60 594.10) scale(0.8865 1)" font-size="16" fill="#3a1d4d" text-anchor="start" stroke="#3a1d4d" stroke-width="0.15">GPC+APC</text>
<text transform="translate(1084.22 677.60) scale(0.9436 1)" font-size="16" fill="#3a1d4d" text-anchor="start" stroke="#3a1d4d" stroke-width="0.15">Creatinine</text>
<text transform="translate(1176.03 642.90) scale(0.9034 1)" font-size="16" fill="#3a1d4d" text-anchor="start" stroke="#3a1d4d" stroke-width="0.15">myo-</text>
<text transform="translate(1176.03 661.20) scale(0.9429 1)" font-size="16" fill="#3a1d4d" text-anchor="start" stroke="#3a1d4d" stroke-width="0.15">Inositol</text>
<text transform="translate(1208.74 632.90) scale(0.9534 1)" font-size="16" fill="#3a1d4d" text-anchor="start" stroke="#3a1d4d" stroke-width="0.15">Histidine</text>
<text transform="translate(1225.44 594.10) scale(0.9282 1)" font-size="16" fill="#3a1d4d" text-anchor="start" stroke="#3a1d4d" stroke-width="0.15">Glucose</text>
<text transform="translate(1250.47 609.10) scale(0.9289 1)" font-size="16" fill="#3a1d4d" text-anchor="start" stroke="#3a1d4d" stroke-width="0.15">Tyrosine</text>
<text transform="translate(1260.15 650.20) scale(0.9342 1)" font-size="16" fill="#3a1d4d" text-anchor="start" stroke="#3a1d4d" stroke-width="0.15">Hippurate</text>
<text transform="translate(693.90 558.00) scale(0.95 1)" font-size="34.8" fill="#000" text-anchor="start" stroke="#000" stroke-width="0.3">h</text>
<text transform="translate(715.20 558.00) scale(0.9 1)" font-size="34.8" fill="#000" text-anchor="start" stroke="#000" stroke-width="0.3">)</text>
<rect x="820.29" y="882.70" width="8.61" height="2.00" fill="#00008c" stroke="#000" stroke-width="1.0"/>
<rect x="831.31" y="875.30" width="8.61" height="9.40" fill="#dc2d00" stroke="#000" stroke-width="1.0"/>
<rect x="842.33" y="882.70" width="8.61" height="2.00" fill="#00008c" stroke="#000" stroke-width="1.0"/>
<rect x="853.35" y="884.70" width="8.61" height="0.90" fill="#000" stroke="#000" stroke-width="1.0"/>
<rect x="864.36" y="882.70" width="8.61" height="2.00" fill="#dc2d00" stroke="#000" stroke-width="1.0"/>
<rect x="875.38" y="883.80" width="8.61" height="0.90" fill="#000" stroke="#000" stroke-width="1.0"/>
<rect x="886.40" y="884.70" width="8.61" height="12.40" fill="#00008c" stroke="#000" stroke-width="1.0"/>
<rect x="908.44" y="883.80" width="8.61" height="0.90" fill="#000" stroke="#000" stroke-width="1.0"/>
<rect x="919.45" y="859.60" width="8.61" height="25.10" fill="#00008c" stroke="#000" stroke-width="1.0"/>
<rect x="930.47" y="884.70" width="8.61" height="2.70" fill="#00008c" stroke="#000" stroke-width="1.0"/>
<rect x="941.49" y="884.70" width="8.61" height="16.10" fill="#00008c" stroke="#000" stroke-width="1.0"/>
<rect x="952.51" y="882.70" width="8.61" height="2.00" fill="#00008c" stroke="#000" stroke-width="1.0"/>
<rect x="963.53" y="882.70" width="8.61" height="2.00" fill="#00008c" stroke="#000" stroke-width="1.0"/>
<rect x="974.54" y="882.70" width="8.61" height="2.00" fill="#00008c" stroke="#000" stroke-width="1.0"/>
<rect x="985.56" y="883.80" width="8.61" height="0.90" fill="#000" stroke="#000" stroke-width="1.0"/>
<rect x="996.58" y="884.70" width="8.61" height="2.70" fill="#dc2d00" stroke="#000" stroke-width="1.0"/>
<rect x="1007.60" y="884.70" width="8.61" height="19.70" fill="#00008c" stroke="#000" stroke-width="1.0"/>
<rect x="1018.62" y="884.70" width="8.61" height="0.90" fill="#000" stroke="#000" stroke-width="1.0"/>
<rect x="1029.63" y="884.70" width="8.61" height="0.90" fill="#000" stroke="#000" stroke-width="1.0"/>
<rect x="1040.65" y="868.00" width="8.61" height="16.70" fill="#dc2d00" stroke="#000" stroke-width="1.0"/>
<rect x="1051.67" y="883.80" width="8.61" height="0.90" fill="#000" stroke="#000" stroke-width="1.0"/>
<rect x="1062.69" y="883.80" width="8.61" height="0.90" fill="#000" stroke="#000" stroke-width="1.0"/>
<rect x="1084.72" y="883.80" width="8.61" height="0.90" fill="#000" stroke="#000" stroke-width="1.0"/>
<rect x="1095.74" y="884.70" width="8.61" height="10.00" fill="#00008c" stroke="#000" stroke-width="1.0"/>
<rect x="1106.76" y="884.70" width="8.61" height="17.40" fill="#dc2d00" stroke="#000" stroke-width="1.0"/>
<rect x="1117.78" y="884.70" width="8.61" height="2.70" fill="#00008c" stroke="#000" stroke-width="1.0"/>
<rect x="1128.80" y="880.30" width="8.61" height="4.40" fill="#dc2d00" stroke="#000" stroke-width="1.0"/>
<rect x="1139.81" y="882.70" width="8.61" height="2.00" fill="#00008c" stroke="#000" stroke-width="1.0"/>
<rect x="1150.83" y="879.00" width="8.61" height="5.70" fill="#00008c" stroke="#000" stroke-width="1.0"/>
<rect x="1161.85" y="884.70" width="8.61" height="25.70" fill="#dc2d00" stroke="#000" stroke-width="1.0"/>
<rect x="1172.87" y="884.70" width="8.61" height="0.90" fill="#000" stroke="#000" stroke-width="1.0"/>
<rect x="1183.89" y="884.70" width="8.61" height="6.40" fill="#dc2d00" stroke="#000" stroke-width="1.0"/>
<rect x="1194.90" y="822.90" width="8.61" height="61.80" fill="#dc2d00" stroke="#000" stroke-width="1.0"/>
<rect x="1205.92" y="884.70" width="8.61" height="5.00" fill="#00008c" stroke="#000" stroke-width="1.0"/>
<rect x="1216.94" y="883.80" width="8.61" height="0.90" fill="#000" stroke="#000" stroke-width="1.0"/>
<rect x="1227.96" y="884.70" width="8.61" height="3.70" fill="#00008c" stroke="#000" stroke-width="1.0"/>
<rect x="1238.98" y="884.70" width="8.61" height="8.70" fill="#00008c" stroke="#000" stroke-width="1.0"/>
<rect x="1249.99" y="883.80" width="8.61" height="0.90" fill="#000" stroke="#000" stroke-width="1.0"/>
<rect x="1261.01" y="883.80" width="8.61" height="0.90" fill="#000" stroke="#000" stroke-width="1.0"/>
<rect x="1272.03" y="883.80" width="8.61" height="0.90" fill="#000" stroke="#000" stroke-width="1.0"/>
<rect x="1294.07" y="883.80" width="8.61" height="0.90" fill="#000" stroke="#000" stroke-width="1.0"/>
<rect x="1305.08" y="883.80" width="8.61" height="0.90" fill="#000" stroke="#000" stroke-width="1.0"/>
<rect x="1316.10" y="883.80" width="8.61" height="0.90" fill="#000" stroke="#000" stroke-width="1.0"/>
<rect x="1327.12" y="883.80" width="8.61" height="0.90" fill="#000" stroke="#000" stroke-width="1.0"/>
<line x1="813.85" y1="884.70" x2="1344.20" y2="884.70" stroke="#000" stroke-width="1.2"/>
<rect x="813.85" y="800.55" width="530.35" height="168.35" fill="none" stroke="#000" stroke-width="1.5"/>
<line x1="824.60" y1="968.90" x2="824.60" y2="962.60" stroke="#000" stroke-width="1.25"/>
<line x1="824.60" y1="800.55" x2="824.60" y2="806.85" stroke="#000" stroke-width="1.25"/>
<line x1="868.67" y1="968.90" x2="868.67" y2="962.60" stroke="#000" stroke-width="1.25"/>
<line x1="868.67" y1="800.55" x2="868.67" y2="806.85" stroke="#000" stroke-width="1.25"/>
<line x1="923.76" y1="968.90" x2="923.76" y2="962.60" stroke="#000" stroke-width="1.25"/>
<line x1="923.76" y1="800.55" x2="923.76" y2="806.85" stroke="#000" stroke-width="1.25"/>
<line x1="978.85" y1="968.90" x2="978.85" y2="962.60" stroke="#000" stroke-width="1.25"/>
<line x1="978.85" y1="800.55" x2="978.85" y2="806.85" stroke="#000" stroke-width="1.25"/>
<line x1="1033.94" y1="968.90" x2="1033.94" y2="962.60" stroke="#000" stroke-width="1.25"/>
<line x1="1033.94" y1="800.55" x2="1033.94" y2="806.85" stroke="#000" stroke-width="1.25"/>
<line x1="1089.03" y1="968.90" x2="1089.03" y2="962.60" stroke="#000" stroke-width="1.25"/>
<line x1="1089.03" y1="800.55" x2="1089.03" y2="806.85" stroke="#000" stroke-width="1.25"/>
<line x1="1144.12" y1="968.90" x2="1144.12" y2="962.60" stroke="#000" stroke-width="1.25"/>
<line x1="1144.12" y1="800.55" x2="1144.12" y2="806.85" stroke="#000" stroke-width="1.25"/>
<line x1="1199.21" y1="968.90" x2="1199.21" y2="962.60" stroke="#000" stroke-width="1.25"/>
<line x1="1199.21" y1="800.55" x2="1199.21" y2="806.85" stroke="#000" stroke-width="1.25"/>
<line x1="1254.30" y1="968.90" x2="1254.30" y2="962.60" stroke="#000" stroke-width="1.25"/>
<line x1="1254.30" y1="800.55" x2="1254.30" y2="806.85" stroke="#000" stroke-width="1.25"/>
<line x1="1309.39" y1="968.90" x2="1309.39" y2="962.60" stroke="#000" stroke-width="1.25"/>
<line x1="1309.39" y1="800.55" x2="1309.39" y2="806.85" stroke="#000" stroke-width="1.25"/>
<line x1="813.85" y1="842.60" x2="820.15" y2="842.60" stroke="#000" stroke-width="1.25"/>
<line x1="1344.20" y1="842.60" x2="1337.90" y2="842.60" stroke="#000" stroke-width="1.25"/>
<line x1="813.85" y1="884.70" x2="820.15" y2="884.70" stroke="#000" stroke-width="1.25"/>
<line x1="1344.20" y1="884.70" x2="1337.90" y2="884.70" stroke="#000" stroke-width="1.25"/>
<line x1="813.85" y1="926.80" x2="820.15" y2="926.80" stroke="#000" stroke-width="1.25"/>
<line x1="1344.20" y1="926.80" x2="1337.90" y2="926.80" stroke="#000" stroke-width="1.25"/>
<text transform="translate(824.60 987.80) scale(0.825 1)" font-size="17.4" fill="#2a1440" text-anchor="middle" stroke="#2a1440" stroke-width="0.35">1</text>
<text transform="translate(868.67 987.80) scale(0.825 1)" font-size="17.4" fill="#2a1440" text-anchor="middle" stroke="#2a1440" stroke-width="0.35">5</text>
<text transform="translate(923.76 987.80) scale(0.825 1)" font-size="17.4" fill="#2a1440" text-anchor="middle" stroke="#2a1440" stroke-width="0.35">10</text>
<text transform="translate(978.85 987.80) scale(0.825 1)" font-size="17.4" fill="#2a1440" text-anchor="middle" stroke="#2a1440" stroke-width="0.35">15</text>
<text transform="translate(1033.94 987.80) scale(0.825 1)" font-size="17.4" fill="#2a1440" text-anchor="middle" stroke="#2a1440" stroke-width="0.35">20</text>
<text transform="translate(1089.03 987.80) scale(0.825 1)" font-size="17.4" fill="#2a1440" text-anchor="middle" stroke="#2a1440" stroke-width="0.35">25</text>
<text transform="translate(1144.12 987.80) scale(0.825 1)" font-size="17.4" fill="#2a1440" text-anchor="middle" stroke="#2a1440" stroke-width="0.35">30</text>
<text transform="translate(1199.21 987.80) scale(0.825 1)" font-size="17.4" fill="#2a1440" text-anchor="middle" stroke="#2a1440" stroke-width="0.35">35</text>
<text transform="translate(1254.30 987.80) scale(0.825 1)" font-size="17.4" fill="#2a1440" text-anchor="middle" stroke="#2a1440" stroke-width="0.35">40</text>
<text transform="translate(1309.39 987.80) scale(0.825 1)" font-size="17.4" fill="#2a1440" text-anchor="middle" stroke="#2a1440" stroke-width="0.35">45</text>
<text transform="translate(806.50 805.75) scale(0.825 1)" font-size="17.4" fill="#2a1440" text-anchor="end" stroke="#2a1440" stroke-width="0.35">1</text>
<text transform="translate(806.50 847.80) scale(0.825 1)" font-size="17.4" fill="#2a1440" text-anchor="end" stroke="#2a1440" stroke-width="0.35">0.5</text>
<text transform="translate(806.50 889.90) scale(0.825 1)" font-size="17.4" fill="#2a1440" text-anchor="end" stroke="#2a1440" stroke-width="0.35">0</text>
<text transform="translate(806.50 932.00) scale(0.825 1)" font-size="17.4" fill="#2a1440" text-anchor="end" stroke="#2a1440" stroke-width="0.35">-0.5</text>
<text transform="translate(806.50 974.10) scale(0.825 1)" font-size="17.4" fill="#2a1440" text-anchor="end" stroke="#2a1440" stroke-width="0.35">-1</text>
<text transform="translate(1075.90 1012.00) scale(0.965 1)" font-size="19.7" fill="#0c0c18" text-anchor="middle" stroke="#0c0c18" stroke-width="0.3">Metabolite number</text>
<text transform="translate(769.50 885.30) rotate(-90) scale(0.985 1.09)" font-size="19.7" fill="#0c0c18" text-anchor="middle" stroke="#0c0c18" stroke-width="0.3">Loadings on PC1</text>
<text transform="translate(819.83 867.80) scale(0.9725 1)" font-size="13.6" fill="#2c2c40" text-anchor="start" stroke="#2c2c40" stroke-width="0.15">Valine</text>
<text transform="translate(862.89 857.80) scale(0.9491 1)" font-size="13.6" fill="#2c2c40" text-anchor="start" stroke="#2c2c40" stroke-width="0.15">3-Methyl-</text>
<text transform="translate(862.89 874.50) scale(0.9772 1)" font-size="13.6" fill="#2c2c40" text-anchor="start" stroke="#2c2c40" stroke-width="0.15">2-oxovalerate</text>
<text transform="translate(828.17 903.50) scale(0.9818 1)" font-size="13.6" fill="#2c2c40" text-anchor="start" stroke="#2c2c40" stroke-width="0.15">3-Hydroxy</text>
<text transform="translate(828.17 920.20) scale(0.9792 1)" font-size="13.6" fill="#2c2c40" text-anchor="start" stroke="#2c2c40" stroke-width="0.15">isobutyrate</text>
<text transform="translate(951.69 902.20) scale(0.9848 1)" font-size="13.6" fill="#2c2c40" text-anchor="start" stroke="#2c2c40" stroke-width="0.15">Acetone</text>
<text transform="translate(1021.46 864.50) scale(0.9057 1)" font-size="13.6" fill="#2c2c40" text-anchor="start" stroke="#2c2c40" stroke-width="0.15">Glutamine</text>
<text transform="translate(1116.61 872.80) scale(0.8994 1)" font-size="13.6" fill="#2c2c40" text-anchor="start" stroke="#2c2c40" stroke-width="0.15">Choline</text>
<text transform="translate(1084.89 915.60) scale(0.9326 1)" font-size="13.6" fill="#2c2c40" text-anchor="start" stroke="#2c2c40" stroke-width="0.15">Creatinine</text>
<text transform="translate(1145.98 927.90) scale(0.9171 1)" font-size="13.6" fill="#2c2c40" text-anchor="start" stroke="#2c2c40" stroke-width="0.15">Mannitol</text>
<text transform="translate(1180.03 906.20) scale(0.9391 1)" font-size="13.6" fill="#2c2c40" text-anchor="start" stroke="#2c2c40" stroke-width="0.15">myo-Inositol</text>
<text transform="translate(1181.04 816.70) scale(0.9596 1)" font-size="13.6" fill="#2c2c40" text-anchor="start" stroke="#2c2c40" stroke-width="0.15">Lactate</text>
<text transform="translate(693.90 829.20) scale(0.95 1)" font-size="34.8" fill="#000" text-anchor="start" stroke="#000" stroke-width="0.3">k</text>
<text transform="translate(713.10 829.20) scale(0.9 1)" font-size="34.8" fill="#000" text-anchor="start" stroke="#000" stroke-width="0.3">)</text>
</svg>
</body></html>
